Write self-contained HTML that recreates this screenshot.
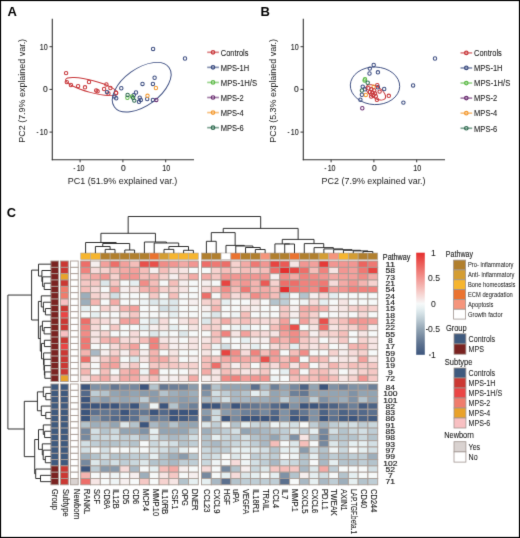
<!DOCTYPE html><html><head><meta charset="utf-8"><style>html,body{margin:0;padding:0;background:#fff;width:520px;height:538px;overflow:hidden}svg text{font-family:"Liberation Sans",sans-serif} svg{will-change:transform}</style></head><body>
<svg width="520" height="538" viewBox="0 0 520 538" style="position:absolute;left:0;top:0">
<defs><filter id="soft" x="0" y="0" width="520" height="538" filterUnits="userSpaceOnUse" color-interpolation-filters="sRGB"><feConvolveMatrix order="3" kernelMatrix="0.0100 0.0800 0.0100 0.0800 0.6400 0.0800 0.0100 0.0800 0.0100" edgeMode="duplicate"/></filter></defs>
<g filter="url(#soft)">
<rect x="0" y="0" width="520" height="538" fill="#fff"/>
<text x="7.50" y="15.65" font-size="13" text-anchor="start" fill="#000" font-weight="bold" >A</text>
<text x="260.60" y="15.65" font-size="13" text-anchor="start" fill="#000" font-weight="bold" >B</text>
<text x="6.70" y="216.80" font-size="12.8" text-anchor="start" fill="#000" font-weight="bold" >C</text>
<line x1="52.30" y1="18.8" x2="52.30" y2="160.2" stroke="#333333" stroke-width="1.1"/>
<line x1="51.80" y1="159.7" x2="194.00" y2="159.7" stroke="#333333" stroke-width="1.1"/>
<line x1="49.50" y1="46.7" x2="52.30" y2="46.7" stroke="#333333" stroke-width="1.0"/>
<text x="47.70" y="49.75" font-size="8.5" text-anchor="end" fill="#222" stroke="#222" stroke-width="0.12" textLength="7.9" lengthAdjust="spacingAndGlyphs" >10</text>
<line x1="49.50" y1="89.4" x2="52.30" y2="89.4" stroke="#333333" stroke-width="1.0"/>
<text x="47.70" y="92.45" font-size="8.5" text-anchor="end" fill="#222" stroke="#222" stroke-width="0.12" >0</text>
<line x1="49.50" y1="132.1" x2="52.30" y2="132.1" stroke="#333333" stroke-width="1.0"/>
<text x="47.70" y="135.15" font-size="8.5" text-anchor="end" fill="#222" stroke="#222" stroke-width="0.12" textLength="7.9" lengthAdjust="spacingAndGlyphs" >10</text>
<rect x="36.70" y="132.00" width="1.6" height="0.9" fill="#333"/>
<line x1="80.10" y1="159.7" x2="80.10" y2="162.29999999999998" stroke="#333333" stroke-width="1.0"/>
<text x="80.60" y="171.40" font-size="8.5" text-anchor="middle" fill="#222" stroke="#222" stroke-width="0.12" textLength="7.9" lengthAdjust="spacingAndGlyphs" >10</text>
<rect x="73.60" y="168.20" width="1.6" height="0.9" fill="#333"/>
<line x1="122.90" y1="159.7" x2="122.90" y2="162.29999999999998" stroke="#333333" stroke-width="1.0"/>
<text x="123.40" y="171.40" font-size="8.5" text-anchor="middle" fill="#222" stroke="#222" stroke-width="0.12" >0</text>
<line x1="165.70" y1="159.7" x2="165.70" y2="162.29999999999998" stroke="#333333" stroke-width="1.0"/>
<text x="166.20" y="171.40" font-size="8.5" text-anchor="middle" fill="#222" stroke="#222" stroke-width="0.12" textLength="7.9" lengthAdjust="spacingAndGlyphs" >10</text>
<text x="122.60" y="183.70" font-size="9.5" text-anchor="middle" fill="#1a1a1a" textLength="109.5" lengthAdjust="spacingAndGlyphs" >PC1 (51.9% explained var.)</text>
<text x="24.60" y="90.80" font-size="9.5" text-anchor="middle" fill="#1a1a1a" textLength="103.8" lengthAdjust="spacingAndGlyphs" transform="rotate(-90 24.60 90.80)" >PC2 (7.9% explained var.)</text>
<ellipse cx="91.7" cy="86.6" rx="27.0" ry="6.0" transform="rotate(14.9 91.7 86.6)" fill="none" stroke="#c8373a" stroke-width="0.95"/>
<ellipse cx="141.7" cy="87.2" rx="33.7" ry="18.5" transform="rotate(-35.9 141.7 87.2)" fill="none" stroke="#3b4c80" stroke-width="0.95"/>
<circle cx="66.1" cy="73.1" r="1.7" fill="none" stroke="#c8373a" stroke-width="1.05"/>
<circle cx="66.8" cy="82.1" r="1.7" fill="none" stroke="#c8373a" stroke-width="1.05"/>
<circle cx="70.9" cy="85.0" r="1.7" fill="none" stroke="#c8373a" stroke-width="1.05"/>
<circle cx="78.1" cy="86.1" r="1.7" fill="none" stroke="#c8373a" stroke-width="1.05"/>
<circle cx="85.0" cy="87.3" r="1.7" fill="none" stroke="#c8373a" stroke-width="1.05"/>
<circle cx="89.0" cy="82.0" r="1.7" fill="none" stroke="#c8373a" stroke-width="1.05"/>
<circle cx="96.2" cy="90.4" r="1.7" fill="none" stroke="#c8373a" stroke-width="1.05"/>
<circle cx="97.6" cy="91.3" r="1.7" fill="none" stroke="#c8373a" stroke-width="1.05"/>
<circle cx="104.1" cy="89.0" r="1.7" fill="none" stroke="#c8373a" stroke-width="1.05"/>
<circle cx="106.4" cy="84.5" r="1.7" fill="none" stroke="#c8373a" stroke-width="1.05"/>
<circle cx="110.4" cy="88.0" r="1.7" fill="none" stroke="#c8373a" stroke-width="1.05"/>
<circle cx="108.4" cy="93.5" r="1.7" fill="none" stroke="#c8373a" stroke-width="1.05"/>
<circle cx="116.1" cy="92.8" r="1.7" fill="none" stroke="#c8373a" stroke-width="1.05"/>
<circle cx="107.0" cy="92.1" r="1.7" fill="none" stroke="#3b4c80" stroke-width="1.05"/>
<circle cx="114.5" cy="96.5" r="1.7" fill="none" stroke="#3b4c80" stroke-width="1.05"/>
<circle cx="116.2" cy="98.2" r="1.7" fill="none" stroke="#3b4c80" stroke-width="1.05"/>
<circle cx="121.3" cy="88.2" r="1.7" fill="none" stroke="#3b4c80" stroke-width="1.05"/>
<circle cx="136.0" cy="92.5" r="1.7" fill="none" stroke="#3b4c80" stroke-width="1.05"/>
<circle cx="133.8" cy="95.1" r="1.7" fill="none" stroke="#3b4c80" stroke-width="1.05"/>
<circle cx="139.7" cy="97.7" r="1.7" fill="none" stroke="#3b4c80" stroke-width="1.05"/>
<circle cx="140.8" cy="99.9" r="1.7" fill="none" stroke="#3b4c80" stroke-width="1.05"/>
<circle cx="139.0" cy="101.8" r="1.7" fill="none" stroke="#3b4c80" stroke-width="1.05"/>
<circle cx="142.5" cy="83.9" r="1.7" fill="none" stroke="#3b4c80" stroke-width="1.05"/>
<circle cx="147.2" cy="99.0" r="1.7" fill="none" stroke="#3b4c80" stroke-width="1.05"/>
<circle cx="152.9" cy="83.9" r="1.7" fill="none" stroke="#3b4c80" stroke-width="1.05"/>
<circle cx="154.6" cy="77.7" r="1.7" fill="none" stroke="#3b4c80" stroke-width="1.05"/>
<circle cx="152.9" cy="99.9" r="1.7" fill="none" stroke="#3b4c80" stroke-width="1.05"/>
<circle cx="153.1" cy="48.9" r="1.7" fill="none" stroke="#3b4c80" stroke-width="1.05"/>
<circle cx="185.0" cy="58.5" r="1.7" fill="none" stroke="#3b4c80" stroke-width="1.05"/>
<circle cx="155.9" cy="88.0" r="1.7" fill="none" stroke="#f39a31" stroke-width="1.05"/>
<circle cx="147.5" cy="95.8" r="1.7" fill="none" stroke="#f39a31" stroke-width="1.05"/>
<circle cx="156.3" cy="99.9" r="1.7" fill="none" stroke="#6b2f72" stroke-width="1.05"/>
<circle cx="127.4" cy="97.7" r="1.7" fill="none" stroke="#5dba48" stroke-width="1.05"/>
<circle cx="132.1" cy="96.4" r="1.7" fill="none" stroke="#5dba48" stroke-width="1.05"/>
<circle cx="127.6" cy="94.9" r="1.7" fill="none" stroke="#2f6b50" stroke-width="1.05"/>
<circle cx="133.1" cy="97.7" r="1.7" fill="none" stroke="#2f6b50" stroke-width="1.05"/>
<circle cx="134.3" cy="100.6" r="1.7" fill="none" stroke="#2f6b50" stroke-width="1.05"/>
<line x1="207.20" y1="52.30" x2="218.90" y2="52.30" stroke="#c8373a" stroke-width="1.7" stroke-opacity="0.6"/>
<circle cx="213.00" cy="52.30" r="1.75" fill="none" stroke="#c8373a" stroke-width="1.2"/>
<text x="220.80" y="55.60" font-size="8.4" text-anchor="start" fill="#1a1a1a" stroke="#1a1a1a" stroke-width="0.08" textLength="27.7" lengthAdjust="spacingAndGlyphs" >Controls</text>
<line x1="207.20" y1="67.37" x2="218.90" y2="67.37" stroke="#3b4c80" stroke-width="1.7" stroke-opacity="0.6"/>
<circle cx="213.00" cy="67.37" r="1.75" fill="none" stroke="#3b4c80" stroke-width="1.2"/>
<text x="220.80" y="70.67" font-size="8.4" text-anchor="start" fill="#1a1a1a" stroke="#1a1a1a" stroke-width="0.08" textLength="28.4" lengthAdjust="spacingAndGlyphs" >MPS-1H</text>
<line x1="207.20" y1="82.44" x2="218.90" y2="82.44" stroke="#5dba48" stroke-width="1.7" stroke-opacity="0.6"/>
<circle cx="213.00" cy="82.44" r="1.75" fill="none" stroke="#5dba48" stroke-width="1.2"/>
<text x="220.80" y="85.74" font-size="8.4" text-anchor="start" fill="#1a1a1a" stroke="#1a1a1a" stroke-width="0.08" textLength="36.2" lengthAdjust="spacingAndGlyphs" >MPS-1H/S</text>
<line x1="207.20" y1="97.51" x2="218.90" y2="97.51" stroke="#6b2f72" stroke-width="1.7" stroke-opacity="0.6"/>
<circle cx="213.00" cy="97.51" r="1.75" fill="none" stroke="#6b2f72" stroke-width="1.2"/>
<text x="220.80" y="100.81" font-size="8.4" text-anchor="start" fill="#1a1a1a" stroke="#1a1a1a" stroke-width="0.08" textLength="23.0" lengthAdjust="spacingAndGlyphs" >MPS-2</text>
<line x1="207.20" y1="112.58" x2="218.90" y2="112.58" stroke="#f39a31" stroke-width="1.7" stroke-opacity="0.6"/>
<circle cx="213.00" cy="112.58" r="1.75" fill="none" stroke="#f39a31" stroke-width="1.2"/>
<text x="220.80" y="115.88" font-size="8.4" text-anchor="start" fill="#1a1a1a" stroke="#1a1a1a" stroke-width="0.08" textLength="23.0" lengthAdjust="spacingAndGlyphs" >MPS-4</text>
<line x1="207.20" y1="127.65" x2="218.90" y2="127.65" stroke="#2f6b50" stroke-width="1.7" stroke-opacity="0.6"/>
<circle cx="213.00" cy="127.65" r="1.75" fill="none" stroke="#2f6b50" stroke-width="1.2"/>
<text x="220.80" y="130.95" font-size="8.4" text-anchor="start" fill="#1a1a1a" stroke="#1a1a1a" stroke-width="0.08" textLength="23.0" lengthAdjust="spacingAndGlyphs" >MPS-6</text>
<line x1="303.30" y1="18.8" x2="303.30" y2="160.2" stroke="#333333" stroke-width="1.1"/>
<line x1="302.80" y1="159.7" x2="445.00" y2="159.7" stroke="#333333" stroke-width="1.1"/>
<line x1="300.50" y1="46.7" x2="303.30" y2="46.7" stroke="#333333" stroke-width="1.0"/>
<text x="298.70" y="49.75" font-size="8.5" text-anchor="end" fill="#222" stroke="#222" stroke-width="0.12" textLength="7.9" lengthAdjust="spacingAndGlyphs" >10</text>
<line x1="300.50" y1="89.4" x2="303.30" y2="89.4" stroke="#333333" stroke-width="1.0"/>
<text x="298.70" y="92.45" font-size="8.5" text-anchor="end" fill="#222" stroke="#222" stroke-width="0.12" >0</text>
<line x1="300.50" y1="132.1" x2="303.30" y2="132.1" stroke="#333333" stroke-width="1.0"/>
<text x="298.70" y="135.15" font-size="8.5" text-anchor="end" fill="#222" stroke="#222" stroke-width="0.12" textLength="7.9" lengthAdjust="spacingAndGlyphs" >10</text>
<rect x="287.70" y="132.00" width="1.6" height="0.9" fill="#333"/>
<line x1="331.10" y1="159.7" x2="331.10" y2="162.29999999999998" stroke="#333333" stroke-width="1.0"/>
<text x="331.60" y="171.40" font-size="8.5" text-anchor="middle" fill="#222" stroke="#222" stroke-width="0.12" textLength="7.9" lengthAdjust="spacingAndGlyphs" >10</text>
<rect x="324.60" y="168.20" width="1.6" height="0.9" fill="#333"/>
<line x1="373.90" y1="159.7" x2="373.90" y2="162.29999999999998" stroke="#333333" stroke-width="1.0"/>
<text x="374.40" y="171.40" font-size="8.5" text-anchor="middle" fill="#222" stroke="#222" stroke-width="0.12" >0</text>
<line x1="416.70" y1="159.7" x2="416.70" y2="162.29999999999998" stroke="#333333" stroke-width="1.0"/>
<text x="417.20" y="171.40" font-size="8.5" text-anchor="middle" fill="#222" stroke="#222" stroke-width="0.12" textLength="7.9" lengthAdjust="spacingAndGlyphs" >10</text>
<text x="373.60" y="183.70" font-size="9.5" text-anchor="middle" fill="#1a1a1a" textLength="104.0" lengthAdjust="spacingAndGlyphs" >PC2 (7.9% explained var.)</text>
<text x="275.60" y="90.80" font-size="9.5" text-anchor="middle" fill="#1a1a1a" textLength="103.8" lengthAdjust="spacingAndGlyphs" transform="rotate(-90 275.60 90.80)" >PC3 (5.3% explained var.)</text>
<ellipse cx="375.0" cy="85.8" rx="24.7" ry="18.8" transform="rotate(2 375.0 85.8)" fill="none" stroke="#3b4c80" stroke-width="0.95"/>
<ellipse cx="375.8" cy="92.4" rx="11.2" ry="5.6" transform="rotate(33 375.8 92.4)" fill="none" stroke="#c8373a" stroke-width="0.95"/>
<circle cx="373.7" cy="65.0" r="1.7" fill="none" stroke="#3b4c80" stroke-width="1.05"/>
<circle cx="369.8" cy="68.6" r="1.7" fill="none" stroke="#3b4c80" stroke-width="1.05"/>
<circle cx="369.5" cy="73.5" r="1.7" fill="none" stroke="#3b4c80" stroke-width="1.05"/>
<circle cx="377.9" cy="72.3" r="1.7" fill="none" stroke="#3b4c80" stroke-width="1.05"/>
<circle cx="362.7" cy="86.6" r="1.7" fill="none" stroke="#3b4c80" stroke-width="1.05"/>
<circle cx="365.0" cy="89.3" r="1.7" fill="none" stroke="#3b4c80" stroke-width="1.05"/>
<circle cx="361.9" cy="94.7" r="1.7" fill="none" stroke="#3b4c80" stroke-width="1.05"/>
<circle cx="360.4" cy="99.7" r="1.7" fill="none" stroke="#3b4c80" stroke-width="1.05"/>
<circle cx="377.9" cy="87.3" r="1.7" fill="none" stroke="#3b4c80" stroke-width="1.05"/>
<circle cx="384.2" cy="89.0" r="1.7" fill="none" stroke="#3b4c80" stroke-width="1.05"/>
<circle cx="413.1" cy="85.4" r="1.7" fill="none" stroke="#3b4c80" stroke-width="1.05"/>
<circle cx="403.4" cy="102.6" r="1.7" fill="none" stroke="#3b4c80" stroke-width="1.05"/>
<circle cx="435.0" cy="58.5" r="1.7" fill="none" stroke="#3b4c80" stroke-width="1.05"/>
<circle cx="362.3" cy="108.2" r="1.7" fill="none" stroke="#6b2f72" stroke-width="1.05"/>
<circle cx="365.0" cy="79.2" r="1.7" fill="none" stroke="#5dba48" stroke-width="1.05"/>
<circle cx="364.6" cy="80.4" r="1.7" fill="none" stroke="#5dba48" stroke-width="1.05"/>
<circle cx="367.7" cy="82.7" r="1.7" fill="none" stroke="#2f6b50" stroke-width="1.05"/>
<circle cx="361.9" cy="90.5" r="1.7" fill="none" stroke="#2f6b50" stroke-width="1.05"/>
<circle cx="373.7" cy="86.7" r="1.7" fill="none" stroke="#f39a31" stroke-width="1.05"/>
<circle cx="365.8" cy="94.9" r="1.7" fill="none" stroke="#f39a31" stroke-width="1.05"/>
<circle cx="368.5" cy="88.2" r="1.7" fill="none" stroke="#c8373a" stroke-width="1.05"/>
<circle cx="371.2" cy="89.3" r="1.7" fill="none" stroke="#c8373a" stroke-width="1.05"/>
<circle cx="374.2" cy="90.5" r="1.7" fill="none" stroke="#c8373a" stroke-width="1.05"/>
<circle cx="372.3" cy="92.4" r="1.7" fill="none" stroke="#c8373a" stroke-width="1.05"/>
<circle cx="375.0" cy="93.5" r="1.7" fill="none" stroke="#c8373a" stroke-width="1.05"/>
<circle cx="371.2" cy="96.6" r="1.7" fill="none" stroke="#c8373a" stroke-width="1.05"/>
<circle cx="375.8" cy="96.2" r="1.7" fill="none" stroke="#c8373a" stroke-width="1.05"/>
<circle cx="379.6" cy="91.6" r="1.7" fill="none" stroke="#c8373a" stroke-width="1.05"/>
<circle cx="377.3" cy="85.1" r="1.7" fill="none" stroke="#c8373a" stroke-width="1.05"/>
<circle cx="376.9" cy="99.7" r="1.7" fill="none" stroke="#c8373a" stroke-width="1.05"/>
<circle cx="388.8" cy="95.8" r="1.7" fill="none" stroke="#c8373a" stroke-width="1.05"/>
<circle cx="373.5" cy="95.0" r="1.7" fill="none" stroke="#c8373a" stroke-width="1.05"/>
<circle cx="370.0" cy="92.0" r="1.7" fill="none" stroke="#c8373a" stroke-width="1.05"/>
<line x1="460.50" y1="52.90" x2="472.20" y2="52.90" stroke="#c8373a" stroke-width="1.7" stroke-opacity="0.6"/>
<circle cx="466.30" cy="52.90" r="1.75" fill="none" stroke="#c8373a" stroke-width="1.2"/>
<text x="474.10" y="56.20" font-size="8.4" text-anchor="start" fill="#1a1a1a" stroke="#1a1a1a" stroke-width="0.08" textLength="27.7" lengthAdjust="spacingAndGlyphs" >Controls</text>
<line x1="460.50" y1="67.97" x2="472.20" y2="67.97" stroke="#3b4c80" stroke-width="1.7" stroke-opacity="0.6"/>
<circle cx="466.30" cy="67.97" r="1.75" fill="none" stroke="#3b4c80" stroke-width="1.2"/>
<text x="474.10" y="71.27" font-size="8.4" text-anchor="start" fill="#1a1a1a" stroke="#1a1a1a" stroke-width="0.08" textLength="28.4" lengthAdjust="spacingAndGlyphs" >MPS-1H</text>
<line x1="460.50" y1="83.04" x2="472.20" y2="83.04" stroke="#5dba48" stroke-width="1.7" stroke-opacity="0.6"/>
<circle cx="466.30" cy="83.04" r="1.75" fill="none" stroke="#5dba48" stroke-width="1.2"/>
<text x="474.10" y="86.34" font-size="8.4" text-anchor="start" fill="#1a1a1a" stroke="#1a1a1a" stroke-width="0.08" textLength="36.2" lengthAdjust="spacingAndGlyphs" >MPS-1H/S</text>
<line x1="460.50" y1="98.11" x2="472.20" y2="98.11" stroke="#6b2f72" stroke-width="1.7" stroke-opacity="0.6"/>
<circle cx="466.30" cy="98.11" r="1.75" fill="none" stroke="#6b2f72" stroke-width="1.2"/>
<text x="474.10" y="101.41" font-size="8.4" text-anchor="start" fill="#1a1a1a" stroke="#1a1a1a" stroke-width="0.08" textLength="23.0" lengthAdjust="spacingAndGlyphs" >MPS-2</text>
<line x1="460.50" y1="113.18" x2="472.20" y2="113.18" stroke="#f39a31" stroke-width="1.7" stroke-opacity="0.6"/>
<circle cx="466.30" cy="113.18" r="1.75" fill="none" stroke="#f39a31" stroke-width="1.2"/>
<text x="474.10" y="116.48" font-size="8.4" text-anchor="start" fill="#1a1a1a" stroke="#1a1a1a" stroke-width="0.08" textLength="23.0" lengthAdjust="spacingAndGlyphs" >MPS-4</text>
<line x1="460.50" y1="128.25" x2="472.20" y2="128.25" stroke="#2f6b50" stroke-width="1.7" stroke-opacity="0.6"/>
<circle cx="466.30" cy="128.25" r="1.75" fill="none" stroke="#2f6b50" stroke-width="1.2"/>
<text x="474.10" y="131.55" font-size="8.4" text-anchor="start" fill="#1a1a1a" stroke="#1a1a1a" stroke-width="0.08" textLength="23.0" lengthAdjust="spacingAndGlyphs" >MPS-6</text>
<rect x="80.70" y="253.0" width="9.80" height="6.6" fill="#f6b52f" stroke="#b3aaa4" stroke-width="0.6"/>
<rect x="90.50" y="253.0" width="9.80" height="6.6" fill="#f6b52f" stroke="#b3aaa4" stroke-width="0.6"/>
<rect x="100.30" y="253.0" width="9.80" height="6.6" fill="#b17f2e" stroke="#b3aaa4" stroke-width="0.6"/>
<rect x="110.10" y="253.0" width="9.80" height="6.6" fill="#b17f2e" stroke="#b3aaa4" stroke-width="0.6"/>
<rect x="119.90" y="253.0" width="9.80" height="6.6" fill="#b17f2e" stroke="#b3aaa4" stroke-width="0.6"/>
<rect x="129.70" y="253.0" width="9.80" height="6.6" fill="#b17f2e" stroke="#b3aaa4" stroke-width="0.6"/>
<rect x="139.50" y="253.0" width="9.80" height="6.6" fill="#b17f2e" stroke="#b3aaa4" stroke-width="0.6"/>
<rect x="149.30" y="253.0" width="9.80" height="6.6" fill="#ea7330" stroke="#b3aaa4" stroke-width="0.6"/>
<rect x="159.10" y="253.0" width="9.80" height="6.6" fill="#d49d33" stroke="#b3aaa4" stroke-width="0.6"/>
<rect x="168.90" y="253.0" width="9.80" height="6.6" fill="#f6b52f" stroke="#b3aaa4" stroke-width="0.6"/>
<rect x="178.70" y="253.0" width="9.80" height="6.6" fill="#f6b52f" stroke="#b3aaa4" stroke-width="0.6"/>
<rect x="188.50" y="253.0" width="9.80" height="6.6" fill="#f6b52f" stroke="#b3aaa4" stroke-width="0.6"/>
<rect x="201.50" y="253.0" width="9.79" height="6.6" fill="#b17f2e" stroke="#b3aaa4" stroke-width="0.6"/>
<rect x="211.29" y="253.0" width="9.79" height="6.6" fill="#b17f2e" stroke="#b3aaa4" stroke-width="0.6"/>
<rect x="221.08" y="253.0" width="9.79" height="6.6" fill="#ffffff" stroke="#b3aaa4" stroke-width="0.6"/>
<rect x="230.87" y="253.0" width="9.79" height="6.6" fill="#ea7330" stroke="#b3aaa4" stroke-width="0.6"/>
<rect x="240.66" y="253.0" width="9.79" height="6.6" fill="#b17f2e" stroke="#b3aaa4" stroke-width="0.6"/>
<rect x="250.45" y="253.0" width="9.79" height="6.6" fill="#b17f2e" stroke="#b3aaa4" stroke-width="0.6"/>
<rect x="260.24" y="253.0" width="9.79" height="6.6" fill="#f5957c" stroke="#b3aaa4" stroke-width="0.6"/>
<rect x="270.03" y="253.0" width="9.79" height="6.6" fill="#b17f2e" stroke="#b3aaa4" stroke-width="0.6"/>
<rect x="279.82" y="253.0" width="9.79" height="6.6" fill="#b17f2e" stroke="#b3aaa4" stroke-width="0.6"/>
<rect x="289.61" y="253.0" width="9.79" height="6.6" fill="#ea7330" stroke="#b3aaa4" stroke-width="0.6"/>
<rect x="299.40" y="253.0" width="9.79" height="6.6" fill="#b17f2e" stroke="#b3aaa4" stroke-width="0.6"/>
<rect x="309.19" y="253.0" width="9.79" height="6.6" fill="#b17f2e" stroke="#b3aaa4" stroke-width="0.6"/>
<rect x="318.98" y="253.0" width="9.79" height="6.6" fill="#d49d33" stroke="#b3aaa4" stroke-width="0.6"/>
<rect x="328.77" y="253.0" width="9.79" height="6.6" fill="#f5957c" stroke="#b3aaa4" stroke-width="0.6"/>
<rect x="338.56" y="253.0" width="9.79" height="6.6" fill="#f6b52f" stroke="#b3aaa4" stroke-width="0.6"/>
<rect x="348.35" y="253.0" width="9.79" height="6.6" fill="#d49d33" stroke="#b3aaa4" stroke-width="0.6"/>
<rect x="358.14" y="253.0" width="9.79" height="6.6" fill="#b17f2e" stroke="#b3aaa4" stroke-width="0.6"/>
<rect x="367.93" y="253.0" width="9.79" height="6.6" fill="#b17f2e" stroke="#b3aaa4" stroke-width="0.6"/>
<rect x="80.70" y="261.00" width="9.80" height="6.34" fill="#ed6e69" stroke="#a99d96" stroke-width="0.9"/>
<rect x="90.50" y="261.00" width="9.80" height="6.34" fill="#f6efef" stroke="#a99d96" stroke-width="0.9"/>
<rect x="100.30" y="261.00" width="9.80" height="6.34" fill="#f3a09c" stroke="#a99d96" stroke-width="0.9"/>
<rect x="110.10" y="261.00" width="9.80" height="6.34" fill="#ed6e69" stroke="#a99d96" stroke-width="0.9"/>
<rect x="119.90" y="261.00" width="9.80" height="6.34" fill="#f3a09c" stroke="#a99d96" stroke-width="0.9"/>
<rect x="129.70" y="261.00" width="9.80" height="6.34" fill="#f5beba" stroke="#a99d96" stroke-width="0.9"/>
<rect x="139.50" y="261.00" width="9.80" height="6.34" fill="#e94f4b" stroke="#a99d96" stroke-width="0.9"/>
<rect x="149.30" y="261.00" width="9.80" height="6.34" fill="#e94f4b" stroke="#a99d96" stroke-width="0.9"/>
<rect x="159.10" y="261.00" width="9.80" height="6.34" fill="#f18c87" stroke="#a99d96" stroke-width="0.9"/>
<rect x="168.90" y="261.00" width="9.80" height="6.34" fill="#f29692" stroke="#a99d96" stroke-width="0.9"/>
<rect x="178.70" y="261.00" width="9.80" height="6.34" fill="#f3aaa6" stroke="#a99d96" stroke-width="0.9"/>
<rect x="188.50" y="261.00" width="9.80" height="6.34" fill="#f29692" stroke="#a99d96" stroke-width="0.9"/>
<rect x="201.50" y="261.00" width="9.79" height="6.34" fill="#ed6e69" stroke="#a99d96" stroke-width="0.9"/>
<rect x="211.29" y="261.00" width="9.79" height="6.34" fill="#ef7873" stroke="#a99d96" stroke-width="0.9"/>
<rect x="221.08" y="261.00" width="9.79" height="6.34" fill="#ed6e69" stroke="#a99d96" stroke-width="0.9"/>
<rect x="230.87" y="261.00" width="9.79" height="6.34" fill="#f6d2cf" stroke="#a99d96" stroke-width="0.9"/>
<rect x="240.66" y="261.00" width="9.79" height="6.34" fill="#f3aaa6" stroke="#a99d96" stroke-width="0.9"/>
<rect x="250.45" y="261.00" width="9.79" height="6.34" fill="#ef7873" stroke="#a99d96" stroke-width="0.9"/>
<rect x="260.24" y="261.00" width="9.79" height="6.34" fill="#f29692" stroke="#a99d96" stroke-width="0.9"/>
<rect x="270.03" y="261.00" width="9.79" height="6.34" fill="#e84441" stroke="#a99d96" stroke-width="0.9"/>
<rect x="279.82" y="261.00" width="9.79" height="6.34" fill="#eb5955" stroke="#a99d96" stroke-width="0.9"/>
<rect x="289.61" y="261.00" width="9.79" height="6.34" fill="#f6e5e4" stroke="#a99d96" stroke-width="0.9"/>
<rect x="299.40" y="261.00" width="9.79" height="6.34" fill="#f29692" stroke="#a99d96" stroke-width="0.9"/>
<rect x="309.19" y="261.00" width="9.79" height="6.34" fill="#f3a09c" stroke="#a99d96" stroke-width="0.9"/>
<rect x="318.98" y="261.00" width="9.79" height="6.34" fill="#e63937" stroke="#a99d96" stroke-width="0.9"/>
<rect x="328.77" y="261.00" width="9.79" height="6.34" fill="#f29692" stroke="#a99d96" stroke-width="0.9"/>
<rect x="338.56" y="261.00" width="9.79" height="6.34" fill="#f29692" stroke="#a99d96" stroke-width="0.9"/>
<rect x="348.35" y="261.00" width="9.79" height="6.34" fill="#f29692" stroke="#a99d96" stroke-width="0.9"/>
<rect x="358.14" y="261.00" width="9.79" height="6.34" fill="#ec645f" stroke="#a99d96" stroke-width="0.9"/>
<rect x="367.93" y="261.00" width="9.79" height="6.34" fill="#ef7873" stroke="#a99d96" stroke-width="0.9"/>
<rect x="50.90" y="261.00" width="7.70" height="6.34" fill="#7a2321" stroke="#a99d96" stroke-width="0.9"/>
<rect x="60.50" y="261.00" width="7.80" height="6.34" fill="#cb3833" stroke="#a99d96" stroke-width="0.9"/>
<rect x="70.40" y="261.00" width="7.80" height="6.34" fill="#ffffff" stroke="#a99d96" stroke-width="0.9"/>
<rect x="80.70" y="267.34" width="9.80" height="6.34" fill="#f0827d" stroke="#a99d96" stroke-width="0.9"/>
<rect x="90.50" y="267.34" width="9.80" height="6.34" fill="#f6dbda" stroke="#a99d96" stroke-width="0.9"/>
<rect x="100.30" y="267.34" width="9.80" height="6.34" fill="#f6d2cf" stroke="#a99d96" stroke-width="0.9"/>
<rect x="110.10" y="267.34" width="9.80" height="6.34" fill="#f5beba" stroke="#a99d96" stroke-width="0.9"/>
<rect x="119.90" y="267.34" width="9.80" height="6.34" fill="#f3aaa6" stroke="#a99d96" stroke-width="0.9"/>
<rect x="129.70" y="267.34" width="9.80" height="6.34" fill="#f3a09c" stroke="#a99d96" stroke-width="0.9"/>
<rect x="139.50" y="267.34" width="9.80" height="6.34" fill="#f5beba" stroke="#a99d96" stroke-width="0.9"/>
<rect x="149.30" y="267.34" width="9.80" height="6.34" fill="#f6efef" stroke="#a99d96" stroke-width="0.9"/>
<rect x="159.10" y="267.34" width="9.80" height="6.34" fill="#f5beba" stroke="#a99d96" stroke-width="0.9"/>
<rect x="168.90" y="267.34" width="9.80" height="6.34" fill="#f6dbda" stroke="#a99d96" stroke-width="0.9"/>
<rect x="178.70" y="267.34" width="9.80" height="6.34" fill="#f6e5e4" stroke="#a99d96" stroke-width="0.9"/>
<rect x="188.50" y="267.34" width="9.80" height="6.34" fill="#f6f9f9" stroke="#a99d96" stroke-width="0.9"/>
<rect x="201.50" y="267.34" width="9.79" height="6.34" fill="#f6f9f9" stroke="#a99d96" stroke-width="0.9"/>
<rect x="211.29" y="267.34" width="9.79" height="6.34" fill="#f6d2cf" stroke="#a99d96" stroke-width="0.9"/>
<rect x="221.08" y="267.34" width="9.79" height="6.34" fill="#f5beba" stroke="#a99d96" stroke-width="0.9"/>
<rect x="230.87" y="267.34" width="9.79" height="6.34" fill="#f6d2cf" stroke="#a99d96" stroke-width="0.9"/>
<rect x="240.66" y="267.34" width="9.79" height="6.34" fill="#f5beba" stroke="#a99d96" stroke-width="0.9"/>
<rect x="250.45" y="267.34" width="9.79" height="6.34" fill="#f5c8c5" stroke="#a99d96" stroke-width="0.9"/>
<rect x="260.24" y="267.34" width="9.79" height="6.34" fill="#f5beba" stroke="#a99d96" stroke-width="0.9"/>
<rect x="270.03" y="267.34" width="9.79" height="6.34" fill="#ed6e69" stroke="#a99d96" stroke-width="0.9"/>
<rect x="279.82" y="267.34" width="9.79" height="6.34" fill="#e52d2d" stroke="#a99d96" stroke-width="0.9"/>
<rect x="289.61" y="267.34" width="9.79" height="6.34" fill="#e84441" stroke="#a99d96" stroke-width="0.9"/>
<rect x="299.40" y="267.34" width="9.79" height="6.34" fill="#ed6e69" stroke="#a99d96" stroke-width="0.9"/>
<rect x="309.19" y="267.34" width="9.79" height="6.34" fill="#f5beba" stroke="#a99d96" stroke-width="0.9"/>
<rect x="318.98" y="267.34" width="9.79" height="6.34" fill="#f0827d" stroke="#a99d96" stroke-width="0.9"/>
<rect x="328.77" y="267.34" width="9.79" height="6.34" fill="#f6e5e4" stroke="#a99d96" stroke-width="0.9"/>
<rect x="338.56" y="267.34" width="9.79" height="6.34" fill="#f29692" stroke="#a99d96" stroke-width="0.9"/>
<rect x="348.35" y="267.34" width="9.79" height="6.34" fill="#f3a09c" stroke="#a99d96" stroke-width="0.9"/>
<rect x="358.14" y="267.34" width="9.79" height="6.34" fill="#ef7873" stroke="#a99d96" stroke-width="0.9"/>
<rect x="367.93" y="267.34" width="9.79" height="6.34" fill="#e84441" stroke="#a99d96" stroke-width="0.9"/>
<rect x="50.90" y="267.34" width="7.70" height="6.34" fill="#7a2321" stroke="#a99d96" stroke-width="0.9"/>
<rect x="60.50" y="267.34" width="7.80" height="6.34" fill="#cb3833" stroke="#a99d96" stroke-width="0.9"/>
<rect x="70.40" y="267.34" width="7.80" height="6.34" fill="#ffffff" stroke="#a99d96" stroke-width="0.9"/>
<rect x="80.70" y="273.68" width="9.80" height="6.34" fill="#f4b4b0" stroke="#a99d96" stroke-width="0.9"/>
<rect x="90.50" y="273.68" width="9.80" height="6.34" fill="#f3aaa6" stroke="#a99d96" stroke-width="0.9"/>
<rect x="100.30" y="273.68" width="9.80" height="6.34" fill="#f29692" stroke="#a99d96" stroke-width="0.9"/>
<rect x="110.10" y="273.68" width="9.80" height="6.34" fill="#f6d2cf" stroke="#a99d96" stroke-width="0.9"/>
<rect x="119.90" y="273.68" width="9.80" height="6.34" fill="#f29692" stroke="#a99d96" stroke-width="0.9"/>
<rect x="129.70" y="273.68" width="9.80" height="6.34" fill="#f29692" stroke="#a99d96" stroke-width="0.9"/>
<rect x="139.50" y="273.68" width="9.80" height="6.34" fill="#f5beba" stroke="#a99d96" stroke-width="0.9"/>
<rect x="149.30" y="273.68" width="9.80" height="6.34" fill="#f4b4b0" stroke="#a99d96" stroke-width="0.9"/>
<rect x="159.10" y="273.68" width="9.80" height="6.34" fill="#f6d2cf" stroke="#a99d96" stroke-width="0.9"/>
<rect x="168.90" y="273.68" width="9.80" height="6.34" fill="#f6efef" stroke="#a99d96" stroke-width="0.9"/>
<rect x="178.70" y="273.68" width="9.80" height="6.34" fill="#f6d2cf" stroke="#a99d96" stroke-width="0.9"/>
<rect x="188.50" y="273.68" width="9.80" height="6.34" fill="#f3aaa6" stroke="#a99d96" stroke-width="0.9"/>
<rect x="201.50" y="273.68" width="9.79" height="6.34" fill="#f3aaa6" stroke="#a99d96" stroke-width="0.9"/>
<rect x="211.29" y="273.68" width="9.79" height="6.34" fill="#f5c8c5" stroke="#a99d96" stroke-width="0.9"/>
<rect x="221.08" y="273.68" width="9.79" height="6.34" fill="#f29692" stroke="#a99d96" stroke-width="0.9"/>
<rect x="230.87" y="273.68" width="9.79" height="6.34" fill="#f29692" stroke="#a99d96" stroke-width="0.9"/>
<rect x="240.66" y="273.68" width="9.79" height="6.34" fill="#f29692" stroke="#a99d96" stroke-width="0.9"/>
<rect x="250.45" y="273.68" width="9.79" height="6.34" fill="#f29692" stroke="#a99d96" stroke-width="0.9"/>
<rect x="260.24" y="273.68" width="9.79" height="6.34" fill="#f29692" stroke="#a99d96" stroke-width="0.9"/>
<rect x="270.03" y="273.68" width="9.79" height="6.34" fill="#f6efef" stroke="#a99d96" stroke-width="0.9"/>
<rect x="279.82" y="273.68" width="9.79" height="6.34" fill="#f18c87" stroke="#a99d96" stroke-width="0.9"/>
<rect x="289.61" y="273.68" width="9.79" height="6.34" fill="#f3aaa6" stroke="#a99d96" stroke-width="0.9"/>
<rect x="299.40" y="273.68" width="9.79" height="6.34" fill="#f0827d" stroke="#a99d96" stroke-width="0.9"/>
<rect x="309.19" y="273.68" width="9.79" height="6.34" fill="#f18c87" stroke="#a99d96" stroke-width="0.9"/>
<rect x="318.98" y="273.68" width="9.79" height="6.34" fill="#f29692" stroke="#a99d96" stroke-width="0.9"/>
<rect x="328.77" y="273.68" width="9.79" height="6.34" fill="#f3aaa6" stroke="#a99d96" stroke-width="0.9"/>
<rect x="338.56" y="273.68" width="9.79" height="6.34" fill="#f3a09c" stroke="#a99d96" stroke-width="0.9"/>
<rect x="348.35" y="273.68" width="9.79" height="6.34" fill="#f3a09c" stroke="#a99d96" stroke-width="0.9"/>
<rect x="358.14" y="273.68" width="9.79" height="6.34" fill="#f18c87" stroke="#a99d96" stroke-width="0.9"/>
<rect x="367.93" y="273.68" width="9.79" height="6.34" fill="#f3aaa6" stroke="#a99d96" stroke-width="0.9"/>
<rect x="50.90" y="273.68" width="7.70" height="6.34" fill="#7a2321" stroke="#a99d96" stroke-width="0.9"/>
<rect x="60.50" y="273.68" width="7.80" height="6.34" fill="#e9a22a" stroke="#a99d96" stroke-width="0.9"/>
<rect x="70.40" y="273.68" width="7.80" height="6.34" fill="#ffffff" stroke="#a99d96" stroke-width="0.9"/>
<rect x="80.70" y="280.02" width="9.80" height="6.34" fill="#f5c8c5" stroke="#a99d96" stroke-width="0.9"/>
<rect x="90.50" y="280.02" width="9.80" height="6.34" fill="#f5c8c5" stroke="#a99d96" stroke-width="0.9"/>
<rect x="100.30" y="280.02" width="9.80" height="6.34" fill="#dce7ea" stroke="#a99d96" stroke-width="0.9"/>
<rect x="110.10" y="280.02" width="9.80" height="6.34" fill="#f5c8c5" stroke="#a99d96" stroke-width="0.9"/>
<rect x="119.90" y="280.02" width="9.80" height="6.34" fill="#f6f9f9" stroke="#a99d96" stroke-width="0.9"/>
<rect x="129.70" y="280.02" width="9.80" height="6.34" fill="#e5eff1" stroke="#a99d96" stroke-width="0.9"/>
<rect x="139.50" y="280.02" width="9.80" height="6.34" fill="#f18c87" stroke="#a99d96" stroke-width="0.9"/>
<rect x="149.30" y="280.02" width="9.80" height="6.34" fill="#f5beba" stroke="#a99d96" stroke-width="0.9"/>
<rect x="159.10" y="280.02" width="9.80" height="6.34" fill="#f6f9f9" stroke="#a99d96" stroke-width="0.9"/>
<rect x="168.90" y="280.02" width="9.80" height="6.34" fill="#f5beba" stroke="#a99d96" stroke-width="0.9"/>
<rect x="178.70" y="280.02" width="9.80" height="6.34" fill="#f6efef" stroke="#a99d96" stroke-width="0.9"/>
<rect x="188.50" y="280.02" width="9.80" height="6.34" fill="#f6f9f9" stroke="#a99d96" stroke-width="0.9"/>
<rect x="201.50" y="280.02" width="9.79" height="6.34" fill="#f6efef" stroke="#a99d96" stroke-width="0.9"/>
<rect x="211.29" y="280.02" width="9.79" height="6.34" fill="#f6f9f9" stroke="#a99d96" stroke-width="0.9"/>
<rect x="221.08" y="280.02" width="9.79" height="6.34" fill="#e84441" stroke="#a99d96" stroke-width="0.9"/>
<rect x="230.87" y="280.02" width="9.79" height="6.34" fill="#f3aaa6" stroke="#a99d96" stroke-width="0.9"/>
<rect x="240.66" y="280.02" width="9.79" height="6.34" fill="#f29692" stroke="#a99d96" stroke-width="0.9"/>
<rect x="250.45" y="280.02" width="9.79" height="6.34" fill="#f4b4b0" stroke="#a99d96" stroke-width="0.9"/>
<rect x="260.24" y="280.02" width="9.79" height="6.34" fill="#eb5955" stroke="#a99d96" stroke-width="0.9"/>
<rect x="270.03" y="280.02" width="9.79" height="6.34" fill="#f6d2cf" stroke="#a99d96" stroke-width="0.9"/>
<rect x="279.82" y="280.02" width="9.79" height="6.34" fill="#ed6e69" stroke="#a99d96" stroke-width="0.9"/>
<rect x="289.61" y="280.02" width="9.79" height="6.34" fill="#ed6e69" stroke="#a99d96" stroke-width="0.9"/>
<rect x="299.40" y="280.02" width="9.79" height="6.34" fill="#f0827d" stroke="#a99d96" stroke-width="0.9"/>
<rect x="309.19" y="280.02" width="9.79" height="6.34" fill="#f0827d" stroke="#a99d96" stroke-width="0.9"/>
<rect x="318.98" y="280.02" width="9.79" height="6.34" fill="#ef7873" stroke="#a99d96" stroke-width="0.9"/>
<rect x="328.77" y="280.02" width="9.79" height="6.34" fill="#f6dbda" stroke="#a99d96" stroke-width="0.9"/>
<rect x="338.56" y="280.02" width="9.79" height="6.34" fill="#f3aaa6" stroke="#a99d96" stroke-width="0.9"/>
<rect x="348.35" y="280.02" width="9.79" height="6.34" fill="#f29692" stroke="#a99d96" stroke-width="0.9"/>
<rect x="358.14" y="280.02" width="9.79" height="6.34" fill="#f4b4b0" stroke="#a99d96" stroke-width="0.9"/>
<rect x="367.93" y="280.02" width="9.79" height="6.34" fill="#f6d2cf" stroke="#a99d96" stroke-width="0.9"/>
<rect x="50.90" y="280.02" width="7.70" height="6.34" fill="#7a2321" stroke="#a99d96" stroke-width="0.9"/>
<rect x="60.50" y="280.02" width="7.80" height="6.34" fill="#cb3833" stroke="#a99d96" stroke-width="0.9"/>
<rect x="70.40" y="280.02" width="7.80" height="6.34" fill="#ffffff" stroke="#a99d96" stroke-width="0.9"/>
<rect x="80.70" y="286.36" width="9.80" height="6.34" fill="#f5beba" stroke="#a99d96" stroke-width="0.9"/>
<rect x="90.50" y="286.36" width="9.80" height="6.34" fill="#f6dbda" stroke="#a99d96" stroke-width="0.9"/>
<rect x="100.30" y="286.36" width="9.80" height="6.34" fill="#f6f9f9" stroke="#a99d96" stroke-width="0.9"/>
<rect x="110.10" y="286.36" width="9.80" height="6.34" fill="#f3a09c" stroke="#a99d96" stroke-width="0.9"/>
<rect x="119.90" y="286.36" width="9.80" height="6.34" fill="#f6efef" stroke="#a99d96" stroke-width="0.9"/>
<rect x="129.70" y="286.36" width="9.80" height="6.34" fill="#f6e5e4" stroke="#a99d96" stroke-width="0.9"/>
<rect x="139.50" y="286.36" width="9.80" height="6.34" fill="#f4b4b0" stroke="#a99d96" stroke-width="0.9"/>
<rect x="149.30" y="286.36" width="9.80" height="6.34" fill="#f3aaa6" stroke="#a99d96" stroke-width="0.9"/>
<rect x="159.10" y="286.36" width="9.80" height="6.34" fill="#f6d2cf" stroke="#a99d96" stroke-width="0.9"/>
<rect x="168.90" y="286.36" width="9.80" height="6.34" fill="#f6d2cf" stroke="#a99d96" stroke-width="0.9"/>
<rect x="178.70" y="286.36" width="9.80" height="6.34" fill="#f6e5e4" stroke="#a99d96" stroke-width="0.9"/>
<rect x="188.50" y="286.36" width="9.80" height="6.34" fill="#f6f9f9" stroke="#a99d96" stroke-width="0.9"/>
<rect x="201.50" y="286.36" width="9.79" height="6.34" fill="#f6dbda" stroke="#a99d96" stroke-width="0.9"/>
<rect x="211.29" y="286.36" width="9.79" height="6.34" fill="#f5beba" stroke="#a99d96" stroke-width="0.9"/>
<rect x="221.08" y="286.36" width="9.79" height="6.34" fill="#f18c87" stroke="#a99d96" stroke-width="0.9"/>
<rect x="230.87" y="286.36" width="9.79" height="6.34" fill="#f5beba" stroke="#a99d96" stroke-width="0.9"/>
<rect x="240.66" y="286.36" width="9.79" height="6.34" fill="#ef7873" stroke="#a99d96" stroke-width="0.9"/>
<rect x="250.45" y="286.36" width="9.79" height="6.34" fill="#f4b4b0" stroke="#a99d96" stroke-width="0.9"/>
<rect x="260.24" y="286.36" width="9.79" height="6.34" fill="#f3aaa6" stroke="#a99d96" stroke-width="0.9"/>
<rect x="270.03" y="286.36" width="9.79" height="6.34" fill="#f5beba" stroke="#a99d96" stroke-width="0.9"/>
<rect x="279.82" y="286.36" width="9.79" height="6.34" fill="#e52d2d" stroke="#a99d96" stroke-width="0.9"/>
<rect x="289.61" y="286.36" width="9.79" height="6.34" fill="#ef7873" stroke="#a99d96" stroke-width="0.9"/>
<rect x="299.40" y="286.36" width="9.79" height="6.34" fill="#f0827d" stroke="#a99d96" stroke-width="0.9"/>
<rect x="309.19" y="286.36" width="9.79" height="6.34" fill="#f18c87" stroke="#a99d96" stroke-width="0.9"/>
<rect x="318.98" y="286.36" width="9.79" height="6.34" fill="#eb5955" stroke="#a99d96" stroke-width="0.9"/>
<rect x="328.77" y="286.36" width="9.79" height="6.34" fill="#f3a09c" stroke="#a99d96" stroke-width="0.9"/>
<rect x="338.56" y="286.36" width="9.79" height="6.34" fill="#f29692" stroke="#a99d96" stroke-width="0.9"/>
<rect x="348.35" y="286.36" width="9.79" height="6.34" fill="#f0827d" stroke="#a99d96" stroke-width="0.9"/>
<rect x="358.14" y="286.36" width="9.79" height="6.34" fill="#f0827d" stroke="#a99d96" stroke-width="0.9"/>
<rect x="367.93" y="286.36" width="9.79" height="6.34" fill="#f0827d" stroke="#a99d96" stroke-width="0.9"/>
<rect x="50.90" y="286.36" width="7.70" height="6.34" fill="#7a2321" stroke="#a99d96" stroke-width="0.9"/>
<rect x="60.50" y="286.36" width="7.80" height="6.34" fill="#f07c6c" stroke="#a99d96" stroke-width="0.9"/>
<rect x="70.40" y="286.36" width="7.80" height="6.34" fill="#ffffff" stroke="#a99d96" stroke-width="0.9"/>
<rect x="80.70" y="292.70" width="9.80" height="6.34" fill="#9daebb" stroke="#a99d96" stroke-width="0.9"/>
<rect x="90.50" y="292.70" width="9.80" height="6.34" fill="#f6d2cf" stroke="#a99d96" stroke-width="0.9"/>
<rect x="100.30" y="292.70" width="9.80" height="6.34" fill="#f6e5e4" stroke="#a99d96" stroke-width="0.9"/>
<rect x="110.10" y="292.70" width="9.80" height="6.34" fill="#d2dfe4" stroke="#a99d96" stroke-width="0.9"/>
<rect x="119.90" y="292.70" width="9.80" height="6.34" fill="#f6f9f9" stroke="#a99d96" stroke-width="0.9"/>
<rect x="129.70" y="292.70" width="9.80" height="6.34" fill="#f6f9f9" stroke="#a99d96" stroke-width="0.9"/>
<rect x="139.50" y="292.70" width="9.80" height="6.34" fill="#f6f9f9" stroke="#a99d96" stroke-width="0.9"/>
<rect x="149.30" y="292.70" width="9.80" height="6.34" fill="#f5c8c5" stroke="#a99d96" stroke-width="0.9"/>
<rect x="159.10" y="292.70" width="9.80" height="6.34" fill="#f6f9f9" stroke="#a99d96" stroke-width="0.9"/>
<rect x="168.90" y="292.70" width="9.80" height="6.34" fill="#f5beba" stroke="#a99d96" stroke-width="0.9"/>
<rect x="178.70" y="292.70" width="9.80" height="6.34" fill="#f6f9f9" stroke="#a99d96" stroke-width="0.9"/>
<rect x="188.50" y="292.70" width="9.80" height="6.34" fill="#f6f9f9" stroke="#a99d96" stroke-width="0.9"/>
<rect x="201.50" y="292.70" width="9.79" height="6.34" fill="#ed6e69" stroke="#a99d96" stroke-width="0.9"/>
<rect x="211.29" y="292.70" width="9.79" height="6.34" fill="#f6f9f9" stroke="#a99d96" stroke-width="0.9"/>
<rect x="221.08" y="292.70" width="9.79" height="6.34" fill="#f3aaa6" stroke="#a99d96" stroke-width="0.9"/>
<rect x="230.87" y="292.70" width="9.79" height="6.34" fill="#f6dbda" stroke="#a99d96" stroke-width="0.9"/>
<rect x="240.66" y="292.70" width="9.79" height="6.34" fill="#f5c8c5" stroke="#a99d96" stroke-width="0.9"/>
<rect x="250.45" y="292.70" width="9.79" height="6.34" fill="#f18c87" stroke="#a99d96" stroke-width="0.9"/>
<rect x="260.24" y="292.70" width="9.79" height="6.34" fill="#f3a09c" stroke="#a99d96" stroke-width="0.9"/>
<rect x="270.03" y="292.70" width="9.79" height="6.34" fill="#f5beba" stroke="#a99d96" stroke-width="0.9"/>
<rect x="279.82" y="292.70" width="9.79" height="6.34" fill="#becdd5" stroke="#a99d96" stroke-width="0.9"/>
<rect x="289.61" y="292.70" width="9.79" height="6.34" fill="#f6f9f9" stroke="#a99d96" stroke-width="0.9"/>
<rect x="299.40" y="292.70" width="9.79" height="6.34" fill="#b3c3cc" stroke="#a99d96" stroke-width="0.9"/>
<rect x="309.19" y="292.70" width="9.79" height="6.34" fill="#f6efef" stroke="#a99d96" stroke-width="0.9"/>
<rect x="318.98" y="292.70" width="9.79" height="6.34" fill="#f6dbda" stroke="#a99d96" stroke-width="0.9"/>
<rect x="328.77" y="292.70" width="9.79" height="6.34" fill="#e5eff1" stroke="#a99d96" stroke-width="0.9"/>
<rect x="338.56" y="292.70" width="9.79" height="6.34" fill="#f6f9f9" stroke="#a99d96" stroke-width="0.9"/>
<rect x="348.35" y="292.70" width="9.79" height="6.34" fill="#f6f9f9" stroke="#a99d96" stroke-width="0.9"/>
<rect x="358.14" y="292.70" width="9.79" height="6.34" fill="#f6f9f9" stroke="#a99d96" stroke-width="0.9"/>
<rect x="367.93" y="292.70" width="9.79" height="6.34" fill="#f6f9f9" stroke="#a99d96" stroke-width="0.9"/>
<rect x="50.90" y="292.70" width="7.70" height="6.34" fill="#7a2321" stroke="#a99d96" stroke-width="0.9"/>
<rect x="60.50" y="292.70" width="7.80" height="6.34" fill="#f07c6c" stroke="#a99d96" stroke-width="0.9"/>
<rect x="70.40" y="292.70" width="7.80" height="6.34" fill="#ffffff" stroke="#a99d96" stroke-width="0.9"/>
<rect x="80.70" y="299.04" width="9.80" height="6.34" fill="#9daebb" stroke="#a99d96" stroke-width="0.9"/>
<rect x="90.50" y="299.04" width="9.80" height="6.34" fill="#f4b4b0" stroke="#a99d96" stroke-width="0.9"/>
<rect x="100.30" y="299.04" width="9.80" height="6.34" fill="#f6f9f9" stroke="#a99d96" stroke-width="0.9"/>
<rect x="110.10" y="299.04" width="9.80" height="6.34" fill="#f3aaa6" stroke="#a99d96" stroke-width="0.9"/>
<rect x="119.90" y="299.04" width="9.80" height="6.34" fill="#f6f9f9" stroke="#a99d96" stroke-width="0.9"/>
<rect x="129.70" y="299.04" width="9.80" height="6.34" fill="#f6f9f9" stroke="#a99d96" stroke-width="0.9"/>
<rect x="139.50" y="299.04" width="9.80" height="6.34" fill="#eef4f5" stroke="#a99d96" stroke-width="0.9"/>
<rect x="149.30" y="299.04" width="9.80" height="6.34" fill="#dce7ea" stroke="#a99d96" stroke-width="0.9"/>
<rect x="159.10" y="299.04" width="9.80" height="6.34" fill="#e5eff1" stroke="#a99d96" stroke-width="0.9"/>
<rect x="168.90" y="299.04" width="9.80" height="6.34" fill="#dce7ea" stroke="#a99d96" stroke-width="0.9"/>
<rect x="178.70" y="299.04" width="9.80" height="6.34" fill="#f6f9f9" stroke="#a99d96" stroke-width="0.9"/>
<rect x="188.50" y="299.04" width="9.80" height="6.34" fill="#f6efef" stroke="#a99d96" stroke-width="0.9"/>
<rect x="201.50" y="299.04" width="9.79" height="6.34" fill="#f6d2cf" stroke="#a99d96" stroke-width="0.9"/>
<rect x="211.29" y="299.04" width="9.79" height="6.34" fill="#f5c8c5" stroke="#a99d96" stroke-width="0.9"/>
<rect x="221.08" y="299.04" width="9.79" height="6.34" fill="#e5eff1" stroke="#a99d96" stroke-width="0.9"/>
<rect x="230.87" y="299.04" width="9.79" height="6.34" fill="#f6f9f9" stroke="#a99d96" stroke-width="0.9"/>
<rect x="240.66" y="299.04" width="9.79" height="6.34" fill="#f6f9f9" stroke="#a99d96" stroke-width="0.9"/>
<rect x="250.45" y="299.04" width="9.79" height="6.34" fill="#f6e5e4" stroke="#a99d96" stroke-width="0.9"/>
<rect x="260.24" y="299.04" width="9.79" height="6.34" fill="#f6f9f9" stroke="#a99d96" stroke-width="0.9"/>
<rect x="270.03" y="299.04" width="9.79" height="6.34" fill="#b3c3cc" stroke="#a99d96" stroke-width="0.9"/>
<rect x="279.82" y="299.04" width="9.79" height="6.34" fill="#becdd5" stroke="#a99d96" stroke-width="0.9"/>
<rect x="289.61" y="299.04" width="9.79" height="6.34" fill="#f6f9f9" stroke="#a99d96" stroke-width="0.9"/>
<rect x="299.40" y="299.04" width="9.79" height="6.34" fill="#eef4f5" stroke="#a99d96" stroke-width="0.9"/>
<rect x="309.19" y="299.04" width="9.79" height="6.34" fill="#f6dbda" stroke="#a99d96" stroke-width="0.9"/>
<rect x="318.98" y="299.04" width="9.79" height="6.34" fill="#e5eff1" stroke="#a99d96" stroke-width="0.9"/>
<rect x="328.77" y="299.04" width="9.79" height="6.34" fill="#f6f9f9" stroke="#a99d96" stroke-width="0.9"/>
<rect x="338.56" y="299.04" width="9.79" height="6.34" fill="#f6e5e4" stroke="#a99d96" stroke-width="0.9"/>
<rect x="348.35" y="299.04" width="9.79" height="6.34" fill="#f6f9f9" stroke="#a99d96" stroke-width="0.9"/>
<rect x="358.14" y="299.04" width="9.79" height="6.34" fill="#f6f9f9" stroke="#a99d96" stroke-width="0.9"/>
<rect x="367.93" y="299.04" width="9.79" height="6.34" fill="#f6f9f9" stroke="#a99d96" stroke-width="0.9"/>
<rect x="50.90" y="299.04" width="7.70" height="6.34" fill="#7a2321" stroke="#a99d96" stroke-width="0.9"/>
<rect x="60.50" y="299.04" width="7.80" height="6.34" fill="#f8c0c2" stroke="#a99d96" stroke-width="0.9"/>
<rect x="70.40" y="299.04" width="7.80" height="6.34" fill="#ffffff" stroke="#a99d96" stroke-width="0.9"/>
<rect x="80.70" y="305.38" width="9.80" height="6.34" fill="#e5eff1" stroke="#a99d96" stroke-width="0.9"/>
<rect x="90.50" y="305.38" width="9.80" height="6.34" fill="#f6f9f9" stroke="#a99d96" stroke-width="0.9"/>
<rect x="100.30" y="305.38" width="9.80" height="6.34" fill="#f6d2cf" stroke="#a99d96" stroke-width="0.9"/>
<rect x="110.10" y="305.38" width="9.80" height="6.34" fill="#f6e5e4" stroke="#a99d96" stroke-width="0.9"/>
<rect x="119.90" y="305.38" width="9.80" height="6.34" fill="#f4b4b0" stroke="#a99d96" stroke-width="0.9"/>
<rect x="129.70" y="305.38" width="9.80" height="6.34" fill="#f3a09c" stroke="#a99d96" stroke-width="0.9"/>
<rect x="139.50" y="305.38" width="9.80" height="6.34" fill="#f6f9f9" stroke="#a99d96" stroke-width="0.9"/>
<rect x="149.30" y="305.38" width="9.80" height="6.34" fill="#f6f9f9" stroke="#a99d96" stroke-width="0.9"/>
<rect x="159.10" y="305.38" width="9.80" height="6.34" fill="#d2dfe4" stroke="#a99d96" stroke-width="0.9"/>
<rect x="168.90" y="305.38" width="9.80" height="6.34" fill="#dce7ea" stroke="#a99d96" stroke-width="0.9"/>
<rect x="178.70" y="305.38" width="9.80" height="6.34" fill="#f6f9f9" stroke="#a99d96" stroke-width="0.9"/>
<rect x="188.50" y="305.38" width="9.80" height="6.34" fill="#f6f9f9" stroke="#a99d96" stroke-width="0.9"/>
<rect x="201.50" y="305.38" width="9.79" height="6.34" fill="#f6efef" stroke="#a99d96" stroke-width="0.9"/>
<rect x="211.29" y="305.38" width="9.79" height="6.34" fill="#f4b4b0" stroke="#a99d96" stroke-width="0.9"/>
<rect x="221.08" y="305.38" width="9.79" height="6.34" fill="#f6f9f9" stroke="#a99d96" stroke-width="0.9"/>
<rect x="230.87" y="305.38" width="9.79" height="6.34" fill="#f6f9f9" stroke="#a99d96" stroke-width="0.9"/>
<rect x="240.66" y="305.38" width="9.79" height="6.34" fill="#f6e5e4" stroke="#a99d96" stroke-width="0.9"/>
<rect x="250.45" y="305.38" width="9.79" height="6.34" fill="#f6efef" stroke="#a99d96" stroke-width="0.9"/>
<rect x="260.24" y="305.38" width="9.79" height="6.34" fill="#f6f9f9" stroke="#a99d96" stroke-width="0.9"/>
<rect x="270.03" y="305.38" width="9.79" height="6.34" fill="#f6f9f9" stroke="#a99d96" stroke-width="0.9"/>
<rect x="279.82" y="305.38" width="9.79" height="6.34" fill="#f5c8c5" stroke="#a99d96" stroke-width="0.9"/>
<rect x="289.61" y="305.38" width="9.79" height="6.34" fill="#f6efef" stroke="#a99d96" stroke-width="0.9"/>
<rect x="299.40" y="305.38" width="9.79" height="6.34" fill="#f3aaa6" stroke="#a99d96" stroke-width="0.9"/>
<rect x="309.19" y="305.38" width="9.79" height="6.34" fill="#f3aaa6" stroke="#a99d96" stroke-width="0.9"/>
<rect x="318.98" y="305.38" width="9.79" height="6.34" fill="#f4b4b0" stroke="#a99d96" stroke-width="0.9"/>
<rect x="328.77" y="305.38" width="9.79" height="6.34" fill="#f6efef" stroke="#a99d96" stroke-width="0.9"/>
<rect x="338.56" y="305.38" width="9.79" height="6.34" fill="#f6e5e4" stroke="#a99d96" stroke-width="0.9"/>
<rect x="348.35" y="305.38" width="9.79" height="6.34" fill="#f6d2cf" stroke="#a99d96" stroke-width="0.9"/>
<rect x="358.14" y="305.38" width="9.79" height="6.34" fill="#f5c8c5" stroke="#a99d96" stroke-width="0.9"/>
<rect x="367.93" y="305.38" width="9.79" height="6.34" fill="#f6d2cf" stroke="#a99d96" stroke-width="0.9"/>
<rect x="50.90" y="305.38" width="7.70" height="6.34" fill="#7a2321" stroke="#a99d96" stroke-width="0.9"/>
<rect x="60.50" y="305.38" width="7.80" height="6.34" fill="#cb3833" stroke="#a99d96" stroke-width="0.9"/>
<rect x="70.40" y="305.38" width="7.80" height="6.34" fill="#ffffff" stroke="#a99d96" stroke-width="0.9"/>
<rect x="80.70" y="311.72" width="9.80" height="6.34" fill="#f6f9f9" stroke="#a99d96" stroke-width="0.9"/>
<rect x="90.50" y="311.72" width="9.80" height="6.34" fill="#e5eff1" stroke="#a99d96" stroke-width="0.9"/>
<rect x="100.30" y="311.72" width="9.80" height="6.34" fill="#f6f9f9" stroke="#a99d96" stroke-width="0.9"/>
<rect x="110.10" y="311.72" width="9.80" height="6.34" fill="#f6f9f9" stroke="#a99d96" stroke-width="0.9"/>
<rect x="119.90" y="311.72" width="9.80" height="6.34" fill="#f6e5e4" stroke="#a99d96" stroke-width="0.9"/>
<rect x="129.70" y="311.72" width="9.80" height="6.34" fill="#f5c8c5" stroke="#a99d96" stroke-width="0.9"/>
<rect x="139.50" y="311.72" width="9.80" height="6.34" fill="#f6f9f9" stroke="#a99d96" stroke-width="0.9"/>
<rect x="149.30" y="311.72" width="9.80" height="6.34" fill="#f6f9f9" stroke="#a99d96" stroke-width="0.9"/>
<rect x="159.10" y="311.72" width="9.80" height="6.34" fill="#f6f9f9" stroke="#a99d96" stroke-width="0.9"/>
<rect x="168.90" y="311.72" width="9.80" height="6.34" fill="#e5eff1" stroke="#a99d96" stroke-width="0.9"/>
<rect x="178.70" y="311.72" width="9.80" height="6.34" fill="#f6f9f9" stroke="#a99d96" stroke-width="0.9"/>
<rect x="188.50" y="311.72" width="9.80" height="6.34" fill="#f6f9f9" stroke="#a99d96" stroke-width="0.9"/>
<rect x="201.50" y="311.72" width="9.79" height="6.34" fill="#eef4f5" stroke="#a99d96" stroke-width="0.9"/>
<rect x="211.29" y="311.72" width="9.79" height="6.34" fill="#dce7ea" stroke="#a99d96" stroke-width="0.9"/>
<rect x="221.08" y="311.72" width="9.79" height="6.34" fill="#f6f9f9" stroke="#a99d96" stroke-width="0.9"/>
<rect x="230.87" y="311.72" width="9.79" height="6.34" fill="#eef4f5" stroke="#a99d96" stroke-width="0.9"/>
<rect x="240.66" y="311.72" width="9.79" height="6.34" fill="#f5beba" stroke="#a99d96" stroke-width="0.9"/>
<rect x="250.45" y="311.72" width="9.79" height="6.34" fill="#f6f9f9" stroke="#a99d96" stroke-width="0.9"/>
<rect x="260.24" y="311.72" width="9.79" height="6.34" fill="#f3f7f7" stroke="#a99d96" stroke-width="0.9"/>
<rect x="270.03" y="311.72" width="9.79" height="6.34" fill="#f6f9f9" stroke="#a99d96" stroke-width="0.9"/>
<rect x="279.82" y="311.72" width="9.79" height="6.34" fill="#f5c8c5" stroke="#a99d96" stroke-width="0.9"/>
<rect x="289.61" y="311.72" width="9.79" height="6.34" fill="#f6efef" stroke="#a99d96" stroke-width="0.9"/>
<rect x="299.40" y="311.72" width="9.79" height="6.34" fill="#f4b4b0" stroke="#a99d96" stroke-width="0.9"/>
<rect x="309.19" y="311.72" width="9.79" height="6.34" fill="#f6d2cf" stroke="#a99d96" stroke-width="0.9"/>
<rect x="318.98" y="311.72" width="9.79" height="6.34" fill="#f6f9f9" stroke="#a99d96" stroke-width="0.9"/>
<rect x="328.77" y="311.72" width="9.79" height="6.34" fill="#f6f9f9" stroke="#a99d96" stroke-width="0.9"/>
<rect x="338.56" y="311.72" width="9.79" height="6.34" fill="#f6efef" stroke="#a99d96" stroke-width="0.9"/>
<rect x="348.35" y="311.72" width="9.79" height="6.34" fill="#f6f9f9" stroke="#a99d96" stroke-width="0.9"/>
<rect x="358.14" y="311.72" width="9.79" height="6.34" fill="#f6dbda" stroke="#a99d96" stroke-width="0.9"/>
<rect x="367.93" y="311.72" width="9.79" height="6.34" fill="#f6f9f9" stroke="#a99d96" stroke-width="0.9"/>
<rect x="50.90" y="311.72" width="7.70" height="6.34" fill="#7a2321" stroke="#a99d96" stroke-width="0.9"/>
<rect x="60.50" y="311.72" width="7.80" height="6.34" fill="#ea4545" stroke="#a99d96" stroke-width="0.9"/>
<rect x="70.40" y="311.72" width="7.80" height="6.34" fill="#ffffff" stroke="#a99d96" stroke-width="0.9"/>
<rect x="80.70" y="318.06" width="9.80" height="6.34" fill="#ed6e69" stroke="#a99d96" stroke-width="0.9"/>
<rect x="90.50" y="318.06" width="9.80" height="6.34" fill="#f6d2cf" stroke="#a99d96" stroke-width="0.9"/>
<rect x="100.30" y="318.06" width="9.80" height="6.34" fill="#f6dbda" stroke="#a99d96" stroke-width="0.9"/>
<rect x="110.10" y="318.06" width="9.80" height="6.34" fill="#f6efef" stroke="#a99d96" stroke-width="0.9"/>
<rect x="119.90" y="318.06" width="9.80" height="6.34" fill="#f3a09c" stroke="#a99d96" stroke-width="0.9"/>
<rect x="129.70" y="318.06" width="9.80" height="6.34" fill="#f3a09c" stroke="#a99d96" stroke-width="0.9"/>
<rect x="139.50" y="318.06" width="9.80" height="6.34" fill="#eef4f5" stroke="#a99d96" stroke-width="0.9"/>
<rect x="149.30" y="318.06" width="9.80" height="6.34" fill="#dce7ea" stroke="#a99d96" stroke-width="0.9"/>
<rect x="159.10" y="318.06" width="9.80" height="6.34" fill="#f6dbda" stroke="#a99d96" stroke-width="0.9"/>
<rect x="168.90" y="318.06" width="9.80" height="6.34" fill="#f6f9f9" stroke="#a99d96" stroke-width="0.9"/>
<rect x="178.70" y="318.06" width="9.80" height="6.34" fill="#f6e5e4" stroke="#a99d96" stroke-width="0.9"/>
<rect x="188.50" y="318.06" width="9.80" height="6.34" fill="#f6d2cf" stroke="#a99d96" stroke-width="0.9"/>
<rect x="201.50" y="318.06" width="9.79" height="6.34" fill="#dce7ea" stroke="#a99d96" stroke-width="0.9"/>
<rect x="211.29" y="318.06" width="9.79" height="6.34" fill="#f6d2cf" stroke="#a99d96" stroke-width="0.9"/>
<rect x="221.08" y="318.06" width="9.79" height="6.34" fill="#f3aaa6" stroke="#a99d96" stroke-width="0.9"/>
<rect x="230.87" y="318.06" width="9.79" height="6.34" fill="#f6d2cf" stroke="#a99d96" stroke-width="0.9"/>
<rect x="240.66" y="318.06" width="9.79" height="6.34" fill="#f5beba" stroke="#a99d96" stroke-width="0.9"/>
<rect x="250.45" y="318.06" width="9.79" height="6.34" fill="#f6d2cf" stroke="#a99d96" stroke-width="0.9"/>
<rect x="260.24" y="318.06" width="9.79" height="6.34" fill="#f6dbda" stroke="#a99d96" stroke-width="0.9"/>
<rect x="270.03" y="318.06" width="9.79" height="6.34" fill="#f6d2cf" stroke="#a99d96" stroke-width="0.9"/>
<rect x="279.82" y="318.06" width="9.79" height="6.34" fill="#f3a09c" stroke="#a99d96" stroke-width="0.9"/>
<rect x="289.61" y="318.06" width="9.79" height="6.34" fill="#eef4f5" stroke="#a99d96" stroke-width="0.9"/>
<rect x="299.40" y="318.06" width="9.79" height="6.34" fill="#f3a09c" stroke="#a99d96" stroke-width="0.9"/>
<rect x="309.19" y="318.06" width="9.79" height="6.34" fill="#f6d2cf" stroke="#a99d96" stroke-width="0.9"/>
<rect x="318.98" y="318.06" width="9.79" height="6.34" fill="#e94f4b" stroke="#a99d96" stroke-width="0.9"/>
<rect x="328.77" y="318.06" width="9.79" height="6.34" fill="#f6d2cf" stroke="#a99d96" stroke-width="0.9"/>
<rect x="338.56" y="318.06" width="9.79" height="6.34" fill="#f5beba" stroke="#a99d96" stroke-width="0.9"/>
<rect x="348.35" y="318.06" width="9.79" height="6.34" fill="#f29692" stroke="#a99d96" stroke-width="0.9"/>
<rect x="358.14" y="318.06" width="9.79" height="6.34" fill="#f29692" stroke="#a99d96" stroke-width="0.9"/>
<rect x="367.93" y="318.06" width="9.79" height="6.34" fill="#f3a09c" stroke="#a99d96" stroke-width="0.9"/>
<rect x="50.90" y="318.06" width="7.70" height="6.34" fill="#7a2321" stroke="#a99d96" stroke-width="0.9"/>
<rect x="60.50" y="318.06" width="7.80" height="6.34" fill="#cb3833" stroke="#a99d96" stroke-width="0.9"/>
<rect x="70.40" y="318.06" width="7.80" height="6.34" fill="#ffffff" stroke="#a99d96" stroke-width="0.9"/>
<rect x="80.70" y="324.40" width="9.80" height="6.34" fill="#f0827d" stroke="#a99d96" stroke-width="0.9"/>
<rect x="90.50" y="324.40" width="9.80" height="6.34" fill="#f6dbda" stroke="#a99d96" stroke-width="0.9"/>
<rect x="100.30" y="324.40" width="9.80" height="6.34" fill="#f6f9f9" stroke="#a99d96" stroke-width="0.9"/>
<rect x="110.10" y="324.40" width="9.80" height="6.34" fill="#f5c8c5" stroke="#a99d96" stroke-width="0.9"/>
<rect x="119.90" y="324.40" width="9.80" height="6.34" fill="#f6f9f9" stroke="#a99d96" stroke-width="0.9"/>
<rect x="129.70" y="324.40" width="9.80" height="6.34" fill="#f6f9f9" stroke="#a99d96" stroke-width="0.9"/>
<rect x="139.50" y="324.40" width="9.80" height="6.34" fill="#e5eff1" stroke="#a99d96" stroke-width="0.9"/>
<rect x="149.30" y="324.40" width="9.80" height="6.34" fill="#f6efef" stroke="#a99d96" stroke-width="0.9"/>
<rect x="159.10" y="324.40" width="9.80" height="6.34" fill="#f6e5e4" stroke="#a99d96" stroke-width="0.9"/>
<rect x="168.90" y="324.40" width="9.80" height="6.34" fill="#e5eff1" stroke="#a99d96" stroke-width="0.9"/>
<rect x="178.70" y="324.40" width="9.80" height="6.34" fill="#f6f9f9" stroke="#a99d96" stroke-width="0.9"/>
<rect x="188.50" y="324.40" width="9.80" height="6.34" fill="#f6e5e4" stroke="#a99d96" stroke-width="0.9"/>
<rect x="201.50" y="324.40" width="9.79" height="6.34" fill="#f6d2cf" stroke="#a99d96" stroke-width="0.9"/>
<rect x="211.29" y="324.40" width="9.79" height="6.34" fill="#f6d2cf" stroke="#a99d96" stroke-width="0.9"/>
<rect x="221.08" y="324.40" width="9.79" height="6.34" fill="#f6f9f9" stroke="#a99d96" stroke-width="0.9"/>
<rect x="230.87" y="324.40" width="9.79" height="6.34" fill="#eef4f5" stroke="#a99d96" stroke-width="0.9"/>
<rect x="240.66" y="324.40" width="9.79" height="6.34" fill="#e5eff1" stroke="#a99d96" stroke-width="0.9"/>
<rect x="250.45" y="324.40" width="9.79" height="6.34" fill="#f6f9f9" stroke="#a99d96" stroke-width="0.9"/>
<rect x="260.24" y="324.40" width="9.79" height="6.34" fill="#f6f9f9" stroke="#a99d96" stroke-width="0.9"/>
<rect x="270.03" y="324.40" width="9.79" height="6.34" fill="#f5beba" stroke="#a99d96" stroke-width="0.9"/>
<rect x="279.82" y="324.40" width="9.79" height="6.34" fill="#f18c87" stroke="#a99d96" stroke-width="0.9"/>
<rect x="289.61" y="324.40" width="9.79" height="6.34" fill="#e94f4b" stroke="#a99d96" stroke-width="0.9"/>
<rect x="299.40" y="324.40" width="9.79" height="6.34" fill="#f6f9f9" stroke="#a99d96" stroke-width="0.9"/>
<rect x="309.19" y="324.40" width="9.79" height="6.34" fill="#f6e5e4" stroke="#a99d96" stroke-width="0.9"/>
<rect x="318.98" y="324.40" width="9.79" height="6.34" fill="#ed6e69" stroke="#a99d96" stroke-width="0.9"/>
<rect x="328.77" y="324.40" width="9.79" height="6.34" fill="#f6e5e4" stroke="#a99d96" stroke-width="0.9"/>
<rect x="338.56" y="324.40" width="9.79" height="6.34" fill="#f6d2cf" stroke="#a99d96" stroke-width="0.9"/>
<rect x="348.35" y="324.40" width="9.79" height="6.34" fill="#f6d2cf" stroke="#a99d96" stroke-width="0.9"/>
<rect x="358.14" y="324.40" width="9.79" height="6.34" fill="#f3aaa6" stroke="#a99d96" stroke-width="0.9"/>
<rect x="367.93" y="324.40" width="9.79" height="6.34" fill="#f6efef" stroke="#a99d96" stroke-width="0.9"/>
<rect x="50.90" y="324.40" width="7.70" height="6.34" fill="#7a2321" stroke="#a99d96" stroke-width="0.9"/>
<rect x="60.50" y="324.40" width="7.80" height="6.34" fill="#cb3833" stroke="#a99d96" stroke-width="0.9"/>
<rect x="70.40" y="324.40" width="7.80" height="6.34" fill="#ffffff" stroke="#a99d96" stroke-width="0.9"/>
<rect x="80.70" y="330.74" width="9.80" height="6.34" fill="#f18c87" stroke="#a99d96" stroke-width="0.9"/>
<rect x="90.50" y="330.74" width="9.80" height="6.34" fill="#f6e5e4" stroke="#a99d96" stroke-width="0.9"/>
<rect x="100.30" y="330.74" width="9.80" height="6.34" fill="#f6d2cf" stroke="#a99d96" stroke-width="0.9"/>
<rect x="110.10" y="330.74" width="9.80" height="6.34" fill="#f6f9f9" stroke="#a99d96" stroke-width="0.9"/>
<rect x="119.90" y="330.74" width="9.80" height="6.34" fill="#f6f9f9" stroke="#a99d96" stroke-width="0.9"/>
<rect x="129.70" y="330.74" width="9.80" height="6.34" fill="#f6dbda" stroke="#a99d96" stroke-width="0.9"/>
<rect x="139.50" y="330.74" width="9.80" height="6.34" fill="#f6f9f9" stroke="#a99d96" stroke-width="0.9"/>
<rect x="149.30" y="330.74" width="9.80" height="6.34" fill="#dce7ea" stroke="#a99d96" stroke-width="0.9"/>
<rect x="159.10" y="330.74" width="9.80" height="6.34" fill="#eef4f5" stroke="#a99d96" stroke-width="0.9"/>
<rect x="168.90" y="330.74" width="9.80" height="6.34" fill="#f6f9f9" stroke="#a99d96" stroke-width="0.9"/>
<rect x="178.70" y="330.74" width="9.80" height="6.34" fill="#dce7ea" stroke="#a99d96" stroke-width="0.9"/>
<rect x="188.50" y="330.74" width="9.80" height="6.34" fill="#f6f9f9" stroke="#a99d96" stroke-width="0.9"/>
<rect x="201.50" y="330.74" width="9.79" height="6.34" fill="#f6f9f9" stroke="#a99d96" stroke-width="0.9"/>
<rect x="211.29" y="330.74" width="9.79" height="6.34" fill="#f5beba" stroke="#a99d96" stroke-width="0.9"/>
<rect x="221.08" y="330.74" width="9.79" height="6.34" fill="#f0827d" stroke="#a99d96" stroke-width="0.9"/>
<rect x="230.87" y="330.74" width="9.79" height="6.34" fill="#f6e5e4" stroke="#a99d96" stroke-width="0.9"/>
<rect x="240.66" y="330.74" width="9.79" height="6.34" fill="#f3a09c" stroke="#a99d96" stroke-width="0.9"/>
<rect x="250.45" y="330.74" width="9.79" height="6.34" fill="#f6d2cf" stroke="#a99d96" stroke-width="0.9"/>
<rect x="260.24" y="330.74" width="9.79" height="6.34" fill="#f6dbda" stroke="#a99d96" stroke-width="0.9"/>
<rect x="270.03" y="330.74" width="9.79" height="6.34" fill="#f6e5e4" stroke="#a99d96" stroke-width="0.9"/>
<rect x="279.82" y="330.74" width="9.79" height="6.34" fill="#f3a09c" stroke="#a99d96" stroke-width="0.9"/>
<rect x="289.61" y="330.74" width="9.79" height="6.34" fill="#f18c87" stroke="#a99d96" stroke-width="0.9"/>
<rect x="299.40" y="330.74" width="9.79" height="6.34" fill="#f4b4b0" stroke="#a99d96" stroke-width="0.9"/>
<rect x="309.19" y="330.74" width="9.79" height="6.34" fill="#f6efef" stroke="#a99d96" stroke-width="0.9"/>
<rect x="318.98" y="330.74" width="9.79" height="6.34" fill="#f6d2cf" stroke="#a99d96" stroke-width="0.9"/>
<rect x="328.77" y="330.74" width="9.79" height="6.34" fill="#f6d2cf" stroke="#a99d96" stroke-width="0.9"/>
<rect x="338.56" y="330.74" width="9.79" height="6.34" fill="#f5beba" stroke="#a99d96" stroke-width="0.9"/>
<rect x="348.35" y="330.74" width="9.79" height="6.34" fill="#f6f9f9" stroke="#a99d96" stroke-width="0.9"/>
<rect x="358.14" y="330.74" width="9.79" height="6.34" fill="#f6e5e4" stroke="#a99d96" stroke-width="0.9"/>
<rect x="367.93" y="330.74" width="9.79" height="6.34" fill="#f6f9f9" stroke="#a99d96" stroke-width="0.9"/>
<rect x="50.90" y="330.74" width="7.70" height="6.34" fill="#7a2321" stroke="#a99d96" stroke-width="0.9"/>
<rect x="60.50" y="330.74" width="7.80" height="6.34" fill="#f8c0c2" stroke="#a99d96" stroke-width="0.9"/>
<rect x="70.40" y="330.74" width="7.80" height="6.34" fill="#ffffff" stroke="#a99d96" stroke-width="0.9"/>
<rect x="80.70" y="337.08" width="9.80" height="6.34" fill="#ef7873" stroke="#a99d96" stroke-width="0.9"/>
<rect x="90.50" y="337.08" width="9.80" height="6.34" fill="#f6e5e4" stroke="#a99d96" stroke-width="0.9"/>
<rect x="100.30" y="337.08" width="9.80" height="6.34" fill="#f4b4b0" stroke="#a99d96" stroke-width="0.9"/>
<rect x="110.10" y="337.08" width="9.80" height="6.34" fill="#f3aaa6" stroke="#a99d96" stroke-width="0.9"/>
<rect x="119.90" y="337.08" width="9.80" height="6.34" fill="#f6dbda" stroke="#a99d96" stroke-width="0.9"/>
<rect x="129.70" y="337.08" width="9.80" height="6.34" fill="#f6dbda" stroke="#a99d96" stroke-width="0.9"/>
<rect x="139.50" y="337.08" width="9.80" height="6.34" fill="#f5beba" stroke="#a99d96" stroke-width="0.9"/>
<rect x="149.30" y="337.08" width="9.80" height="6.34" fill="#f0827d" stroke="#a99d96" stroke-width="0.9"/>
<rect x="159.10" y="337.08" width="9.80" height="6.34" fill="#f6e5e4" stroke="#a99d96" stroke-width="0.9"/>
<rect x="168.90" y="337.08" width="9.80" height="6.34" fill="#f6efef" stroke="#a99d96" stroke-width="0.9"/>
<rect x="178.70" y="337.08" width="9.80" height="6.34" fill="#f6f9f9" stroke="#a99d96" stroke-width="0.9"/>
<rect x="188.50" y="337.08" width="9.80" height="6.34" fill="#f6e5e4" stroke="#a99d96" stroke-width="0.9"/>
<rect x="201.50" y="337.08" width="9.79" height="6.34" fill="#f6e5e4" stroke="#a99d96" stroke-width="0.9"/>
<rect x="211.29" y="337.08" width="9.79" height="6.34" fill="#f5c8c5" stroke="#a99d96" stroke-width="0.9"/>
<rect x="221.08" y="337.08" width="9.79" height="6.34" fill="#f6f9f9" stroke="#a99d96" stroke-width="0.9"/>
<rect x="230.87" y="337.08" width="9.79" height="6.34" fill="#f6f9f9" stroke="#a99d96" stroke-width="0.9"/>
<rect x="240.66" y="337.08" width="9.79" height="6.34" fill="#e5eff1" stroke="#a99d96" stroke-width="0.9"/>
<rect x="250.45" y="337.08" width="9.79" height="6.34" fill="#f6efef" stroke="#a99d96" stroke-width="0.9"/>
<rect x="260.24" y="337.08" width="9.79" height="6.34" fill="#f6efef" stroke="#a99d96" stroke-width="0.9"/>
<rect x="270.03" y="337.08" width="9.79" height="6.34" fill="#f3a09c" stroke="#a99d96" stroke-width="0.9"/>
<rect x="279.82" y="337.08" width="9.79" height="6.34" fill="#f4b4b0" stroke="#a99d96" stroke-width="0.9"/>
<rect x="289.61" y="337.08" width="9.79" height="6.34" fill="#f18c87" stroke="#a99d96" stroke-width="0.9"/>
<rect x="299.40" y="337.08" width="9.79" height="6.34" fill="#f5c8c5" stroke="#a99d96" stroke-width="0.9"/>
<rect x="309.19" y="337.08" width="9.79" height="6.34" fill="#f6dbda" stroke="#a99d96" stroke-width="0.9"/>
<rect x="318.98" y="337.08" width="9.79" height="6.34" fill="#f6f9f9" stroke="#a99d96" stroke-width="0.9"/>
<rect x="328.77" y="337.08" width="9.79" height="6.34" fill="#f6e5e4" stroke="#a99d96" stroke-width="0.9"/>
<rect x="338.56" y="337.08" width="9.79" height="6.34" fill="#f5c8c5" stroke="#a99d96" stroke-width="0.9"/>
<rect x="348.35" y="337.08" width="9.79" height="6.34" fill="#f6f9f9" stroke="#a99d96" stroke-width="0.9"/>
<rect x="358.14" y="337.08" width="9.79" height="6.34" fill="#f6d2cf" stroke="#a99d96" stroke-width="0.9"/>
<rect x="367.93" y="337.08" width="9.79" height="6.34" fill="#f6e5e4" stroke="#a99d96" stroke-width="0.9"/>
<rect x="50.90" y="337.08" width="7.70" height="6.34" fill="#7a2321" stroke="#a99d96" stroke-width="0.9"/>
<rect x="60.50" y="337.08" width="7.80" height="6.34" fill="#cb3833" stroke="#a99d96" stroke-width="0.9"/>
<rect x="70.40" y="337.08" width="7.80" height="6.34" fill="#ffffff" stroke="#a99d96" stroke-width="0.9"/>
<rect x="80.70" y="343.42" width="9.80" height="6.34" fill="#ef7873" stroke="#a99d96" stroke-width="0.9"/>
<rect x="90.50" y="343.42" width="9.80" height="6.34" fill="#f6f9f9" stroke="#a99d96" stroke-width="0.9"/>
<rect x="100.30" y="343.42" width="9.80" height="6.34" fill="#f6f9f9" stroke="#a99d96" stroke-width="0.9"/>
<rect x="110.10" y="343.42" width="9.80" height="6.34" fill="#f6dbda" stroke="#a99d96" stroke-width="0.9"/>
<rect x="119.90" y="343.42" width="9.80" height="6.34" fill="#f5beba" stroke="#a99d96" stroke-width="0.9"/>
<rect x="129.70" y="343.42" width="9.80" height="6.34" fill="#f3a09c" stroke="#a99d96" stroke-width="0.9"/>
<rect x="139.50" y="343.42" width="9.80" height="6.34" fill="#f6f9f9" stroke="#a99d96" stroke-width="0.9"/>
<rect x="149.30" y="343.42" width="9.80" height="6.34" fill="#f0827d" stroke="#a99d96" stroke-width="0.9"/>
<rect x="159.10" y="343.42" width="9.80" height="6.34" fill="#f5c8c5" stroke="#a99d96" stroke-width="0.9"/>
<rect x="168.90" y="343.42" width="9.80" height="6.34" fill="#f6efef" stroke="#a99d96" stroke-width="0.9"/>
<rect x="178.70" y="343.42" width="9.80" height="6.34" fill="#f6efef" stroke="#a99d96" stroke-width="0.9"/>
<rect x="188.50" y="343.42" width="9.80" height="6.34" fill="#f6e5e4" stroke="#a99d96" stroke-width="0.9"/>
<rect x="201.50" y="343.42" width="9.79" height="6.34" fill="#f6d2cf" stroke="#a99d96" stroke-width="0.9"/>
<rect x="211.29" y="343.42" width="9.79" height="6.34" fill="#eef4f5" stroke="#a99d96" stroke-width="0.9"/>
<rect x="221.08" y="343.42" width="9.79" height="6.34" fill="#d2dfe4" stroke="#a99d96" stroke-width="0.9"/>
<rect x="230.87" y="343.42" width="9.79" height="6.34" fill="#f6f9f9" stroke="#a99d96" stroke-width="0.9"/>
<rect x="240.66" y="343.42" width="9.79" height="6.34" fill="#f6efef" stroke="#a99d96" stroke-width="0.9"/>
<rect x="250.45" y="343.42" width="9.79" height="6.34" fill="#e5eff1" stroke="#a99d96" stroke-width="0.9"/>
<rect x="260.24" y="343.42" width="9.79" height="6.34" fill="#f6f9f9" stroke="#a99d96" stroke-width="0.9"/>
<rect x="270.03" y="343.42" width="9.79" height="6.34" fill="#f6dbda" stroke="#a99d96" stroke-width="0.9"/>
<rect x="279.82" y="343.42" width="9.79" height="6.34" fill="#f5c8c5" stroke="#a99d96" stroke-width="0.9"/>
<rect x="289.61" y="343.42" width="9.79" height="6.34" fill="#e5eff1" stroke="#a99d96" stroke-width="0.9"/>
<rect x="299.40" y="343.42" width="9.79" height="6.34" fill="#f6d2cf" stroke="#a99d96" stroke-width="0.9"/>
<rect x="309.19" y="343.42" width="9.79" height="6.34" fill="#f6e5e4" stroke="#a99d96" stroke-width="0.9"/>
<rect x="318.98" y="343.42" width="9.79" height="6.34" fill="#f6d2cf" stroke="#a99d96" stroke-width="0.9"/>
<rect x="328.77" y="343.42" width="9.79" height="6.34" fill="#f6f9f9" stroke="#a99d96" stroke-width="0.9"/>
<rect x="338.56" y="343.42" width="9.79" height="6.34" fill="#f6efef" stroke="#a99d96" stroke-width="0.9"/>
<rect x="348.35" y="343.42" width="9.79" height="6.34" fill="#f4b4b0" stroke="#a99d96" stroke-width="0.9"/>
<rect x="358.14" y="343.42" width="9.79" height="6.34" fill="#f4b4b0" stroke="#a99d96" stroke-width="0.9"/>
<rect x="367.93" y="343.42" width="9.79" height="6.34" fill="#f6e5e4" stroke="#a99d96" stroke-width="0.9"/>
<rect x="50.90" y="343.42" width="7.70" height="6.34" fill="#7a2321" stroke="#a99d96" stroke-width="0.9"/>
<rect x="60.50" y="343.42" width="7.80" height="6.34" fill="#ea4545" stroke="#a99d96" stroke-width="0.9"/>
<rect x="70.40" y="343.42" width="7.80" height="6.34" fill="#ffffff" stroke="#a99d96" stroke-width="0.9"/>
<rect x="80.70" y="349.76" width="9.80" height="6.34" fill="#f4b4b0" stroke="#a99d96" stroke-width="0.9"/>
<rect x="90.50" y="349.76" width="9.80" height="6.34" fill="#a8b8c4" stroke="#a99d96" stroke-width="0.9"/>
<rect x="100.30" y="349.76" width="9.80" height="6.34" fill="#f6efef" stroke="#a99d96" stroke-width="0.9"/>
<rect x="110.10" y="349.76" width="9.80" height="6.34" fill="#f6d2cf" stroke="#a99d96" stroke-width="0.9"/>
<rect x="119.90" y="349.76" width="9.80" height="6.34" fill="#f6efef" stroke="#a99d96" stroke-width="0.9"/>
<rect x="129.70" y="349.76" width="9.80" height="6.34" fill="#f5beba" stroke="#a99d96" stroke-width="0.9"/>
<rect x="139.50" y="349.76" width="9.80" height="6.34" fill="#f6efef" stroke="#a99d96" stroke-width="0.9"/>
<rect x="149.30" y="349.76" width="9.80" height="6.34" fill="#f4b4b0" stroke="#a99d96" stroke-width="0.9"/>
<rect x="159.10" y="349.76" width="9.80" height="6.34" fill="#f6f9f9" stroke="#a99d96" stroke-width="0.9"/>
<rect x="168.90" y="349.76" width="9.80" height="6.34" fill="#f6e5e4" stroke="#a99d96" stroke-width="0.9"/>
<rect x="178.70" y="349.76" width="9.80" height="6.34" fill="#f6f9f9" stroke="#a99d96" stroke-width="0.9"/>
<rect x="188.50" y="349.76" width="9.80" height="6.34" fill="#f6f9f9" stroke="#a99d96" stroke-width="0.9"/>
<rect x="201.50" y="349.76" width="9.79" height="6.34" fill="#f6e5e4" stroke="#a99d96" stroke-width="0.9"/>
<rect x="211.29" y="349.76" width="9.79" height="6.34" fill="#f6f9f9" stroke="#a99d96" stroke-width="0.9"/>
<rect x="221.08" y="349.76" width="9.79" height="6.34" fill="#e84441" stroke="#a99d96" stroke-width="0.9"/>
<rect x="230.87" y="349.76" width="9.79" height="6.34" fill="#f18c87" stroke="#a99d96" stroke-width="0.9"/>
<rect x="240.66" y="349.76" width="9.79" height="6.34" fill="#f6dbda" stroke="#a99d96" stroke-width="0.9"/>
<rect x="250.45" y="349.76" width="9.79" height="6.34" fill="#f0827d" stroke="#a99d96" stroke-width="0.9"/>
<rect x="260.24" y="349.76" width="9.79" height="6.34" fill="#f5beba" stroke="#a99d96" stroke-width="0.9"/>
<rect x="270.03" y="349.76" width="9.79" height="6.34" fill="#f29692" stroke="#a99d96" stroke-width="0.9"/>
<rect x="279.82" y="349.76" width="9.79" height="6.34" fill="#f6f9f9" stroke="#a99d96" stroke-width="0.9"/>
<rect x="289.61" y="349.76" width="9.79" height="6.34" fill="#f5beba" stroke="#a99d96" stroke-width="0.9"/>
<rect x="299.40" y="349.76" width="9.79" height="6.34" fill="#f18c87" stroke="#a99d96" stroke-width="0.9"/>
<rect x="309.19" y="349.76" width="9.79" height="6.34" fill="#f6f9f9" stroke="#a99d96" stroke-width="0.9"/>
<rect x="318.98" y="349.76" width="9.79" height="6.34" fill="#f6f9f9" stroke="#a99d96" stroke-width="0.9"/>
<rect x="328.77" y="349.76" width="9.79" height="6.34" fill="#f6d2cf" stroke="#a99d96" stroke-width="0.9"/>
<rect x="338.56" y="349.76" width="9.79" height="6.34" fill="#f6efef" stroke="#a99d96" stroke-width="0.9"/>
<rect x="348.35" y="349.76" width="9.79" height="6.34" fill="#f6dbda" stroke="#a99d96" stroke-width="0.9"/>
<rect x="358.14" y="349.76" width="9.79" height="6.34" fill="#f6d2cf" stroke="#a99d96" stroke-width="0.9"/>
<rect x="367.93" y="349.76" width="9.79" height="6.34" fill="#f6f9f9" stroke="#a99d96" stroke-width="0.9"/>
<rect x="50.90" y="349.76" width="7.70" height="6.34" fill="#7a2321" stroke="#a99d96" stroke-width="0.9"/>
<rect x="60.50" y="349.76" width="7.80" height="6.34" fill="#cb3833" stroke="#a99d96" stroke-width="0.9"/>
<rect x="70.40" y="349.76" width="7.80" height="6.34" fill="#ffffff" stroke="#a99d96" stroke-width="0.9"/>
<rect x="80.70" y="356.10" width="9.80" height="6.34" fill="#ed6e69" stroke="#a99d96" stroke-width="0.9"/>
<rect x="90.50" y="356.10" width="9.80" height="6.34" fill="#f6efef" stroke="#a99d96" stroke-width="0.9"/>
<rect x="100.30" y="356.10" width="9.80" height="6.34" fill="#f5c8c5" stroke="#a99d96" stroke-width="0.9"/>
<rect x="110.10" y="356.10" width="9.80" height="6.34" fill="#f3aaa6" stroke="#a99d96" stroke-width="0.9"/>
<rect x="119.90" y="356.10" width="9.80" height="6.34" fill="#f6f9f9" stroke="#a99d96" stroke-width="0.9"/>
<rect x="129.70" y="356.10" width="9.80" height="6.34" fill="#dce7ea" stroke="#a99d96" stroke-width="0.9"/>
<rect x="139.50" y="356.10" width="9.80" height="6.34" fill="#f6e5e4" stroke="#a99d96" stroke-width="0.9"/>
<rect x="149.30" y="356.10" width="9.80" height="6.34" fill="#f3aaa6" stroke="#a99d96" stroke-width="0.9"/>
<rect x="159.10" y="356.10" width="9.80" height="6.34" fill="#f3aaa6" stroke="#a99d96" stroke-width="0.9"/>
<rect x="168.90" y="356.10" width="9.80" height="6.34" fill="#f6d2cf" stroke="#a99d96" stroke-width="0.9"/>
<rect x="178.70" y="356.10" width="9.80" height="6.34" fill="#f6f9f9" stroke="#a99d96" stroke-width="0.9"/>
<rect x="188.50" y="356.10" width="9.80" height="6.34" fill="#f6efef" stroke="#a99d96" stroke-width="0.9"/>
<rect x="201.50" y="356.10" width="9.79" height="6.34" fill="#f5beba" stroke="#a99d96" stroke-width="0.9"/>
<rect x="211.29" y="356.10" width="9.79" height="6.34" fill="#f5c8c5" stroke="#a99d96" stroke-width="0.9"/>
<rect x="221.08" y="356.10" width="9.79" height="6.34" fill="#f3aaa6" stroke="#a99d96" stroke-width="0.9"/>
<rect x="230.87" y="356.10" width="9.79" height="6.34" fill="#f3a09c" stroke="#a99d96" stroke-width="0.9"/>
<rect x="240.66" y="356.10" width="9.79" height="6.34" fill="#f3aaa6" stroke="#a99d96" stroke-width="0.9"/>
<rect x="250.45" y="356.10" width="9.79" height="6.34" fill="#f3aaa6" stroke="#a99d96" stroke-width="0.9"/>
<rect x="260.24" y="356.10" width="9.79" height="6.34" fill="#e94f4b" stroke="#a99d96" stroke-width="0.9"/>
<rect x="270.03" y="356.10" width="9.79" height="6.34" fill="#f3a09c" stroke="#a99d96" stroke-width="0.9"/>
<rect x="279.82" y="356.10" width="9.79" height="6.34" fill="#f5beba" stroke="#a99d96" stroke-width="0.9"/>
<rect x="289.61" y="356.10" width="9.79" height="6.34" fill="#f18c87" stroke="#a99d96" stroke-width="0.9"/>
<rect x="299.40" y="356.10" width="9.79" height="6.34" fill="#f6f9f9" stroke="#a99d96" stroke-width="0.9"/>
<rect x="309.19" y="356.10" width="9.79" height="6.34" fill="#f4b4b0" stroke="#a99d96" stroke-width="0.9"/>
<rect x="318.98" y="356.10" width="9.79" height="6.34" fill="#f5beba" stroke="#a99d96" stroke-width="0.9"/>
<rect x="328.77" y="356.10" width="9.79" height="6.34" fill="#f6efef" stroke="#a99d96" stroke-width="0.9"/>
<rect x="338.56" y="356.10" width="9.79" height="6.34" fill="#f6e5e4" stroke="#a99d96" stroke-width="0.9"/>
<rect x="348.35" y="356.10" width="9.79" height="6.34" fill="#f6e5e4" stroke="#a99d96" stroke-width="0.9"/>
<rect x="358.14" y="356.10" width="9.79" height="6.34" fill="#f3a09c" stroke="#a99d96" stroke-width="0.9"/>
<rect x="367.93" y="356.10" width="9.79" height="6.34" fill="#f6e5e4" stroke="#a99d96" stroke-width="0.9"/>
<rect x="50.90" y="356.10" width="7.70" height="6.34" fill="#7a2321" stroke="#a99d96" stroke-width="0.9"/>
<rect x="60.50" y="356.10" width="7.80" height="6.34" fill="#cb3833" stroke="#a99d96" stroke-width="0.9"/>
<rect x="70.40" y="356.10" width="7.80" height="6.34" fill="#ffffff" stroke="#a99d96" stroke-width="0.9"/>
<rect x="80.70" y="362.44" width="9.80" height="6.34" fill="#f6d2cf" stroke="#a99d96" stroke-width="0.9"/>
<rect x="90.50" y="362.44" width="9.80" height="6.34" fill="#f6f9f9" stroke="#a99d96" stroke-width="0.9"/>
<rect x="100.30" y="362.44" width="9.80" height="6.34" fill="#f3aaa6" stroke="#a99d96" stroke-width="0.9"/>
<rect x="110.10" y="362.44" width="9.80" height="6.34" fill="#f3a09c" stroke="#a99d96" stroke-width="0.9"/>
<rect x="119.90" y="362.44" width="9.80" height="6.34" fill="#f6e5e4" stroke="#a99d96" stroke-width="0.9"/>
<rect x="129.70" y="362.44" width="9.80" height="6.34" fill="#f5c8c5" stroke="#a99d96" stroke-width="0.9"/>
<rect x="139.50" y="362.44" width="9.80" height="6.34" fill="#f6f9f9" stroke="#a99d96" stroke-width="0.9"/>
<rect x="149.30" y="362.44" width="9.80" height="6.34" fill="#f5c8c5" stroke="#a99d96" stroke-width="0.9"/>
<rect x="159.10" y="362.44" width="9.80" height="6.34" fill="#f5c8c5" stroke="#a99d96" stroke-width="0.9"/>
<rect x="168.90" y="362.44" width="9.80" height="6.34" fill="#f5c8c5" stroke="#a99d96" stroke-width="0.9"/>
<rect x="178.70" y="362.44" width="9.80" height="6.34" fill="#f6d2cf" stroke="#a99d96" stroke-width="0.9"/>
<rect x="188.50" y="362.44" width="9.80" height="6.34" fill="#f6d2cf" stroke="#a99d96" stroke-width="0.9"/>
<rect x="201.50" y="362.44" width="9.79" height="6.34" fill="#f5beba" stroke="#a99d96" stroke-width="0.9"/>
<rect x="211.29" y="362.44" width="9.79" height="6.34" fill="#ed6e69" stroke="#a99d96" stroke-width="0.9"/>
<rect x="221.08" y="362.44" width="9.79" height="6.34" fill="#f5c8c5" stroke="#a99d96" stroke-width="0.9"/>
<rect x="230.87" y="362.44" width="9.79" height="6.34" fill="#f6efef" stroke="#a99d96" stroke-width="0.9"/>
<rect x="240.66" y="362.44" width="9.79" height="6.34" fill="#f5c8c5" stroke="#a99d96" stroke-width="0.9"/>
<rect x="250.45" y="362.44" width="9.79" height="6.34" fill="#f6f9f9" stroke="#a99d96" stroke-width="0.9"/>
<rect x="260.24" y="362.44" width="9.79" height="6.34" fill="#f5c8c5" stroke="#a99d96" stroke-width="0.9"/>
<rect x="270.03" y="362.44" width="9.79" height="6.34" fill="#f6dbda" stroke="#a99d96" stroke-width="0.9"/>
<rect x="279.82" y="362.44" width="9.79" height="6.34" fill="#f3aaa6" stroke="#a99d96" stroke-width="0.9"/>
<rect x="289.61" y="362.44" width="9.79" height="6.34" fill="#f6e5e4" stroke="#a99d96" stroke-width="0.9"/>
<rect x="299.40" y="362.44" width="9.79" height="6.34" fill="#f3aaa6" stroke="#a99d96" stroke-width="0.9"/>
<rect x="309.19" y="362.44" width="9.79" height="6.34" fill="#f6f9f9" stroke="#a99d96" stroke-width="0.9"/>
<rect x="318.98" y="362.44" width="9.79" height="6.34" fill="#f6dbda" stroke="#a99d96" stroke-width="0.9"/>
<rect x="328.77" y="362.44" width="9.79" height="6.34" fill="#f4b4b0" stroke="#a99d96" stroke-width="0.9"/>
<rect x="338.56" y="362.44" width="9.79" height="6.34" fill="#f6d2cf" stroke="#a99d96" stroke-width="0.9"/>
<rect x="348.35" y="362.44" width="9.79" height="6.34" fill="#f5beba" stroke="#a99d96" stroke-width="0.9"/>
<rect x="358.14" y="362.44" width="9.79" height="6.34" fill="#f5c8c5" stroke="#a99d96" stroke-width="0.9"/>
<rect x="367.93" y="362.44" width="9.79" height="6.34" fill="#f5c8c5" stroke="#a99d96" stroke-width="0.9"/>
<rect x="50.90" y="362.44" width="7.70" height="6.34" fill="#7a2321" stroke="#a99d96" stroke-width="0.9"/>
<rect x="60.50" y="362.44" width="7.80" height="6.34" fill="#cb3833" stroke="#a99d96" stroke-width="0.9"/>
<rect x="70.40" y="362.44" width="7.80" height="6.34" fill="#ffffff" stroke="#a99d96" stroke-width="0.9"/>
<rect x="80.70" y="368.78" width="9.80" height="6.34" fill="#f4b4b0" stroke="#a99d96" stroke-width="0.9"/>
<rect x="90.50" y="368.78" width="9.80" height="6.34" fill="#f6f9f9" stroke="#a99d96" stroke-width="0.9"/>
<rect x="100.30" y="368.78" width="9.80" height="6.34" fill="#f5beba" stroke="#a99d96" stroke-width="0.9"/>
<rect x="110.10" y="368.78" width="9.80" height="6.34" fill="#f6f9f9" stroke="#a99d96" stroke-width="0.9"/>
<rect x="119.90" y="368.78" width="9.80" height="6.34" fill="#f4b4b0" stroke="#a99d96" stroke-width="0.9"/>
<rect x="129.70" y="368.78" width="9.80" height="6.34" fill="#f3a09c" stroke="#a99d96" stroke-width="0.9"/>
<rect x="139.50" y="368.78" width="9.80" height="6.34" fill="#eef4f5" stroke="#a99d96" stroke-width="0.9"/>
<rect x="149.30" y="368.78" width="9.80" height="6.34" fill="#f18c87" stroke="#a99d96" stroke-width="0.9"/>
<rect x="159.10" y="368.78" width="9.80" height="6.34" fill="#f6f9f9" stroke="#a99d96" stroke-width="0.9"/>
<rect x="168.90" y="368.78" width="9.80" height="6.34" fill="#f6f9f9" stroke="#a99d96" stroke-width="0.9"/>
<rect x="178.70" y="368.78" width="9.80" height="6.34" fill="#f6f9f9" stroke="#a99d96" stroke-width="0.9"/>
<rect x="188.50" y="368.78" width="9.80" height="6.34" fill="#f6e5e4" stroke="#a99d96" stroke-width="0.9"/>
<rect x="201.50" y="368.78" width="9.79" height="6.34" fill="#f3aaa6" stroke="#a99d96" stroke-width="0.9"/>
<rect x="211.29" y="368.78" width="9.79" height="6.34" fill="#f6e5e4" stroke="#a99d96" stroke-width="0.9"/>
<rect x="221.08" y="368.78" width="9.79" height="6.34" fill="#f5beba" stroke="#a99d96" stroke-width="0.9"/>
<rect x="230.87" y="368.78" width="9.79" height="6.34" fill="#f6d2cf" stroke="#a99d96" stroke-width="0.9"/>
<rect x="240.66" y="368.78" width="9.79" height="6.34" fill="#f6e5e4" stroke="#a99d96" stroke-width="0.9"/>
<rect x="250.45" y="368.78" width="9.79" height="6.34" fill="#f6dbda" stroke="#a99d96" stroke-width="0.9"/>
<rect x="260.24" y="368.78" width="9.79" height="6.34" fill="#f5c8c5" stroke="#a99d96" stroke-width="0.9"/>
<rect x="270.03" y="368.78" width="9.79" height="6.34" fill="#f6f9f9" stroke="#a99d96" stroke-width="0.9"/>
<rect x="279.82" y="368.78" width="9.79" height="6.34" fill="#e5eff1" stroke="#a99d96" stroke-width="0.9"/>
<rect x="289.61" y="368.78" width="9.79" height="6.34" fill="#f3aaa6" stroke="#a99d96" stroke-width="0.9"/>
<rect x="299.40" y="368.78" width="9.79" height="6.34" fill="#f6f9f9" stroke="#a99d96" stroke-width="0.9"/>
<rect x="309.19" y="368.78" width="9.79" height="6.34" fill="#f5beba" stroke="#a99d96" stroke-width="0.9"/>
<rect x="318.98" y="368.78" width="9.79" height="6.34" fill="#f5beba" stroke="#a99d96" stroke-width="0.9"/>
<rect x="328.77" y="368.78" width="9.79" height="6.34" fill="#f6dbda" stroke="#a99d96" stroke-width="0.9"/>
<rect x="338.56" y="368.78" width="9.79" height="6.34" fill="#f6f9f9" stroke="#a99d96" stroke-width="0.9"/>
<rect x="348.35" y="368.78" width="9.79" height="6.34" fill="#f6e5e4" stroke="#a99d96" stroke-width="0.9"/>
<rect x="358.14" y="368.78" width="9.79" height="6.34" fill="#f6d2cf" stroke="#a99d96" stroke-width="0.9"/>
<rect x="367.93" y="368.78" width="9.79" height="6.34" fill="#f5c8c5" stroke="#a99d96" stroke-width="0.9"/>
<rect x="50.90" y="368.78" width="7.70" height="6.34" fill="#7a2321" stroke="#a99d96" stroke-width="0.9"/>
<rect x="60.50" y="368.78" width="7.80" height="6.34" fill="#cb3833" stroke="#a99d96" stroke-width="0.9"/>
<rect x="70.40" y="368.78" width="7.80" height="6.34" fill="#ffffff" stroke="#a99d96" stroke-width="0.9"/>
<rect x="80.70" y="375.12" width="9.80" height="6.34" fill="#f6dbda" stroke="#a99d96" stroke-width="0.9"/>
<rect x="90.50" y="375.12" width="9.80" height="6.34" fill="#f5beba" stroke="#a99d96" stroke-width="0.9"/>
<rect x="100.30" y="375.12" width="9.80" height="6.34" fill="#f3aaa6" stroke="#a99d96" stroke-width="0.9"/>
<rect x="110.10" y="375.12" width="9.80" height="6.34" fill="#f6dbda" stroke="#a99d96" stroke-width="0.9"/>
<rect x="119.90" y="375.12" width="9.80" height="6.34" fill="#f3aaa6" stroke="#a99d96" stroke-width="0.9"/>
<rect x="129.70" y="375.12" width="9.80" height="6.34" fill="#f3aaa6" stroke="#a99d96" stroke-width="0.9"/>
<rect x="139.50" y="375.12" width="9.80" height="6.34" fill="#f6dbda" stroke="#a99d96" stroke-width="0.9"/>
<rect x="149.30" y="375.12" width="9.80" height="6.34" fill="#f5beba" stroke="#a99d96" stroke-width="0.9"/>
<rect x="159.10" y="375.12" width="9.80" height="6.34" fill="#f6efef" stroke="#a99d96" stroke-width="0.9"/>
<rect x="168.90" y="375.12" width="9.80" height="6.34" fill="#f6efef" stroke="#a99d96" stroke-width="0.9"/>
<rect x="178.70" y="375.12" width="9.80" height="6.34" fill="#f6e5e4" stroke="#a99d96" stroke-width="0.9"/>
<rect x="188.50" y="375.12" width="9.80" height="6.34" fill="#f3aaa6" stroke="#a99d96" stroke-width="0.9"/>
<rect x="201.50" y="375.12" width="9.79" height="6.34" fill="#f6efef" stroke="#a99d96" stroke-width="0.9"/>
<rect x="211.29" y="375.12" width="9.79" height="6.34" fill="#f6e5e4" stroke="#a99d96" stroke-width="0.9"/>
<rect x="221.08" y="375.12" width="9.79" height="6.34" fill="#f18c87" stroke="#a99d96" stroke-width="0.9"/>
<rect x="230.87" y="375.12" width="9.79" height="6.34" fill="#f0827d" stroke="#a99d96" stroke-width="0.9"/>
<rect x="240.66" y="375.12" width="9.79" height="6.34" fill="#f3a09c" stroke="#a99d96" stroke-width="0.9"/>
<rect x="250.45" y="375.12" width="9.79" height="6.34" fill="#f29692" stroke="#a99d96" stroke-width="0.9"/>
<rect x="260.24" y="375.12" width="9.79" height="6.34" fill="#f29692" stroke="#a99d96" stroke-width="0.9"/>
<rect x="270.03" y="375.12" width="9.79" height="6.34" fill="#eef4f5" stroke="#a99d96" stroke-width="0.9"/>
<rect x="279.82" y="375.12" width="9.79" height="6.34" fill="#f6f9f9" stroke="#a99d96" stroke-width="0.9"/>
<rect x="289.61" y="375.12" width="9.79" height="6.34" fill="#f5beba" stroke="#a99d96" stroke-width="0.9"/>
<rect x="299.40" y="375.12" width="9.79" height="6.34" fill="#f5beba" stroke="#a99d96" stroke-width="0.9"/>
<rect x="309.19" y="375.12" width="9.79" height="6.34" fill="#f5beba" stroke="#a99d96" stroke-width="0.9"/>
<rect x="318.98" y="375.12" width="9.79" height="6.34" fill="#f3aaa6" stroke="#a99d96" stroke-width="0.9"/>
<rect x="328.77" y="375.12" width="9.79" height="6.34" fill="#f5beba" stroke="#a99d96" stroke-width="0.9"/>
<rect x="338.56" y="375.12" width="9.79" height="6.34" fill="#f6e5e4" stroke="#a99d96" stroke-width="0.9"/>
<rect x="348.35" y="375.12" width="9.79" height="6.34" fill="#f6d2cf" stroke="#a99d96" stroke-width="0.9"/>
<rect x="358.14" y="375.12" width="9.79" height="6.34" fill="#f29692" stroke="#a99d96" stroke-width="0.9"/>
<rect x="367.93" y="375.12" width="9.79" height="6.34" fill="#f5c8c5" stroke="#a99d96" stroke-width="0.9"/>
<rect x="50.90" y="375.12" width="7.70" height="6.34" fill="#7a2321" stroke="#a99d96" stroke-width="0.9"/>
<rect x="60.50" y="375.12" width="7.80" height="6.34" fill="#e9a22a" stroke="#a99d96" stroke-width="0.9"/>
<rect x="70.40" y="375.12" width="7.80" height="6.34" fill="#ffffff" stroke="#a99d96" stroke-width="0.9"/>
<rect x="80.70" y="384.00" width="9.80" height="6.30" fill="#3c557d" stroke="#a99d96" stroke-width="0.9"/>
<rect x="90.50" y="384.00" width="9.80" height="6.30" fill="#7f92a6" stroke="#a99d96" stroke-width="0.9"/>
<rect x="100.30" y="384.00" width="9.80" height="6.30" fill="#7f92a6" stroke="#a99d96" stroke-width="0.9"/>
<rect x="110.10" y="384.00" width="9.80" height="6.30" fill="#637792" stroke="#a99d96" stroke-width="0.9"/>
<rect x="119.90" y="384.00" width="9.80" height="6.30" fill="#76899f" stroke="#a99d96" stroke-width="0.9"/>
<rect x="129.70" y="384.00" width="9.80" height="6.30" fill="#76899f" stroke="#a99d96" stroke-width="0.9"/>
<rect x="139.50" y="384.00" width="9.80" height="6.30" fill="#3c557d" stroke="#a99d96" stroke-width="0.9"/>
<rect x="149.30" y="384.00" width="9.80" height="6.30" fill="#b3c3cc" stroke="#a99d96" stroke-width="0.9"/>
<rect x="159.10" y="384.00" width="9.80" height="6.30" fill="#637792" stroke="#a99d96" stroke-width="0.9"/>
<rect x="168.90" y="384.00" width="9.80" height="6.30" fill="#6c8099" stroke="#a99d96" stroke-width="0.9"/>
<rect x="178.70" y="384.00" width="9.80" height="6.30" fill="#6c8099" stroke="#a99d96" stroke-width="0.9"/>
<rect x="188.50" y="384.00" width="9.80" height="6.30" fill="#899bac" stroke="#a99d96" stroke-width="0.9"/>
<rect x="201.50" y="384.00" width="9.79" height="6.30" fill="#6c8099" stroke="#a99d96" stroke-width="0.9"/>
<rect x="211.29" y="384.00" width="9.79" height="6.30" fill="#b3c3cc" stroke="#a99d96" stroke-width="0.9"/>
<rect x="221.08" y="384.00" width="9.79" height="6.30" fill="#92a4b3" stroke="#a99d96" stroke-width="0.9"/>
<rect x="230.87" y="384.00" width="9.79" height="6.30" fill="#92a4b3" stroke="#a99d96" stroke-width="0.9"/>
<rect x="240.66" y="384.00" width="9.79" height="6.30" fill="#92a4b3" stroke="#a99d96" stroke-width="0.9"/>
<rect x="250.45" y="384.00" width="9.79" height="6.30" fill="#5b708e" stroke="#a99d96" stroke-width="0.9"/>
<rect x="260.24" y="384.00" width="9.79" height="6.30" fill="#a8b8c4" stroke="#a99d96" stroke-width="0.9"/>
<rect x="270.03" y="384.00" width="9.79" height="6.30" fill="#6c8099" stroke="#a99d96" stroke-width="0.9"/>
<rect x="279.82" y="384.00" width="9.79" height="6.30" fill="#92a4b3" stroke="#a99d96" stroke-width="0.9"/>
<rect x="289.61" y="384.00" width="9.79" height="6.30" fill="#76899f" stroke="#a99d96" stroke-width="0.9"/>
<rect x="299.40" y="384.00" width="9.79" height="6.30" fill="#4c6385" stroke="#a99d96" stroke-width="0.9"/>
<rect x="309.19" y="384.00" width="9.79" height="6.30" fill="#92a4b3" stroke="#a99d96" stroke-width="0.9"/>
<rect x="318.98" y="384.00" width="9.79" height="6.30" fill="#3c557d" stroke="#a99d96" stroke-width="0.9"/>
<rect x="328.77" y="384.00" width="9.79" height="6.30" fill="#7f92a6" stroke="#a99d96" stroke-width="0.9"/>
<rect x="338.56" y="384.00" width="9.79" height="6.30" fill="#6c8099" stroke="#a99d96" stroke-width="0.9"/>
<rect x="348.35" y="384.00" width="9.79" height="6.30" fill="#7f92a6" stroke="#a99d96" stroke-width="0.9"/>
<rect x="358.14" y="384.00" width="9.79" height="6.30" fill="#7f92a6" stroke="#a99d96" stroke-width="0.9"/>
<rect x="367.93" y="384.00" width="9.79" height="6.30" fill="#6c8099" stroke="#a99d96" stroke-width="0.9"/>
<rect x="50.90" y="384.00" width="7.70" height="6.30" fill="#3f5a7e" stroke="#a99d96" stroke-width="0.9"/>
<rect x="60.50" y="384.00" width="7.80" height="6.30" fill="#3f5a7e" stroke="#a99d96" stroke-width="0.9"/>
<rect x="70.40" y="384.00" width="7.80" height="6.30" fill="#ffffff" stroke="#a99d96" stroke-width="0.9"/>
<rect x="80.70" y="390.30" width="9.80" height="6.30" fill="#53698a" stroke="#a99d96" stroke-width="0.9"/>
<rect x="90.50" y="390.30" width="9.80" height="6.30" fill="#becdd5" stroke="#a99d96" stroke-width="0.9"/>
<rect x="100.30" y="390.30" width="9.80" height="6.30" fill="#b3c3cc" stroke="#a99d96" stroke-width="0.9"/>
<rect x="110.10" y="390.30" width="9.80" height="6.30" fill="#92a4b3" stroke="#a99d96" stroke-width="0.9"/>
<rect x="119.90" y="390.30" width="9.80" height="6.30" fill="#899bac" stroke="#a99d96" stroke-width="0.9"/>
<rect x="129.70" y="390.30" width="9.80" height="6.30" fill="#92a4b3" stroke="#a99d96" stroke-width="0.9"/>
<rect x="139.50" y="390.30" width="9.80" height="6.30" fill="#899bac" stroke="#a99d96" stroke-width="0.9"/>
<rect x="149.30" y="390.30" width="9.80" height="6.30" fill="#899bac" stroke="#a99d96" stroke-width="0.9"/>
<rect x="159.10" y="390.30" width="9.80" height="6.30" fill="#b3c3cc" stroke="#a99d96" stroke-width="0.9"/>
<rect x="168.90" y="390.30" width="9.80" height="6.30" fill="#9daebb" stroke="#a99d96" stroke-width="0.9"/>
<rect x="178.70" y="390.30" width="9.80" height="6.30" fill="#92a4b3" stroke="#a99d96" stroke-width="0.9"/>
<rect x="188.50" y="390.30" width="9.80" height="6.30" fill="#9daebb" stroke="#a99d96" stroke-width="0.9"/>
<rect x="201.50" y="390.30" width="9.79" height="6.30" fill="#7f92a6" stroke="#a99d96" stroke-width="0.9"/>
<rect x="211.29" y="390.30" width="9.79" height="6.30" fill="#d2dfe4" stroke="#a99d96" stroke-width="0.9"/>
<rect x="221.08" y="390.30" width="9.79" height="6.30" fill="#becdd5" stroke="#a99d96" stroke-width="0.9"/>
<rect x="230.87" y="390.30" width="9.79" height="6.30" fill="#a8b8c4" stroke="#a99d96" stroke-width="0.9"/>
<rect x="240.66" y="390.30" width="9.79" height="6.30" fill="#b3c3cc" stroke="#a99d96" stroke-width="0.9"/>
<rect x="250.45" y="390.30" width="9.79" height="6.30" fill="#e5eff1" stroke="#a99d96" stroke-width="0.9"/>
<rect x="260.24" y="390.30" width="9.79" height="6.30" fill="#c9d7dd" stroke="#a99d96" stroke-width="0.9"/>
<rect x="270.03" y="390.30" width="9.79" height="6.30" fill="#92a4b3" stroke="#a99d96" stroke-width="0.9"/>
<rect x="279.82" y="390.30" width="9.79" height="6.30" fill="#9daebb" stroke="#a99d96" stroke-width="0.9"/>
<rect x="289.61" y="390.30" width="9.79" height="6.30" fill="#6c8099" stroke="#a99d96" stroke-width="0.9"/>
<rect x="299.40" y="390.30" width="9.79" height="6.30" fill="#637792" stroke="#a99d96" stroke-width="0.9"/>
<rect x="309.19" y="390.30" width="9.79" height="6.30" fill="#92a4b3" stroke="#a99d96" stroke-width="0.9"/>
<rect x="318.98" y="390.30" width="9.79" height="6.30" fill="#92a4b3" stroke="#a99d96" stroke-width="0.9"/>
<rect x="328.77" y="390.30" width="9.79" height="6.30" fill="#92a4b3" stroke="#a99d96" stroke-width="0.9"/>
<rect x="338.56" y="390.30" width="9.79" height="6.30" fill="#92a4b3" stroke="#a99d96" stroke-width="0.9"/>
<rect x="348.35" y="390.30" width="9.79" height="6.30" fill="#7f92a6" stroke="#a99d96" stroke-width="0.9"/>
<rect x="358.14" y="390.30" width="9.79" height="6.30" fill="#92a4b3" stroke="#a99d96" stroke-width="0.9"/>
<rect x="367.93" y="390.30" width="9.79" height="6.30" fill="#92a4b3" stroke="#a99d96" stroke-width="0.9"/>
<rect x="50.90" y="390.30" width="7.70" height="6.30" fill="#3f5a7e" stroke="#a99d96" stroke-width="0.9"/>
<rect x="60.50" y="390.30" width="7.80" height="6.30" fill="#3f5a7e" stroke="#a99d96" stroke-width="0.9"/>
<rect x="70.40" y="390.30" width="7.80" height="6.30" fill="#ffffff" stroke="#a99d96" stroke-width="0.9"/>
<rect x="80.70" y="396.60" width="9.80" height="6.30" fill="#3c557d" stroke="#a99d96" stroke-width="0.9"/>
<rect x="90.50" y="396.60" width="9.80" height="6.30" fill="#9daebb" stroke="#a99d96" stroke-width="0.9"/>
<rect x="100.30" y="396.60" width="9.80" height="6.30" fill="#899bac" stroke="#a99d96" stroke-width="0.9"/>
<rect x="110.10" y="396.60" width="9.80" height="6.30" fill="#9daebb" stroke="#a99d96" stroke-width="0.9"/>
<rect x="119.90" y="396.60" width="9.80" height="6.30" fill="#92a4b3" stroke="#a99d96" stroke-width="0.9"/>
<rect x="129.70" y="396.60" width="9.80" height="6.30" fill="#9daebb" stroke="#a99d96" stroke-width="0.9"/>
<rect x="139.50" y="396.60" width="9.80" height="6.30" fill="#becdd5" stroke="#a99d96" stroke-width="0.9"/>
<rect x="149.30" y="396.60" width="9.80" height="6.30" fill="#899bac" stroke="#a99d96" stroke-width="0.9"/>
<rect x="159.10" y="396.60" width="9.80" height="6.30" fill="#92a4b3" stroke="#a99d96" stroke-width="0.9"/>
<rect x="168.90" y="396.60" width="9.80" height="6.30" fill="#92a4b3" stroke="#a99d96" stroke-width="0.9"/>
<rect x="178.70" y="396.60" width="9.80" height="6.30" fill="#899bac" stroke="#a99d96" stroke-width="0.9"/>
<rect x="188.50" y="396.60" width="9.80" height="6.30" fill="#92a4b3" stroke="#a99d96" stroke-width="0.9"/>
<rect x="201.50" y="396.60" width="9.79" height="6.30" fill="#a8b8c4" stroke="#a99d96" stroke-width="0.9"/>
<rect x="211.29" y="396.60" width="9.79" height="6.30" fill="#becdd5" stroke="#a99d96" stroke-width="0.9"/>
<rect x="221.08" y="396.60" width="9.79" height="6.30" fill="#d2dfe4" stroke="#a99d96" stroke-width="0.9"/>
<rect x="230.87" y="396.60" width="9.79" height="6.30" fill="#a8b8c4" stroke="#a99d96" stroke-width="0.9"/>
<rect x="240.66" y="396.60" width="9.79" height="6.30" fill="#a8b8c4" stroke="#a99d96" stroke-width="0.9"/>
<rect x="250.45" y="396.60" width="9.79" height="6.30" fill="#9daebb" stroke="#a99d96" stroke-width="0.9"/>
<rect x="260.24" y="396.60" width="9.79" height="6.30" fill="#9daebb" stroke="#a99d96" stroke-width="0.9"/>
<rect x="270.03" y="396.60" width="9.79" height="6.30" fill="#92a4b3" stroke="#a99d96" stroke-width="0.9"/>
<rect x="279.82" y="396.60" width="9.79" height="6.30" fill="#becdd5" stroke="#a99d96" stroke-width="0.9"/>
<rect x="289.61" y="396.60" width="9.79" height="6.30" fill="#92a4b3" stroke="#a99d96" stroke-width="0.9"/>
<rect x="299.40" y="396.60" width="9.79" height="6.30" fill="#899bac" stroke="#a99d96" stroke-width="0.9"/>
<rect x="309.19" y="396.60" width="9.79" height="6.30" fill="#becdd5" stroke="#a99d96" stroke-width="0.9"/>
<rect x="318.98" y="396.60" width="9.79" height="6.30" fill="#7f92a6" stroke="#a99d96" stroke-width="0.9"/>
<rect x="328.77" y="396.60" width="9.79" height="6.30" fill="#92a4b3" stroke="#a99d96" stroke-width="0.9"/>
<rect x="338.56" y="396.60" width="9.79" height="6.30" fill="#9daebb" stroke="#a99d96" stroke-width="0.9"/>
<rect x="348.35" y="396.60" width="9.79" height="6.30" fill="#7f92a6" stroke="#a99d96" stroke-width="0.9"/>
<rect x="358.14" y="396.60" width="9.79" height="6.30" fill="#b3c3cc" stroke="#a99d96" stroke-width="0.9"/>
<rect x="367.93" y="396.60" width="9.79" height="6.30" fill="#92a4b3" stroke="#a99d96" stroke-width="0.9"/>
<rect x="50.90" y="396.60" width="7.70" height="6.30" fill="#3f5a7e" stroke="#a99d96" stroke-width="0.9"/>
<rect x="60.50" y="396.60" width="7.80" height="6.30" fill="#3f5a7e" stroke="#a99d96" stroke-width="0.9"/>
<rect x="70.40" y="396.60" width="7.80" height="6.30" fill="#ffffff" stroke="#a99d96" stroke-width="0.9"/>
<rect x="80.70" y="402.90" width="9.80" height="6.30" fill="#3c557d" stroke="#a99d96" stroke-width="0.9"/>
<rect x="90.50" y="402.90" width="9.80" height="6.30" fill="#3c557d" stroke="#a99d96" stroke-width="0.9"/>
<rect x="100.30" y="402.90" width="9.80" height="6.30" fill="#3c557d" stroke="#a99d96" stroke-width="0.9"/>
<rect x="110.10" y="402.90" width="9.80" height="6.30" fill="#3c557d" stroke="#a99d96" stroke-width="0.9"/>
<rect x="119.90" y="402.90" width="9.80" height="6.30" fill="#5b708e" stroke="#a99d96" stroke-width="0.9"/>
<rect x="129.70" y="402.90" width="9.80" height="6.30" fill="#3c557d" stroke="#a99d96" stroke-width="0.9"/>
<rect x="139.50" y="402.90" width="9.80" height="6.30" fill="#899bac" stroke="#a99d96" stroke-width="0.9"/>
<rect x="149.30" y="402.90" width="9.80" height="6.30" fill="#eef4f5" stroke="#a99d96" stroke-width="0.9"/>
<rect x="159.10" y="402.90" width="9.80" height="6.30" fill="#3c557d" stroke="#a99d96" stroke-width="0.9"/>
<rect x="168.90" y="402.90" width="9.80" height="6.30" fill="#b3c3cc" stroke="#a99d96" stroke-width="0.9"/>
<rect x="178.70" y="402.90" width="9.80" height="6.30" fill="#7f92a6" stroke="#a99d96" stroke-width="0.9"/>
<rect x="188.50" y="402.90" width="9.80" height="6.30" fill="#6c8099" stroke="#a99d96" stroke-width="0.9"/>
<rect x="201.50" y="402.90" width="9.79" height="6.30" fill="#3c557d" stroke="#a99d96" stroke-width="0.9"/>
<rect x="211.29" y="402.90" width="9.79" height="6.30" fill="#3c557d" stroke="#a99d96" stroke-width="0.9"/>
<rect x="221.08" y="402.90" width="9.79" height="6.30" fill="#76899f" stroke="#a99d96" stroke-width="0.9"/>
<rect x="230.87" y="402.90" width="9.79" height="6.30" fill="#3c557d" stroke="#a99d96" stroke-width="0.9"/>
<rect x="240.66" y="402.90" width="9.79" height="6.30" fill="#5b708e" stroke="#a99d96" stroke-width="0.9"/>
<rect x="250.45" y="402.90" width="9.79" height="6.30" fill="#637792" stroke="#a99d96" stroke-width="0.9"/>
<rect x="260.24" y="402.90" width="9.79" height="6.30" fill="#6c8099" stroke="#a99d96" stroke-width="0.9"/>
<rect x="270.03" y="402.90" width="9.79" height="6.30" fill="#53698a" stroke="#a99d96" stroke-width="0.9"/>
<rect x="279.82" y="402.90" width="9.79" height="6.30" fill="#445c81" stroke="#a99d96" stroke-width="0.9"/>
<rect x="289.61" y="402.90" width="9.79" height="6.30" fill="#7f92a6" stroke="#a99d96" stroke-width="0.9"/>
<rect x="299.40" y="402.90" width="9.79" height="6.30" fill="#3c557d" stroke="#a99d96" stroke-width="0.9"/>
<rect x="309.19" y="402.90" width="9.79" height="6.30" fill="#3c557d" stroke="#a99d96" stroke-width="0.9"/>
<rect x="318.98" y="402.90" width="9.79" height="6.30" fill="#445c81" stroke="#a99d96" stroke-width="0.9"/>
<rect x="328.77" y="402.90" width="9.79" height="6.30" fill="#4c6385" stroke="#a99d96" stroke-width="0.9"/>
<rect x="338.56" y="402.90" width="9.79" height="6.30" fill="#5b708e" stroke="#a99d96" stroke-width="0.9"/>
<rect x="348.35" y="402.90" width="9.79" height="6.30" fill="#6c8099" stroke="#a99d96" stroke-width="0.9"/>
<rect x="358.14" y="402.90" width="9.79" height="6.30" fill="#445c81" stroke="#a99d96" stroke-width="0.9"/>
<rect x="367.93" y="402.90" width="9.79" height="6.30" fill="#4c6385" stroke="#a99d96" stroke-width="0.9"/>
<rect x="50.90" y="402.90" width="7.70" height="6.30" fill="#3f5a7e" stroke="#a99d96" stroke-width="0.9"/>
<rect x="60.50" y="402.90" width="7.80" height="6.30" fill="#3f5a7e" stroke="#a99d96" stroke-width="0.9"/>
<rect x="70.40" y="402.90" width="7.80" height="6.30" fill="#ffffff" stroke="#a99d96" stroke-width="0.9"/>
<rect x="80.70" y="409.20" width="9.80" height="6.30" fill="#3c557d" stroke="#a99d96" stroke-width="0.9"/>
<rect x="90.50" y="409.20" width="9.80" height="6.30" fill="#5b708e" stroke="#a99d96" stroke-width="0.9"/>
<rect x="100.30" y="409.20" width="9.80" height="6.30" fill="#637792" stroke="#a99d96" stroke-width="0.9"/>
<rect x="110.10" y="409.20" width="9.80" height="6.30" fill="#5b708e" stroke="#a99d96" stroke-width="0.9"/>
<rect x="119.90" y="409.20" width="9.80" height="6.30" fill="#3c557d" stroke="#a99d96" stroke-width="0.9"/>
<rect x="129.70" y="409.20" width="9.80" height="6.30" fill="#5b708e" stroke="#a99d96" stroke-width="0.9"/>
<rect x="139.50" y="409.20" width="9.80" height="6.30" fill="#637792" stroke="#a99d96" stroke-width="0.9"/>
<rect x="149.30" y="409.20" width="9.80" height="6.30" fill="#3c557d" stroke="#a99d96" stroke-width="0.9"/>
<rect x="159.10" y="409.20" width="9.80" height="6.30" fill="#53698a" stroke="#a99d96" stroke-width="0.9"/>
<rect x="168.90" y="409.20" width="9.80" height="6.30" fill="#3c557d" stroke="#a99d96" stroke-width="0.9"/>
<rect x="178.70" y="409.20" width="9.80" height="6.30" fill="#3c557d" stroke="#a99d96" stroke-width="0.9"/>
<rect x="188.50" y="409.20" width="9.80" height="6.30" fill="#3c557d" stroke="#a99d96" stroke-width="0.9"/>
<rect x="201.50" y="409.20" width="9.79" height="6.30" fill="#899bac" stroke="#a99d96" stroke-width="0.9"/>
<rect x="211.29" y="409.20" width="9.79" height="6.30" fill="#c9d7dd" stroke="#a99d96" stroke-width="0.9"/>
<rect x="221.08" y="409.20" width="9.79" height="6.30" fill="#899bac" stroke="#a99d96" stroke-width="0.9"/>
<rect x="230.87" y="409.20" width="9.79" height="6.30" fill="#7f92a6" stroke="#a99d96" stroke-width="0.9"/>
<rect x="240.66" y="409.20" width="9.79" height="6.30" fill="#6c8099" stroke="#a99d96" stroke-width="0.9"/>
<rect x="250.45" y="409.20" width="9.79" height="6.30" fill="#637792" stroke="#a99d96" stroke-width="0.9"/>
<rect x="260.24" y="409.20" width="9.79" height="6.30" fill="#76899f" stroke="#a99d96" stroke-width="0.9"/>
<rect x="270.03" y="409.20" width="9.79" height="6.30" fill="#53698a" stroke="#a99d96" stroke-width="0.9"/>
<rect x="279.82" y="409.20" width="9.79" height="6.30" fill="#7f92a6" stroke="#a99d96" stroke-width="0.9"/>
<rect x="289.61" y="409.20" width="9.79" height="6.30" fill="#4c6385" stroke="#a99d96" stroke-width="0.9"/>
<rect x="299.40" y="409.20" width="9.79" height="6.30" fill="#637792" stroke="#a99d96" stroke-width="0.9"/>
<rect x="309.19" y="409.20" width="9.79" height="6.30" fill="#7f92a6" stroke="#a99d96" stroke-width="0.9"/>
<rect x="318.98" y="409.20" width="9.79" height="6.30" fill="#4c6385" stroke="#a99d96" stroke-width="0.9"/>
<rect x="328.77" y="409.20" width="9.79" height="6.30" fill="#637792" stroke="#a99d96" stroke-width="0.9"/>
<rect x="338.56" y="409.20" width="9.79" height="6.30" fill="#4c6385" stroke="#a99d96" stroke-width="0.9"/>
<rect x="348.35" y="409.20" width="9.79" height="6.30" fill="#53698a" stroke="#a99d96" stroke-width="0.9"/>
<rect x="358.14" y="409.20" width="9.79" height="6.30" fill="#53698a" stroke="#a99d96" stroke-width="0.9"/>
<rect x="367.93" y="409.20" width="9.79" height="6.30" fill="#5b708e" stroke="#a99d96" stroke-width="0.9"/>
<rect x="50.90" y="409.20" width="7.70" height="6.30" fill="#3f5a7e" stroke="#a99d96" stroke-width="0.9"/>
<rect x="60.50" y="409.20" width="7.80" height="6.30" fill="#3f5a7e" stroke="#a99d96" stroke-width="0.9"/>
<rect x="70.40" y="409.20" width="7.80" height="6.30" fill="#ffffff" stroke="#a99d96" stroke-width="0.9"/>
<rect x="80.70" y="415.50" width="9.80" height="6.30" fill="#3c557d" stroke="#a99d96" stroke-width="0.9"/>
<rect x="90.50" y="415.50" width="9.80" height="6.30" fill="#7f92a6" stroke="#a99d96" stroke-width="0.9"/>
<rect x="100.30" y="415.50" width="9.80" height="6.30" fill="#637792" stroke="#a99d96" stroke-width="0.9"/>
<rect x="110.10" y="415.50" width="9.80" height="6.30" fill="#53698a" stroke="#a99d96" stroke-width="0.9"/>
<rect x="119.90" y="415.50" width="9.80" height="6.30" fill="#4c6385" stroke="#a99d96" stroke-width="0.9"/>
<rect x="129.70" y="415.50" width="9.80" height="6.30" fill="#5b708e" stroke="#a99d96" stroke-width="0.9"/>
<rect x="139.50" y="415.50" width="9.80" height="6.30" fill="#92a4b3" stroke="#a99d96" stroke-width="0.9"/>
<rect x="149.30" y="415.50" width="9.80" height="6.30" fill="#637792" stroke="#a99d96" stroke-width="0.9"/>
<rect x="159.10" y="415.50" width="9.80" height="6.30" fill="#6c8099" stroke="#a99d96" stroke-width="0.9"/>
<rect x="168.90" y="415.50" width="9.80" height="6.30" fill="#3c557d" stroke="#a99d96" stroke-width="0.9"/>
<rect x="178.70" y="415.50" width="9.80" height="6.30" fill="#445c81" stroke="#a99d96" stroke-width="0.9"/>
<rect x="188.50" y="415.50" width="9.80" height="6.30" fill="#53698a" stroke="#a99d96" stroke-width="0.9"/>
<rect x="201.50" y="415.50" width="9.79" height="6.30" fill="#6c8099" stroke="#a99d96" stroke-width="0.9"/>
<rect x="211.29" y="415.50" width="9.79" height="6.30" fill="#d2dfe4" stroke="#a99d96" stroke-width="0.9"/>
<rect x="221.08" y="415.50" width="9.79" height="6.30" fill="#3c557d" stroke="#a99d96" stroke-width="0.9"/>
<rect x="230.87" y="415.50" width="9.79" height="6.30" fill="#76899f" stroke="#a99d96" stroke-width="0.9"/>
<rect x="240.66" y="415.50" width="9.79" height="6.30" fill="#3c557d" stroke="#a99d96" stroke-width="0.9"/>
<rect x="250.45" y="415.50" width="9.79" height="6.30" fill="#3c557d" stroke="#a99d96" stroke-width="0.9"/>
<rect x="260.24" y="415.50" width="9.79" height="6.30" fill="#3c557d" stroke="#a99d96" stroke-width="0.9"/>
<rect x="270.03" y="415.50" width="9.79" height="6.30" fill="#445c81" stroke="#a99d96" stroke-width="0.9"/>
<rect x="279.82" y="415.50" width="9.79" height="6.30" fill="#7f92a6" stroke="#a99d96" stroke-width="0.9"/>
<rect x="289.61" y="415.50" width="9.79" height="6.30" fill="#3c557d" stroke="#a99d96" stroke-width="0.9"/>
<rect x="299.40" y="415.50" width="9.79" height="6.30" fill="#445c81" stroke="#a99d96" stroke-width="0.9"/>
<rect x="309.19" y="415.50" width="9.79" height="6.30" fill="#7f92a6" stroke="#a99d96" stroke-width="0.9"/>
<rect x="318.98" y="415.50" width="9.79" height="6.30" fill="#3c557d" stroke="#a99d96" stroke-width="0.9"/>
<rect x="328.77" y="415.50" width="9.79" height="6.30" fill="#5b708e" stroke="#a99d96" stroke-width="0.9"/>
<rect x="338.56" y="415.50" width="9.79" height="6.30" fill="#445c81" stroke="#a99d96" stroke-width="0.9"/>
<rect x="348.35" y="415.50" width="9.79" height="6.30" fill="#3c557d" stroke="#a99d96" stroke-width="0.9"/>
<rect x="358.14" y="415.50" width="9.79" height="6.30" fill="#4c6385" stroke="#a99d96" stroke-width="0.9"/>
<rect x="367.93" y="415.50" width="9.79" height="6.30" fill="#445c81" stroke="#a99d96" stroke-width="0.9"/>
<rect x="50.90" y="415.50" width="7.70" height="6.30" fill="#3f5a7e" stroke="#a99d96" stroke-width="0.9"/>
<rect x="60.50" y="415.50" width="7.80" height="6.30" fill="#3f5a7e" stroke="#a99d96" stroke-width="0.9"/>
<rect x="70.40" y="415.50" width="7.80" height="6.30" fill="#ffffff" stroke="#a99d96" stroke-width="0.9"/>
<rect x="80.70" y="421.80" width="9.80" height="6.30" fill="#b3c3cc" stroke="#a99d96" stroke-width="0.9"/>
<rect x="90.50" y="421.80" width="9.80" height="6.30" fill="#9daebb" stroke="#a99d96" stroke-width="0.9"/>
<rect x="100.30" y="421.80" width="9.80" height="6.30" fill="#a8b8c4" stroke="#a99d96" stroke-width="0.9"/>
<rect x="110.10" y="421.80" width="9.80" height="6.30" fill="#92a4b3" stroke="#a99d96" stroke-width="0.9"/>
<rect x="119.90" y="421.80" width="9.80" height="6.30" fill="#dce7ea" stroke="#a99d96" stroke-width="0.9"/>
<rect x="129.70" y="421.80" width="9.80" height="6.30" fill="#b3c3cc" stroke="#a99d96" stroke-width="0.9"/>
<rect x="139.50" y="421.80" width="9.80" height="6.30" fill="#3c557d" stroke="#a99d96" stroke-width="0.9"/>
<rect x="149.30" y="421.80" width="9.80" height="6.30" fill="#a8b8c4" stroke="#a99d96" stroke-width="0.9"/>
<rect x="159.10" y="421.80" width="9.80" height="6.30" fill="#92a4b3" stroke="#a99d96" stroke-width="0.9"/>
<rect x="168.90" y="421.80" width="9.80" height="6.30" fill="#b3c3cc" stroke="#a99d96" stroke-width="0.9"/>
<rect x="178.70" y="421.80" width="9.80" height="6.30" fill="#92a4b3" stroke="#a99d96" stroke-width="0.9"/>
<rect x="188.50" y="421.80" width="9.80" height="6.30" fill="#92a4b3" stroke="#a99d96" stroke-width="0.9"/>
<rect x="201.50" y="421.80" width="9.79" height="6.30" fill="#dce7ea" stroke="#a99d96" stroke-width="0.9"/>
<rect x="211.29" y="421.80" width="9.79" height="6.30" fill="#becdd5" stroke="#a99d96" stroke-width="0.9"/>
<rect x="221.08" y="421.80" width="9.79" height="6.30" fill="#eef4f5" stroke="#a99d96" stroke-width="0.9"/>
<rect x="230.87" y="421.80" width="9.79" height="6.30" fill="#b3c3cc" stroke="#a99d96" stroke-width="0.9"/>
<rect x="240.66" y="421.80" width="9.79" height="6.30" fill="#e5eff1" stroke="#a99d96" stroke-width="0.9"/>
<rect x="250.45" y="421.80" width="9.79" height="6.30" fill="#c9d7dd" stroke="#a99d96" stroke-width="0.9"/>
<rect x="260.24" y="421.80" width="9.79" height="6.30" fill="#becdd5" stroke="#a99d96" stroke-width="0.9"/>
<rect x="270.03" y="421.80" width="9.79" height="6.30" fill="#eef4f5" stroke="#a99d96" stroke-width="0.9"/>
<rect x="279.82" y="421.80" width="9.79" height="6.30" fill="#dce7ea" stroke="#a99d96" stroke-width="0.9"/>
<rect x="289.61" y="421.80" width="9.79" height="6.30" fill="#d2dfe4" stroke="#a99d96" stroke-width="0.9"/>
<rect x="299.40" y="421.80" width="9.79" height="6.30" fill="#f6f9f9" stroke="#a99d96" stroke-width="0.9"/>
<rect x="309.19" y="421.80" width="9.79" height="6.30" fill="#becdd5" stroke="#a99d96" stroke-width="0.9"/>
<rect x="318.98" y="421.80" width="9.79" height="6.30" fill="#9daebb" stroke="#a99d96" stroke-width="0.9"/>
<rect x="328.77" y="421.80" width="9.79" height="6.30" fill="#becdd5" stroke="#a99d96" stroke-width="0.9"/>
<rect x="338.56" y="421.80" width="9.79" height="6.30" fill="#c9d7dd" stroke="#a99d96" stroke-width="0.9"/>
<rect x="348.35" y="421.80" width="9.79" height="6.30" fill="#d2dfe4" stroke="#a99d96" stroke-width="0.9"/>
<rect x="358.14" y="421.80" width="9.79" height="6.30" fill="#becdd5" stroke="#a99d96" stroke-width="0.9"/>
<rect x="367.93" y="421.80" width="9.79" height="6.30" fill="#c9d7dd" stroke="#a99d96" stroke-width="0.9"/>
<rect x="50.90" y="421.80" width="7.70" height="6.30" fill="#3f5a7e" stroke="#a99d96" stroke-width="0.9"/>
<rect x="60.50" y="421.80" width="7.80" height="6.30" fill="#3f5a7e" stroke="#a99d96" stroke-width="0.9"/>
<rect x="70.40" y="421.80" width="7.80" height="6.30" fill="#ffffff" stroke="#a99d96" stroke-width="0.9"/>
<rect x="80.70" y="428.10" width="9.80" height="6.30" fill="#76899f" stroke="#a99d96" stroke-width="0.9"/>
<rect x="90.50" y="428.10" width="9.80" height="6.30" fill="#d2dfe4" stroke="#a99d96" stroke-width="0.9"/>
<rect x="100.30" y="428.10" width="9.80" height="6.30" fill="#b3c3cc" stroke="#a99d96" stroke-width="0.9"/>
<rect x="110.10" y="428.10" width="9.80" height="6.30" fill="#c9d7dd" stroke="#a99d96" stroke-width="0.9"/>
<rect x="119.90" y="428.10" width="9.80" height="6.30" fill="#92a4b3" stroke="#a99d96" stroke-width="0.9"/>
<rect x="129.70" y="428.10" width="9.80" height="6.30" fill="#92a4b3" stroke="#a99d96" stroke-width="0.9"/>
<rect x="139.50" y="428.10" width="9.80" height="6.30" fill="#7f92a6" stroke="#a99d96" stroke-width="0.9"/>
<rect x="149.30" y="428.10" width="9.80" height="6.30" fill="#e5eff1" stroke="#a99d96" stroke-width="0.9"/>
<rect x="159.10" y="428.10" width="9.80" height="6.30" fill="#92a4b3" stroke="#a99d96" stroke-width="0.9"/>
<rect x="168.90" y="428.10" width="9.80" height="6.30" fill="#92a4b3" stroke="#a99d96" stroke-width="0.9"/>
<rect x="178.70" y="428.10" width="9.80" height="6.30" fill="#92a4b3" stroke="#a99d96" stroke-width="0.9"/>
<rect x="188.50" y="428.10" width="9.80" height="6.30" fill="#b3c3cc" stroke="#a99d96" stroke-width="0.9"/>
<rect x="201.50" y="428.10" width="9.79" height="6.30" fill="#9daebb" stroke="#a99d96" stroke-width="0.9"/>
<rect x="211.29" y="428.10" width="9.79" height="6.30" fill="#b3c3cc" stroke="#a99d96" stroke-width="0.9"/>
<rect x="221.08" y="428.10" width="9.79" height="6.30" fill="#becdd5" stroke="#a99d96" stroke-width="0.9"/>
<rect x="230.87" y="428.10" width="9.79" height="6.30" fill="#d2dfe4" stroke="#a99d96" stroke-width="0.9"/>
<rect x="240.66" y="428.10" width="9.79" height="6.30" fill="#92a4b3" stroke="#a99d96" stroke-width="0.9"/>
<rect x="250.45" y="428.10" width="9.79" height="6.30" fill="#9daebb" stroke="#a99d96" stroke-width="0.9"/>
<rect x="260.24" y="428.10" width="9.79" height="6.30" fill="#a8b8c4" stroke="#a99d96" stroke-width="0.9"/>
<rect x="270.03" y="428.10" width="9.79" height="6.30" fill="#b3c3cc" stroke="#a99d96" stroke-width="0.9"/>
<rect x="279.82" y="428.10" width="9.79" height="6.30" fill="#becdd5" stroke="#a99d96" stroke-width="0.9"/>
<rect x="289.61" y="428.10" width="9.79" height="6.30" fill="#dce7ea" stroke="#a99d96" stroke-width="0.9"/>
<rect x="299.40" y="428.10" width="9.79" height="6.30" fill="#becdd5" stroke="#a99d96" stroke-width="0.9"/>
<rect x="309.19" y="428.10" width="9.79" height="6.30" fill="#e5eff1" stroke="#a99d96" stroke-width="0.9"/>
<rect x="318.98" y="428.10" width="9.79" height="6.30" fill="#76899f" stroke="#a99d96" stroke-width="0.9"/>
<rect x="328.77" y="428.10" width="9.79" height="6.30" fill="#d2dfe4" stroke="#a99d96" stroke-width="0.9"/>
<rect x="338.56" y="428.10" width="9.79" height="6.30" fill="#b3c3cc" stroke="#a99d96" stroke-width="0.9"/>
<rect x="348.35" y="428.10" width="9.79" height="6.30" fill="#c9d7dd" stroke="#a99d96" stroke-width="0.9"/>
<rect x="358.14" y="428.10" width="9.79" height="6.30" fill="#d2dfe4" stroke="#a99d96" stroke-width="0.9"/>
<rect x="367.93" y="428.10" width="9.79" height="6.30" fill="#becdd5" stroke="#a99d96" stroke-width="0.9"/>
<rect x="50.90" y="428.10" width="7.70" height="6.30" fill="#3f5a7e" stroke="#a99d96" stroke-width="0.9"/>
<rect x="60.50" y="428.10" width="7.80" height="6.30" fill="#3f5a7e" stroke="#a99d96" stroke-width="0.9"/>
<rect x="70.40" y="428.10" width="7.80" height="6.30" fill="#ffffff" stroke="#a99d96" stroke-width="0.9"/>
<rect x="80.70" y="434.40" width="9.80" height="6.30" fill="#76899f" stroke="#a99d96" stroke-width="0.9"/>
<rect x="90.50" y="434.40" width="9.80" height="6.30" fill="#c9d7dd" stroke="#a99d96" stroke-width="0.9"/>
<rect x="100.30" y="434.40" width="9.80" height="6.30" fill="#c9d7dd" stroke="#a99d96" stroke-width="0.9"/>
<rect x="110.10" y="434.40" width="9.80" height="6.30" fill="#d2dfe4" stroke="#a99d96" stroke-width="0.9"/>
<rect x="119.90" y="434.40" width="9.80" height="6.30" fill="#becdd5" stroke="#a99d96" stroke-width="0.9"/>
<rect x="129.70" y="434.40" width="9.80" height="6.30" fill="#c9d7dd" stroke="#a99d96" stroke-width="0.9"/>
<rect x="139.50" y="434.40" width="9.80" height="6.30" fill="#a8b8c4" stroke="#a99d96" stroke-width="0.9"/>
<rect x="149.30" y="434.40" width="9.80" height="6.30" fill="#dce7ea" stroke="#a99d96" stroke-width="0.9"/>
<rect x="159.10" y="434.40" width="9.80" height="6.30" fill="#b3c3cc" stroke="#a99d96" stroke-width="0.9"/>
<rect x="168.90" y="434.40" width="9.80" height="6.30" fill="#a8b8c4" stroke="#a99d96" stroke-width="0.9"/>
<rect x="178.70" y="434.40" width="9.80" height="6.30" fill="#b3c3cc" stroke="#a99d96" stroke-width="0.9"/>
<rect x="188.50" y="434.40" width="9.80" height="6.30" fill="#d2dfe4" stroke="#a99d96" stroke-width="0.9"/>
<rect x="201.50" y="434.40" width="9.79" height="6.30" fill="#b3c3cc" stroke="#a99d96" stroke-width="0.9"/>
<rect x="211.29" y="434.40" width="9.79" height="6.30" fill="#e5eff1" stroke="#a99d96" stroke-width="0.9"/>
<rect x="221.08" y="434.40" width="9.79" height="6.30" fill="#c9d7dd" stroke="#a99d96" stroke-width="0.9"/>
<rect x="230.87" y="434.40" width="9.79" height="6.30" fill="#becdd5" stroke="#a99d96" stroke-width="0.9"/>
<rect x="240.66" y="434.40" width="9.79" height="6.30" fill="#d2dfe4" stroke="#a99d96" stroke-width="0.9"/>
<rect x="250.45" y="434.40" width="9.79" height="6.30" fill="#b3c3cc" stroke="#a99d96" stroke-width="0.9"/>
<rect x="260.24" y="434.40" width="9.79" height="6.30" fill="#a8b8c4" stroke="#a99d96" stroke-width="0.9"/>
<rect x="270.03" y="434.40" width="9.79" height="6.30" fill="#92a4b3" stroke="#a99d96" stroke-width="0.9"/>
<rect x="279.82" y="434.40" width="9.79" height="6.30" fill="#becdd5" stroke="#a99d96" stroke-width="0.9"/>
<rect x="289.61" y="434.40" width="9.79" height="6.30" fill="#7f92a6" stroke="#a99d96" stroke-width="0.9"/>
<rect x="299.40" y="434.40" width="9.79" height="6.30" fill="#f6e5e4" stroke="#a99d96" stroke-width="0.9"/>
<rect x="309.19" y="434.40" width="9.79" height="6.30" fill="#b3c3cc" stroke="#a99d96" stroke-width="0.9"/>
<rect x="318.98" y="434.40" width="9.79" height="6.30" fill="#6c8099" stroke="#a99d96" stroke-width="0.9"/>
<rect x="328.77" y="434.40" width="9.79" height="6.30" fill="#b3c3cc" stroke="#a99d96" stroke-width="0.9"/>
<rect x="338.56" y="434.40" width="9.79" height="6.30" fill="#b3c3cc" stroke="#a99d96" stroke-width="0.9"/>
<rect x="348.35" y="434.40" width="9.79" height="6.30" fill="#b3c3cc" stroke="#a99d96" stroke-width="0.9"/>
<rect x="358.14" y="434.40" width="9.79" height="6.30" fill="#c9d7dd" stroke="#a99d96" stroke-width="0.9"/>
<rect x="367.93" y="434.40" width="9.79" height="6.30" fill="#b3c3cc" stroke="#a99d96" stroke-width="0.9"/>
<rect x="50.90" y="434.40" width="7.70" height="6.30" fill="#3f5a7e" stroke="#a99d96" stroke-width="0.9"/>
<rect x="60.50" y="434.40" width="7.80" height="6.30" fill="#3f5a7e" stroke="#a99d96" stroke-width="0.9"/>
<rect x="70.40" y="434.40" width="7.80" height="6.30" fill="#ffffff" stroke="#a99d96" stroke-width="0.9"/>
<rect x="80.70" y="440.70" width="9.80" height="6.30" fill="#d2dfe4" stroke="#a99d96" stroke-width="0.9"/>
<rect x="90.50" y="440.70" width="9.80" height="6.30" fill="#becdd5" stroke="#a99d96" stroke-width="0.9"/>
<rect x="100.30" y="440.70" width="9.80" height="6.30" fill="#b3c3cc" stroke="#a99d96" stroke-width="0.9"/>
<rect x="110.10" y="440.70" width="9.80" height="6.30" fill="#b3c3cc" stroke="#a99d96" stroke-width="0.9"/>
<rect x="119.90" y="440.70" width="9.80" height="6.30" fill="#becdd5" stroke="#a99d96" stroke-width="0.9"/>
<rect x="129.70" y="440.70" width="9.80" height="6.30" fill="#b3c3cc" stroke="#a99d96" stroke-width="0.9"/>
<rect x="139.50" y="440.70" width="9.80" height="6.30" fill="#f6f9f9" stroke="#a99d96" stroke-width="0.9"/>
<rect x="149.30" y="440.70" width="9.80" height="6.30" fill="#c9d7dd" stroke="#a99d96" stroke-width="0.9"/>
<rect x="159.10" y="440.70" width="9.80" height="6.30" fill="#dce7ea" stroke="#a99d96" stroke-width="0.9"/>
<rect x="168.90" y="440.70" width="9.80" height="6.30" fill="#d2dfe4" stroke="#a99d96" stroke-width="0.9"/>
<rect x="178.70" y="440.70" width="9.80" height="6.30" fill="#b3c3cc" stroke="#a99d96" stroke-width="0.9"/>
<rect x="188.50" y="440.70" width="9.80" height="6.30" fill="#becdd5" stroke="#a99d96" stroke-width="0.9"/>
<rect x="201.50" y="440.70" width="9.79" height="6.30" fill="#b3c3cc" stroke="#a99d96" stroke-width="0.9"/>
<rect x="211.29" y="440.70" width="9.79" height="6.30" fill="#a8b8c4" stroke="#a99d96" stroke-width="0.9"/>
<rect x="221.08" y="440.70" width="9.79" height="6.30" fill="#becdd5" stroke="#a99d96" stroke-width="0.9"/>
<rect x="230.87" y="440.70" width="9.79" height="6.30" fill="#c9d7dd" stroke="#a99d96" stroke-width="0.9"/>
<rect x="240.66" y="440.70" width="9.79" height="6.30" fill="#d2dfe4" stroke="#a99d96" stroke-width="0.9"/>
<rect x="250.45" y="440.70" width="9.79" height="6.30" fill="#becdd5" stroke="#a99d96" stroke-width="0.9"/>
<rect x="260.24" y="440.70" width="9.79" height="6.30" fill="#a8b8c4" stroke="#a99d96" stroke-width="0.9"/>
<rect x="270.03" y="440.70" width="9.79" height="6.30" fill="#f5beba" stroke="#a99d96" stroke-width="0.9"/>
<rect x="279.82" y="440.70" width="9.79" height="6.30" fill="#f6f9f9" stroke="#a99d96" stroke-width="0.9"/>
<rect x="289.61" y="440.70" width="9.79" height="6.30" fill="#dce7ea" stroke="#a99d96" stroke-width="0.9"/>
<rect x="299.40" y="440.70" width="9.79" height="6.30" fill="#f5beba" stroke="#a99d96" stroke-width="0.9"/>
<rect x="309.19" y="440.70" width="9.79" height="6.30" fill="#f6f9f9" stroke="#a99d96" stroke-width="0.9"/>
<rect x="318.98" y="440.70" width="9.79" height="6.30" fill="#76899f" stroke="#a99d96" stroke-width="0.9"/>
<rect x="328.77" y="440.70" width="9.79" height="6.30" fill="#dce7ea" stroke="#a99d96" stroke-width="0.9"/>
<rect x="338.56" y="440.70" width="9.79" height="6.30" fill="#becdd5" stroke="#a99d96" stroke-width="0.9"/>
<rect x="348.35" y="440.70" width="9.79" height="6.30" fill="#e5eff1" stroke="#a99d96" stroke-width="0.9"/>
<rect x="358.14" y="440.70" width="9.79" height="6.30" fill="#e5eff1" stroke="#a99d96" stroke-width="0.9"/>
<rect x="367.93" y="440.70" width="9.79" height="6.30" fill="#d2dfe4" stroke="#a99d96" stroke-width="0.9"/>
<rect x="50.90" y="440.70" width="7.70" height="6.30" fill="#3f5a7e" stroke="#a99d96" stroke-width="0.9"/>
<rect x="60.50" y="440.70" width="7.80" height="6.30" fill="#3f5a7e" stroke="#a99d96" stroke-width="0.9"/>
<rect x="70.40" y="440.70" width="7.80" height="6.30" fill="#ffffff" stroke="#a99d96" stroke-width="0.9"/>
<rect x="80.70" y="447.00" width="9.80" height="6.30" fill="#d2dfe4" stroke="#a99d96" stroke-width="0.9"/>
<rect x="90.50" y="447.00" width="9.80" height="6.30" fill="#f6f9f9" stroke="#a99d96" stroke-width="0.9"/>
<rect x="100.30" y="447.00" width="9.80" height="6.30" fill="#d2dfe4" stroke="#a99d96" stroke-width="0.9"/>
<rect x="110.10" y="447.00" width="9.80" height="6.30" fill="#f6f9f9" stroke="#a99d96" stroke-width="0.9"/>
<rect x="119.90" y="447.00" width="9.80" height="6.30" fill="#f6f9f9" stroke="#a99d96" stroke-width="0.9"/>
<rect x="129.70" y="447.00" width="9.80" height="6.30" fill="#e5eff1" stroke="#a99d96" stroke-width="0.9"/>
<rect x="139.50" y="447.00" width="9.80" height="6.30" fill="#f6f9f9" stroke="#a99d96" stroke-width="0.9"/>
<rect x="149.30" y="447.00" width="9.80" height="6.30" fill="#dce7ea" stroke="#a99d96" stroke-width="0.9"/>
<rect x="159.10" y="447.00" width="9.80" height="6.30" fill="#d2dfe4" stroke="#a99d96" stroke-width="0.9"/>
<rect x="168.90" y="447.00" width="9.80" height="6.30" fill="#becdd5" stroke="#a99d96" stroke-width="0.9"/>
<rect x="178.70" y="447.00" width="9.80" height="6.30" fill="#e5eff1" stroke="#a99d96" stroke-width="0.9"/>
<rect x="188.50" y="447.00" width="9.80" height="6.30" fill="#f6f9f9" stroke="#a99d96" stroke-width="0.9"/>
<rect x="201.50" y="447.00" width="9.79" height="6.30" fill="#c9d7dd" stroke="#a99d96" stroke-width="0.9"/>
<rect x="211.29" y="447.00" width="9.79" height="6.30" fill="#becdd5" stroke="#a99d96" stroke-width="0.9"/>
<rect x="221.08" y="447.00" width="9.79" height="6.30" fill="#becdd5" stroke="#a99d96" stroke-width="0.9"/>
<rect x="230.87" y="447.00" width="9.79" height="6.30" fill="#e5eff1" stroke="#a99d96" stroke-width="0.9"/>
<rect x="240.66" y="447.00" width="9.79" height="6.30" fill="#e5eff1" stroke="#a99d96" stroke-width="0.9"/>
<rect x="250.45" y="447.00" width="9.79" height="6.30" fill="#dce7ea" stroke="#a99d96" stroke-width="0.9"/>
<rect x="260.24" y="447.00" width="9.79" height="6.30" fill="#d2dfe4" stroke="#a99d96" stroke-width="0.9"/>
<rect x="270.03" y="447.00" width="9.79" height="6.30" fill="#b3c3cc" stroke="#a99d96" stroke-width="0.9"/>
<rect x="279.82" y="447.00" width="9.79" height="6.30" fill="#e5eff1" stroke="#a99d96" stroke-width="0.9"/>
<rect x="289.61" y="447.00" width="9.79" height="6.30" fill="#e5eff1" stroke="#a99d96" stroke-width="0.9"/>
<rect x="299.40" y="447.00" width="9.79" height="6.30" fill="#899bac" stroke="#a99d96" stroke-width="0.9"/>
<rect x="309.19" y="447.00" width="9.79" height="6.30" fill="#d2dfe4" stroke="#a99d96" stroke-width="0.9"/>
<rect x="318.98" y="447.00" width="9.79" height="6.30" fill="#b3c3cc" stroke="#a99d96" stroke-width="0.9"/>
<rect x="328.77" y="447.00" width="9.79" height="6.30" fill="#eef4f5" stroke="#a99d96" stroke-width="0.9"/>
<rect x="338.56" y="447.00" width="9.79" height="6.30" fill="#c9d7dd" stroke="#a99d96" stroke-width="0.9"/>
<rect x="348.35" y="447.00" width="9.79" height="6.30" fill="#f6f9f9" stroke="#a99d96" stroke-width="0.9"/>
<rect x="358.14" y="447.00" width="9.79" height="6.30" fill="#e5eff1" stroke="#a99d96" stroke-width="0.9"/>
<rect x="367.93" y="447.00" width="9.79" height="6.30" fill="#d2dfe4" stroke="#a99d96" stroke-width="0.9"/>
<rect x="50.90" y="447.00" width="7.70" height="6.30" fill="#3f5a7e" stroke="#a99d96" stroke-width="0.9"/>
<rect x="60.50" y="447.00" width="7.80" height="6.30" fill="#3f5a7e" stroke="#a99d96" stroke-width="0.9"/>
<rect x="70.40" y="447.00" width="7.80" height="6.30" fill="#ffffff" stroke="#a99d96" stroke-width="0.9"/>
<rect x="80.70" y="453.30" width="9.80" height="6.30" fill="#9daebb" stroke="#a99d96" stroke-width="0.9"/>
<rect x="90.50" y="453.30" width="9.80" height="6.30" fill="#b3c3cc" stroke="#a99d96" stroke-width="0.9"/>
<rect x="100.30" y="453.30" width="9.80" height="6.30" fill="#d2dfe4" stroke="#a99d96" stroke-width="0.9"/>
<rect x="110.10" y="453.30" width="9.80" height="6.30" fill="#b3c3cc" stroke="#a99d96" stroke-width="0.9"/>
<rect x="119.90" y="453.30" width="9.80" height="6.30" fill="#b3c3cc" stroke="#a99d96" stroke-width="0.9"/>
<rect x="129.70" y="453.30" width="9.80" height="6.30" fill="#becdd5" stroke="#a99d96" stroke-width="0.9"/>
<rect x="139.50" y="453.30" width="9.80" height="6.30" fill="#becdd5" stroke="#a99d96" stroke-width="0.9"/>
<rect x="149.30" y="453.30" width="9.80" height="6.30" fill="#e5eff1" stroke="#a99d96" stroke-width="0.9"/>
<rect x="159.10" y="453.30" width="9.80" height="6.30" fill="#b3c3cc" stroke="#a99d96" stroke-width="0.9"/>
<rect x="168.90" y="453.30" width="9.80" height="6.30" fill="#9daebb" stroke="#a99d96" stroke-width="0.9"/>
<rect x="178.70" y="453.30" width="9.80" height="6.30" fill="#899bac" stroke="#a99d96" stroke-width="0.9"/>
<rect x="188.50" y="453.30" width="9.80" height="6.30" fill="#b3c3cc" stroke="#a99d96" stroke-width="0.9"/>
<rect x="201.50" y="453.30" width="9.79" height="6.30" fill="#c9d7dd" stroke="#a99d96" stroke-width="0.9"/>
<rect x="211.29" y="453.30" width="9.79" height="6.30" fill="#d2dfe4" stroke="#a99d96" stroke-width="0.9"/>
<rect x="221.08" y="453.30" width="9.79" height="6.30" fill="#f6f9f9" stroke="#a99d96" stroke-width="0.9"/>
<rect x="230.87" y="453.30" width="9.79" height="6.30" fill="#dce7ea" stroke="#a99d96" stroke-width="0.9"/>
<rect x="240.66" y="453.30" width="9.79" height="6.30" fill="#eef4f5" stroke="#a99d96" stroke-width="0.9"/>
<rect x="250.45" y="453.30" width="9.79" height="6.30" fill="#becdd5" stroke="#a99d96" stroke-width="0.9"/>
<rect x="260.24" y="453.30" width="9.79" height="6.30" fill="#c9d7dd" stroke="#a99d96" stroke-width="0.9"/>
<rect x="270.03" y="453.30" width="9.79" height="6.30" fill="#becdd5" stroke="#a99d96" stroke-width="0.9"/>
<rect x="279.82" y="453.30" width="9.79" height="6.30" fill="#f6f9f9" stroke="#a99d96" stroke-width="0.9"/>
<rect x="289.61" y="453.30" width="9.79" height="6.30" fill="#eef4f5" stroke="#a99d96" stroke-width="0.9"/>
<rect x="299.40" y="453.30" width="9.79" height="6.30" fill="#b3c3cc" stroke="#a99d96" stroke-width="0.9"/>
<rect x="309.19" y="453.30" width="9.79" height="6.30" fill="#e5eff1" stroke="#a99d96" stroke-width="0.9"/>
<rect x="318.98" y="453.30" width="9.79" height="6.30" fill="#a8b8c4" stroke="#a99d96" stroke-width="0.9"/>
<rect x="328.77" y="453.30" width="9.79" height="6.30" fill="#becdd5" stroke="#a99d96" stroke-width="0.9"/>
<rect x="338.56" y="453.30" width="9.79" height="6.30" fill="#b3c3cc" stroke="#a99d96" stroke-width="0.9"/>
<rect x="348.35" y="453.30" width="9.79" height="6.30" fill="#becdd5" stroke="#a99d96" stroke-width="0.9"/>
<rect x="358.14" y="453.30" width="9.79" height="6.30" fill="#becdd5" stroke="#a99d96" stroke-width="0.9"/>
<rect x="367.93" y="453.30" width="9.79" height="6.30" fill="#9daebb" stroke="#a99d96" stroke-width="0.9"/>
<rect x="50.90" y="453.30" width="7.70" height="6.30" fill="#3f5a7e" stroke="#a99d96" stroke-width="0.9"/>
<rect x="60.50" y="453.30" width="7.80" height="6.30" fill="#3f5a7e" stroke="#a99d96" stroke-width="0.9"/>
<rect x="70.40" y="453.30" width="7.80" height="6.30" fill="#ffffff" stroke="#a99d96" stroke-width="0.9"/>
<rect x="80.70" y="459.60" width="9.80" height="6.30" fill="#76899f" stroke="#a99d96" stroke-width="0.9"/>
<rect x="90.50" y="459.60" width="9.80" height="6.30" fill="#dce7ea" stroke="#a99d96" stroke-width="0.9"/>
<rect x="100.30" y="459.60" width="9.80" height="6.30" fill="#becdd5" stroke="#a99d96" stroke-width="0.9"/>
<rect x="110.10" y="459.60" width="9.80" height="6.30" fill="#d2dfe4" stroke="#a99d96" stroke-width="0.9"/>
<rect x="119.90" y="459.60" width="9.80" height="6.30" fill="#becdd5" stroke="#a99d96" stroke-width="0.9"/>
<rect x="129.70" y="459.60" width="9.80" height="6.30" fill="#c9d7dd" stroke="#a99d96" stroke-width="0.9"/>
<rect x="139.50" y="459.60" width="9.80" height="6.30" fill="#dce7ea" stroke="#a99d96" stroke-width="0.9"/>
<rect x="149.30" y="459.60" width="9.80" height="6.30" fill="#b3c3cc" stroke="#a99d96" stroke-width="0.9"/>
<rect x="159.10" y="459.60" width="9.80" height="6.30" fill="#b3c3cc" stroke="#a99d96" stroke-width="0.9"/>
<rect x="168.90" y="459.60" width="9.80" height="6.30" fill="#a8b8c4" stroke="#a99d96" stroke-width="0.9"/>
<rect x="178.70" y="459.60" width="9.80" height="6.30" fill="#becdd5" stroke="#a99d96" stroke-width="0.9"/>
<rect x="188.50" y="459.60" width="9.80" height="6.30" fill="#becdd5" stroke="#a99d96" stroke-width="0.9"/>
<rect x="201.50" y="459.60" width="9.79" height="6.30" fill="#c9d7dd" stroke="#a99d96" stroke-width="0.9"/>
<rect x="211.29" y="459.60" width="9.79" height="6.30" fill="#eef4f5" stroke="#a99d96" stroke-width="0.9"/>
<rect x="221.08" y="459.60" width="9.79" height="6.30" fill="#f6f9f9" stroke="#a99d96" stroke-width="0.9"/>
<rect x="230.87" y="459.60" width="9.79" height="6.30" fill="#f6dbda" stroke="#a99d96" stroke-width="0.9"/>
<rect x="240.66" y="459.60" width="9.79" height="6.30" fill="#eef4f5" stroke="#a99d96" stroke-width="0.9"/>
<rect x="250.45" y="459.60" width="9.79" height="6.30" fill="#d2dfe4" stroke="#a99d96" stroke-width="0.9"/>
<rect x="260.24" y="459.60" width="9.79" height="6.30" fill="#becdd5" stroke="#a99d96" stroke-width="0.9"/>
<rect x="270.03" y="459.60" width="9.79" height="6.30" fill="#a8b8c4" stroke="#a99d96" stroke-width="0.9"/>
<rect x="279.82" y="459.60" width="9.79" height="6.30" fill="#d2dfe4" stroke="#a99d96" stroke-width="0.9"/>
<rect x="289.61" y="459.60" width="9.79" height="6.30" fill="#c9d7dd" stroke="#a99d96" stroke-width="0.9"/>
<rect x="299.40" y="459.60" width="9.79" height="6.30" fill="#b3c3cc" stroke="#a99d96" stroke-width="0.9"/>
<rect x="309.19" y="459.60" width="9.79" height="6.30" fill="#f6f9f9" stroke="#a99d96" stroke-width="0.9"/>
<rect x="318.98" y="459.60" width="9.79" height="6.30" fill="#a8b8c4" stroke="#a99d96" stroke-width="0.9"/>
<rect x="328.77" y="459.60" width="9.79" height="6.30" fill="#e5eff1" stroke="#a99d96" stroke-width="0.9"/>
<rect x="338.56" y="459.60" width="9.79" height="6.30" fill="#b3c3cc" stroke="#a99d96" stroke-width="0.9"/>
<rect x="348.35" y="459.60" width="9.79" height="6.30" fill="#b3c3cc" stroke="#a99d96" stroke-width="0.9"/>
<rect x="358.14" y="459.60" width="9.79" height="6.30" fill="#becdd5" stroke="#a99d96" stroke-width="0.9"/>
<rect x="367.93" y="459.60" width="9.79" height="6.30" fill="#b3c3cc" stroke="#a99d96" stroke-width="0.9"/>
<rect x="50.90" y="459.60" width="7.70" height="6.30" fill="#3f5a7e" stroke="#a99d96" stroke-width="0.9"/>
<rect x="60.50" y="459.60" width="7.80" height="6.30" fill="#3f5a7e" stroke="#a99d96" stroke-width="0.9"/>
<rect x="70.40" y="459.60" width="7.80" height="6.30" fill="#ffffff" stroke="#a99d96" stroke-width="0.9"/>
<rect x="80.70" y="465.90" width="9.80" height="6.30" fill="#3c557d" stroke="#a99d96" stroke-width="0.9"/>
<rect x="90.50" y="465.90" width="9.80" height="6.30" fill="#becdd5" stroke="#a99d96" stroke-width="0.9"/>
<rect x="100.30" y="465.90" width="9.80" height="6.30" fill="#899bac" stroke="#a99d96" stroke-width="0.9"/>
<rect x="110.10" y="465.90" width="9.80" height="6.30" fill="#899bac" stroke="#a99d96" stroke-width="0.9"/>
<rect x="119.90" y="465.90" width="9.80" height="6.30" fill="#f6dbda" stroke="#a99d96" stroke-width="0.9"/>
<rect x="129.70" y="465.90" width="9.80" height="6.30" fill="#a8b8c4" stroke="#a99d96" stroke-width="0.9"/>
<rect x="139.50" y="465.90" width="9.80" height="6.30" fill="#f6f9f9" stroke="#a99d96" stroke-width="0.9"/>
<rect x="149.30" y="465.90" width="9.80" height="6.30" fill="#e5eff1" stroke="#a99d96" stroke-width="0.9"/>
<rect x="159.10" y="465.90" width="9.80" height="6.30" fill="#f5beba" stroke="#a99d96" stroke-width="0.9"/>
<rect x="168.90" y="465.90" width="9.80" height="6.30" fill="#f3aaa6" stroke="#a99d96" stroke-width="0.9"/>
<rect x="178.70" y="465.90" width="9.80" height="6.30" fill="#f6efef" stroke="#a99d96" stroke-width="0.9"/>
<rect x="188.50" y="465.90" width="9.80" height="6.30" fill="#f6f9f9" stroke="#a99d96" stroke-width="0.9"/>
<rect x="201.50" y="465.90" width="9.79" height="6.30" fill="#f6dbda" stroke="#a99d96" stroke-width="0.9"/>
<rect x="211.29" y="465.90" width="9.79" height="6.30" fill="#f6f9f9" stroke="#a99d96" stroke-width="0.9"/>
<rect x="221.08" y="465.90" width="9.79" height="6.30" fill="#76899f" stroke="#a99d96" stroke-width="0.9"/>
<rect x="230.87" y="465.90" width="9.79" height="6.30" fill="#b3c3cc" stroke="#a99d96" stroke-width="0.9"/>
<rect x="240.66" y="465.90" width="9.79" height="6.30" fill="#f6efef" stroke="#a99d96" stroke-width="0.9"/>
<rect x="250.45" y="465.90" width="9.79" height="6.30" fill="#c9d7dd" stroke="#a99d96" stroke-width="0.9"/>
<rect x="260.24" y="465.90" width="9.79" height="6.30" fill="#dce7ea" stroke="#a99d96" stroke-width="0.9"/>
<rect x="270.03" y="465.90" width="9.79" height="6.30" fill="#f5c8c5" stroke="#a99d96" stroke-width="0.9"/>
<rect x="279.82" y="465.90" width="9.79" height="6.30" fill="#f5beba" stroke="#a99d96" stroke-width="0.9"/>
<rect x="289.61" y="465.90" width="9.79" height="6.30" fill="#f5c8c5" stroke="#a99d96" stroke-width="0.9"/>
<rect x="299.40" y="465.90" width="9.79" height="6.30" fill="#a8b8c4" stroke="#a99d96" stroke-width="0.9"/>
<rect x="309.19" y="465.90" width="9.79" height="6.30" fill="#dce7ea" stroke="#a99d96" stroke-width="0.9"/>
<rect x="318.98" y="465.90" width="9.79" height="6.30" fill="#f3aaa6" stroke="#a99d96" stroke-width="0.9"/>
<rect x="328.77" y="465.90" width="9.79" height="6.30" fill="#becdd5" stroke="#a99d96" stroke-width="0.9"/>
<rect x="338.56" y="465.90" width="9.79" height="6.30" fill="#f6f9f9" stroke="#a99d96" stroke-width="0.9"/>
<rect x="348.35" y="465.90" width="9.79" height="6.30" fill="#f6f9f9" stroke="#a99d96" stroke-width="0.9"/>
<rect x="358.14" y="465.90" width="9.79" height="6.30" fill="#f6f9f9" stroke="#a99d96" stroke-width="0.9"/>
<rect x="367.93" y="465.90" width="9.79" height="6.30" fill="#d2dfe4" stroke="#a99d96" stroke-width="0.9"/>
<rect x="50.90" y="465.90" width="7.70" height="6.30" fill="#7a2321" stroke="#a99d96" stroke-width="0.9"/>
<rect x="60.50" y="465.90" width="7.80" height="6.30" fill="#cb3833" stroke="#a99d96" stroke-width="0.9"/>
<rect x="70.40" y="465.90" width="7.80" height="6.30" fill="#ffffff" stroke="#a99d96" stroke-width="0.9"/>
<rect x="80.70" y="472.20" width="9.80" height="6.30" fill="#f4b4b0" stroke="#a99d96" stroke-width="0.9"/>
<rect x="90.50" y="472.20" width="9.80" height="6.30" fill="#f6f9f9" stroke="#a99d96" stroke-width="0.9"/>
<rect x="100.30" y="472.20" width="9.80" height="6.30" fill="#f6f9f9" stroke="#a99d96" stroke-width="0.9"/>
<rect x="110.10" y="472.20" width="9.80" height="6.30" fill="#eef4f5" stroke="#a99d96" stroke-width="0.9"/>
<rect x="119.90" y="472.20" width="9.80" height="6.30" fill="#f6f9f9" stroke="#a99d96" stroke-width="0.9"/>
<rect x="129.70" y="472.20" width="9.80" height="6.30" fill="#f6efef" stroke="#a99d96" stroke-width="0.9"/>
<rect x="139.50" y="472.20" width="9.80" height="6.30" fill="#9daebb" stroke="#a99d96" stroke-width="0.9"/>
<rect x="149.30" y="472.20" width="9.80" height="6.30" fill="#f6f9f9" stroke="#a99d96" stroke-width="0.9"/>
<rect x="159.10" y="472.20" width="9.80" height="6.30" fill="#f6e5e4" stroke="#a99d96" stroke-width="0.9"/>
<rect x="168.90" y="472.20" width="9.80" height="6.30" fill="#f5c8c5" stroke="#a99d96" stroke-width="0.9"/>
<rect x="178.70" y="472.20" width="9.80" height="6.30" fill="#f6f9f9" stroke="#a99d96" stroke-width="0.9"/>
<rect x="188.50" y="472.20" width="9.80" height="6.30" fill="#f6efef" stroke="#a99d96" stroke-width="0.9"/>
<rect x="201.50" y="472.20" width="9.79" height="6.30" fill="#76899f" stroke="#a99d96" stroke-width="0.9"/>
<rect x="211.29" y="472.20" width="9.79" height="6.30" fill="#f6f9f9" stroke="#a99d96" stroke-width="0.9"/>
<rect x="221.08" y="472.20" width="9.79" height="6.30" fill="#e5eff1" stroke="#a99d96" stroke-width="0.9"/>
<rect x="230.87" y="472.20" width="9.79" height="6.30" fill="#f6dbda" stroke="#a99d96" stroke-width="0.9"/>
<rect x="240.66" y="472.20" width="9.79" height="6.30" fill="#dce7ea" stroke="#a99d96" stroke-width="0.9"/>
<rect x="250.45" y="472.20" width="9.79" height="6.30" fill="#e5eff1" stroke="#a99d96" stroke-width="0.9"/>
<rect x="260.24" y="472.20" width="9.79" height="6.30" fill="#f6f9f9" stroke="#a99d96" stroke-width="0.9"/>
<rect x="270.03" y="472.20" width="9.79" height="6.30" fill="#e5eff1" stroke="#a99d96" stroke-width="0.9"/>
<rect x="279.82" y="472.20" width="9.79" height="6.30" fill="#7f92a6" stroke="#a99d96" stroke-width="0.9"/>
<rect x="289.61" y="472.20" width="9.79" height="6.30" fill="#b3c3cc" stroke="#a99d96" stroke-width="0.9"/>
<rect x="299.40" y="472.20" width="9.79" height="6.30" fill="#f6efef" stroke="#a99d96" stroke-width="0.9"/>
<rect x="309.19" y="472.20" width="9.79" height="6.30" fill="#e5eff1" stroke="#a99d96" stroke-width="0.9"/>
<rect x="318.98" y="472.20" width="9.79" height="6.30" fill="#d2dfe4" stroke="#a99d96" stroke-width="0.9"/>
<rect x="328.77" y="472.20" width="9.79" height="6.30" fill="#f6f9f9" stroke="#a99d96" stroke-width="0.9"/>
<rect x="338.56" y="472.20" width="9.79" height="6.30" fill="#b3c3cc" stroke="#a99d96" stroke-width="0.9"/>
<rect x="348.35" y="472.20" width="9.79" height="6.30" fill="#e5eff1" stroke="#a99d96" stroke-width="0.9"/>
<rect x="358.14" y="472.20" width="9.79" height="6.30" fill="#f6f9f9" stroke="#a99d96" stroke-width="0.9"/>
<rect x="367.93" y="472.20" width="9.79" height="6.30" fill="#f6f9f9" stroke="#a99d96" stroke-width="0.9"/>
<rect x="50.90" y="472.20" width="7.70" height="6.30" fill="#7a2321" stroke="#a99d96" stroke-width="0.9"/>
<rect x="60.50" y="472.20" width="7.80" height="6.30" fill="#cb3833" stroke="#a99d96" stroke-width="0.9"/>
<rect x="70.40" y="472.20" width="7.80" height="6.30" fill="#ffffff" stroke="#a99d96" stroke-width="0.9"/>
<rect x="80.70" y="478.50" width="9.80" height="6.30" fill="#ed6e69" stroke="#a99d96" stroke-width="0.9"/>
<rect x="90.50" y="478.50" width="9.80" height="6.30" fill="#f6e5e4" stroke="#a99d96" stroke-width="0.9"/>
<rect x="100.30" y="478.50" width="9.80" height="6.30" fill="#f6f9f9" stroke="#a99d96" stroke-width="0.9"/>
<rect x="110.10" y="478.50" width="9.80" height="6.30" fill="#eef4f5" stroke="#a99d96" stroke-width="0.9"/>
<rect x="119.90" y="478.50" width="9.80" height="6.30" fill="#f6efef" stroke="#a99d96" stroke-width="0.9"/>
<rect x="129.70" y="478.50" width="9.80" height="6.30" fill="#f6f9f9" stroke="#a99d96" stroke-width="0.9"/>
<rect x="139.50" y="478.50" width="9.80" height="6.30" fill="#f5c8c5" stroke="#a99d96" stroke-width="0.9"/>
<rect x="149.30" y="478.50" width="9.80" height="6.30" fill="#f6f9f9" stroke="#a99d96" stroke-width="0.9"/>
<rect x="159.10" y="478.50" width="9.80" height="6.30" fill="#f6d2cf" stroke="#a99d96" stroke-width="0.9"/>
<rect x="168.90" y="478.50" width="9.80" height="6.30" fill="#f6e5e4" stroke="#a99d96" stroke-width="0.9"/>
<rect x="178.70" y="478.50" width="9.80" height="6.30" fill="#b3c3cc" stroke="#a99d96" stroke-width="0.9"/>
<rect x="188.50" y="478.50" width="9.80" height="6.30" fill="#e5eff1" stroke="#a99d96" stroke-width="0.9"/>
<rect x="201.50" y="478.50" width="9.79" height="6.30" fill="#e5eff1" stroke="#a99d96" stroke-width="0.9"/>
<rect x="211.29" y="478.50" width="9.79" height="6.30" fill="#a8b8c4" stroke="#a99d96" stroke-width="0.9"/>
<rect x="221.08" y="478.50" width="9.79" height="6.30" fill="#5b708e" stroke="#a99d96" stroke-width="0.9"/>
<rect x="230.87" y="478.50" width="9.79" height="6.30" fill="#b3c3cc" stroke="#a99d96" stroke-width="0.9"/>
<rect x="240.66" y="478.50" width="9.79" height="6.30" fill="#becdd5" stroke="#a99d96" stroke-width="0.9"/>
<rect x="250.45" y="478.50" width="9.79" height="6.30" fill="#becdd5" stroke="#a99d96" stroke-width="0.9"/>
<rect x="260.24" y="478.50" width="9.79" height="6.30" fill="#becdd5" stroke="#a99d96" stroke-width="0.9"/>
<rect x="270.03" y="478.50" width="9.79" height="6.30" fill="#becdd5" stroke="#a99d96" stroke-width="0.9"/>
<rect x="279.82" y="478.50" width="9.79" height="6.30" fill="#5b708e" stroke="#a99d96" stroke-width="0.9"/>
<rect x="289.61" y="478.50" width="9.79" height="6.30" fill="#f6f9f9" stroke="#a99d96" stroke-width="0.9"/>
<rect x="299.40" y="478.50" width="9.79" height="6.30" fill="#a8b8c4" stroke="#a99d96" stroke-width="0.9"/>
<rect x="309.19" y="478.50" width="9.79" height="6.30" fill="#e5eff1" stroke="#a99d96" stroke-width="0.9"/>
<rect x="318.98" y="478.50" width="9.79" height="6.30" fill="#a8b8c4" stroke="#a99d96" stroke-width="0.9"/>
<rect x="328.77" y="478.50" width="9.79" height="6.30" fill="#becdd5" stroke="#a99d96" stroke-width="0.9"/>
<rect x="338.56" y="478.50" width="9.79" height="6.30" fill="#9daebb" stroke="#a99d96" stroke-width="0.9"/>
<rect x="348.35" y="478.50" width="9.79" height="6.30" fill="#e5eff1" stroke="#a99d96" stroke-width="0.9"/>
<rect x="358.14" y="478.50" width="9.79" height="6.30" fill="#b3c3cc" stroke="#a99d96" stroke-width="0.9"/>
<rect x="367.93" y="478.50" width="9.79" height="6.30" fill="#becdd5" stroke="#a99d96" stroke-width="0.9"/>
<rect x="50.90" y="478.50" width="7.70" height="6.30" fill="#7a2321" stroke="#a99d96" stroke-width="0.9"/>
<rect x="60.50" y="478.50" width="7.80" height="6.30" fill="#cb3833" stroke="#a99d96" stroke-width="0.9"/>
<rect x="70.40" y="478.50" width="7.80" height="6.30" fill="#d9d2d0" stroke="#a99d96" stroke-width="0.9"/>
<text x="396.60" y="259.60" font-size="8.2" text-anchor="middle" fill="#1a1a1a" stroke="#1a1a1a" stroke-width="0.16" textLength="27.5" lengthAdjust="spacingAndGlyphs" >Pathway</text>
<text x="390.30" y="266.92" font-size="7.3" text-anchor="middle" fill="#1a1a1a" stroke="#1a1a1a" stroke-width="0.16" textLength="9.5" lengthAdjust="spacingAndGlyphs" >11</text>
<text x="390.30" y="273.26" font-size="7.3" text-anchor="middle" fill="#1a1a1a" stroke="#1a1a1a" stroke-width="0.16" textLength="9.5" lengthAdjust="spacingAndGlyphs" >58</text>
<text x="390.30" y="279.60" font-size="7.3" text-anchor="middle" fill="#1a1a1a" stroke="#1a1a1a" stroke-width="0.16" textLength="9.5" lengthAdjust="spacingAndGlyphs" >73</text>
<text x="390.30" y="285.94" font-size="7.3" text-anchor="middle" fill="#1a1a1a" stroke="#1a1a1a" stroke-width="0.16" textLength="9.5" lengthAdjust="spacingAndGlyphs" >21</text>
<text x="390.30" y="292.28" font-size="7.3" text-anchor="middle" fill="#1a1a1a" stroke="#1a1a1a" stroke-width="0.16" textLength="9.5" lengthAdjust="spacingAndGlyphs" >54</text>
<text x="390.30" y="298.62" font-size="7.3" text-anchor="middle" fill="#1a1a1a" stroke="#1a1a1a" stroke-width="0.16" textLength="9.5" lengthAdjust="spacingAndGlyphs" >24</text>
<text x="390.30" y="304.96" font-size="7.3" text-anchor="middle" fill="#1a1a1a" stroke="#1a1a1a" stroke-width="0.16" textLength="9.5" lengthAdjust="spacingAndGlyphs" >14</text>
<text x="390.30" y="311.30" font-size="7.3" text-anchor="middle" fill="#1a1a1a" stroke="#1a1a1a" stroke-width="0.16" textLength="9.5" lengthAdjust="spacingAndGlyphs" >15</text>
<text x="390.30" y="317.64" font-size="7.3" text-anchor="middle" fill="#1a1a1a" stroke="#1a1a1a" stroke-width="0.16" textLength="9.5" lengthAdjust="spacingAndGlyphs" >18</text>
<text x="390.30" y="323.98" font-size="7.3" text-anchor="middle" fill="#1a1a1a" stroke="#1a1a1a" stroke-width="0.16" textLength="9.5" lengthAdjust="spacingAndGlyphs" >12</text>
<text x="390.30" y="330.32" font-size="7.3" text-anchor="middle" fill="#1a1a1a" stroke="#1a1a1a" stroke-width="0.16" textLength="9.5" lengthAdjust="spacingAndGlyphs" >22</text>
<text x="390.30" y="336.66" font-size="7.3" text-anchor="middle" fill="#1a1a1a" stroke="#1a1a1a" stroke-width="0.16" textLength="9.5" lengthAdjust="spacingAndGlyphs" >55</text>
<text x="390.30" y="343.00" font-size="7.3" text-anchor="middle" fill="#1a1a1a" stroke="#1a1a1a" stroke-width="0.16" textLength="4.75" lengthAdjust="spacingAndGlyphs" >8</text>
<text x="390.30" y="349.34" font-size="7.3" text-anchor="middle" fill="#1a1a1a" stroke="#1a1a1a" stroke-width="0.16" textLength="9.5" lengthAdjust="spacingAndGlyphs" >17</text>
<text x="390.30" y="355.68" font-size="7.3" text-anchor="middle" fill="#1a1a1a" stroke="#1a1a1a" stroke-width="0.16" textLength="9.5" lengthAdjust="spacingAndGlyphs" >59</text>
<text x="390.30" y="362.02" font-size="7.3" text-anchor="middle" fill="#1a1a1a" stroke="#1a1a1a" stroke-width="0.16" textLength="9.5" lengthAdjust="spacingAndGlyphs" >10</text>
<text x="390.30" y="368.36" font-size="7.3" text-anchor="middle" fill="#1a1a1a" stroke="#1a1a1a" stroke-width="0.16" textLength="9.5" lengthAdjust="spacingAndGlyphs" >19</text>
<text x="390.30" y="374.70" font-size="7.3" text-anchor="middle" fill="#1a1a1a" stroke="#1a1a1a" stroke-width="0.16" textLength="4.75" lengthAdjust="spacingAndGlyphs" >9</text>
<text x="390.30" y="381.04" font-size="7.3" text-anchor="middle" fill="#1a1a1a" stroke="#1a1a1a" stroke-width="0.16" textLength="9.5" lengthAdjust="spacingAndGlyphs" >72</text>
<text x="390.30" y="389.90" font-size="7.3" text-anchor="middle" fill="#1a1a1a" stroke="#1a1a1a" stroke-width="0.16" textLength="9.5" lengthAdjust="spacingAndGlyphs" >84</text>
<text x="390.30" y="396.20" font-size="7.3" text-anchor="middle" fill="#1a1a1a" stroke="#1a1a1a" stroke-width="0.16" textLength="14.25" lengthAdjust="spacingAndGlyphs" >100</text>
<text x="390.30" y="402.50" font-size="7.3" text-anchor="middle" fill="#1a1a1a" stroke="#1a1a1a" stroke-width="0.16" textLength="14.25" lengthAdjust="spacingAndGlyphs" >101</text>
<text x="390.30" y="408.80" font-size="7.3" text-anchor="middle" fill="#1a1a1a" stroke="#1a1a1a" stroke-width="0.16" textLength="9.5" lengthAdjust="spacingAndGlyphs" >82</text>
<text x="390.30" y="415.10" font-size="7.3" text-anchor="middle" fill="#1a1a1a" stroke="#1a1a1a" stroke-width="0.16" textLength="9.5" lengthAdjust="spacingAndGlyphs" >83</text>
<text x="390.30" y="421.40" font-size="7.3" text-anchor="middle" fill="#1a1a1a" stroke="#1a1a1a" stroke-width="0.16" textLength="9.5" lengthAdjust="spacingAndGlyphs" >86</text>
<text x="390.30" y="427.70" font-size="7.3" text-anchor="middle" fill="#1a1a1a" stroke="#1a1a1a" stroke-width="0.16" textLength="9.5" lengthAdjust="spacingAndGlyphs" >91</text>
<text x="390.30" y="434.00" font-size="7.3" text-anchor="middle" fill="#1a1a1a" stroke="#1a1a1a" stroke-width="0.16" textLength="9.5" lengthAdjust="spacingAndGlyphs" >85</text>
<text x="390.30" y="440.30" font-size="7.3" text-anchor="middle" fill="#1a1a1a" stroke="#1a1a1a" stroke-width="0.16" textLength="9.5" lengthAdjust="spacingAndGlyphs" >98</text>
<text x="390.30" y="446.60" font-size="7.3" text-anchor="middle" fill="#1a1a1a" stroke="#1a1a1a" stroke-width="0.16" textLength="9.5" lengthAdjust="spacingAndGlyphs" >93</text>
<text x="390.30" y="452.90" font-size="7.3" text-anchor="middle" fill="#1a1a1a" stroke="#1a1a1a" stroke-width="0.16" textLength="9.5" lengthAdjust="spacingAndGlyphs" >97</text>
<text x="390.30" y="459.20" font-size="7.3" text-anchor="middle" fill="#1a1a1a" stroke="#1a1a1a" stroke-width="0.16" textLength="9.5" lengthAdjust="spacingAndGlyphs" >99</text>
<text x="390.30" y="465.50" font-size="7.3" text-anchor="middle" fill="#1a1a1a" stroke="#1a1a1a" stroke-width="0.16" textLength="14.25" lengthAdjust="spacingAndGlyphs" >102</text>
<text x="390.30" y="471.80" font-size="7.3" text-anchor="middle" fill="#1a1a1a" stroke="#1a1a1a" stroke-width="0.16" textLength="9.5" lengthAdjust="spacingAndGlyphs" >52</text>
<text x="390.30" y="478.10" font-size="7.3" text-anchor="middle" fill="#1a1a1a" stroke="#1a1a1a" stroke-width="0.16" textLength="4.75" lengthAdjust="spacingAndGlyphs" >7</text>
<text x="390.30" y="484.40" font-size="7.3" text-anchor="middle" fill="#1a1a1a" stroke="#1a1a1a" stroke-width="0.16" textLength="9.5" lengthAdjust="spacingAndGlyphs" >71</text>
<text x="51.80" y="489.00" font-size="8.5" text-anchor="start" fill="#1a1a1a" stroke="#1a1a1a" stroke-width="0.1" textLength="20.98" lengthAdjust="spacingAndGlyphs" transform="rotate(90 51.80 489.00)" >Group</text>
<text x="62.80" y="489.00" font-size="8.5" text-anchor="start" fill="#1a1a1a" stroke="#1a1a1a" stroke-width="0.1" textLength="27.7" lengthAdjust="spacingAndGlyphs" transform="rotate(90 62.80 489.00)" >Subtype</text>
<text x="73.60" y="489.00" font-size="8.5" text-anchor="start" fill="#1a1a1a" stroke="#1a1a1a" stroke-width="0.1" textLength="30.21" lengthAdjust="spacingAndGlyphs" transform="rotate(90 73.60 489.00)" >Newborn</text>
<text x="84.00" y="489.00" font-size="8.5" text-anchor="start" fill="#1a1a1a" stroke="#1a1a1a" stroke-width="0.1" textLength="25.18" lengthAdjust="spacingAndGlyphs" transform="rotate(90 84.00 489.00)" >RANKL</text>
<text x="93.80" y="489.00" font-size="8.5" text-anchor="start" fill="#1a1a1a" stroke="#1a1a1a" stroke-width="0.1" textLength="15.1" lengthAdjust="spacingAndGlyphs" transform="rotate(90 93.80 489.00)" >SCF</text>
<text x="103.60" y="489.00" font-size="8.5" text-anchor="start" fill="#1a1a1a" stroke="#1a1a1a" stroke-width="0.1" textLength="20.14" lengthAdjust="spacingAndGlyphs" transform="rotate(90 103.60 489.00)" >CD8A</text>
<text x="113.40" y="489.00" font-size="8.5" text-anchor="start" fill="#1a1a1a" stroke="#1a1a1a" stroke-width="0.1" textLength="19.73" lengthAdjust="spacingAndGlyphs" transform="rotate(90 113.40 489.00)" >IL12B</text>
<text x="123.20" y="489.00" font-size="8.5" text-anchor="start" fill="#1a1a1a" stroke="#1a1a1a" stroke-width="0.1" textLength="15.1" lengthAdjust="spacingAndGlyphs" transform="rotate(90 123.20 489.00)" >CD5</text>
<text x="133.00" y="489.00" font-size="8.5" text-anchor="start" fill="#1a1a1a" stroke="#1a1a1a" stroke-width="0.1" textLength="15.1" lengthAdjust="spacingAndGlyphs" transform="rotate(90 133.00 489.00)" >CD6</text>
<text x="142.80" y="489.00" font-size="8.5" text-anchor="start" fill="#1a1a1a" stroke="#1a1a1a" stroke-width="0.1" textLength="22.1" lengthAdjust="spacingAndGlyphs" transform="rotate(90 142.80 489.00)" >MCP.4</text>
<text x="152.60" y="489.00" font-size="8.5" text-anchor="start" fill="#1a1a1a" stroke="#1a1a1a" stroke-width="0.1" textLength="27.14" lengthAdjust="spacingAndGlyphs" transform="rotate(90 152.60 489.00)" >MMP.10</text>
<text x="162.40" y="489.00" font-size="8.5" text-anchor="start" fill="#1a1a1a" stroke="#1a1a1a" stroke-width="0.1" textLength="25.18" lengthAdjust="spacingAndGlyphs" transform="rotate(90 162.40 489.00)" >IL10RB</text>
<text x="172.20" y="489.00" font-size="8.5" text-anchor="start" fill="#1a1a1a" stroke="#1a1a1a" stroke-width="0.1" textLength="20.56" lengthAdjust="spacingAndGlyphs" transform="rotate(90 172.20 489.00)" >CSF.1</text>
<text x="182.00" y="489.00" font-size="8.5" text-anchor="start" fill="#1a1a1a" stroke="#1a1a1a" stroke-width="0.1" textLength="16.78" lengthAdjust="spacingAndGlyphs" transform="rotate(90 182.00 489.00)" >OPG</text>
<text x="191.80" y="489.00" font-size="8.5" text-anchor="start" fill="#1a1a1a" stroke="#1a1a1a" stroke-width="0.1" textLength="21.39" lengthAdjust="spacingAndGlyphs" transform="rotate(90 191.80 489.00)" >DNER</text>
<text x="204.09" y="489.00" font-size="8.5" text-anchor="start" fill="#1a1a1a" stroke="#1a1a1a" stroke-width="0.1" textLength="23.5" lengthAdjust="spacingAndGlyphs" transform="rotate(90 204.09 489.00)" >CCL23</text>
<text x="213.88" y="489.00" font-size="8.5" text-anchor="start" fill="#1a1a1a" stroke="#1a1a1a" stroke-width="0.1" textLength="24.34" lengthAdjust="spacingAndGlyphs" transform="rotate(90 213.88 489.00)" >CXCL9</text>
<text x="223.67" y="489.00" font-size="8.5" text-anchor="start" fill="#1a1a1a" stroke="#1a1a1a" stroke-width="0.1" textLength="15.94" lengthAdjust="spacingAndGlyphs" transform="rotate(90 223.67 489.00)" >HGF</text>
<text x="233.47" y="489.00" font-size="8.5" text-anchor="start" fill="#1a1a1a" stroke="#1a1a1a" stroke-width="0.1" textLength="13.71" lengthAdjust="spacingAndGlyphs" transform="rotate(90 233.47 489.00)" >uPA</text>
<text x="243.25" y="489.00" font-size="8.5" text-anchor="start" fill="#1a1a1a" stroke="#1a1a1a" stroke-width="0.1" textLength="25.18" lengthAdjust="spacingAndGlyphs" transform="rotate(90 243.25 489.00)" >VEGFA</text>
<text x="253.04" y="489.00" font-size="8.5" text-anchor="start" fill="#1a1a1a" stroke="#1a1a1a" stroke-width="0.1" textLength="24.34" lengthAdjust="spacingAndGlyphs" transform="rotate(90 253.04 489.00)" >IL18R1</text>
<text x="262.83" y="489.00" font-size="8.5" text-anchor="start" fill="#1a1a1a" stroke="#1a1a1a" stroke-width="0.1" textLength="21.4" lengthAdjust="spacingAndGlyphs" transform="rotate(90 262.83 489.00)" >TRAIL</text>
<text x="272.62" y="489.00" font-size="8.5" text-anchor="start" fill="#1a1a1a" stroke="#1a1a1a" stroke-width="0.1" textLength="19.3" lengthAdjust="spacingAndGlyphs" transform="rotate(90 272.62 489.00)" >CCL4</text>
<text x="282.41" y="489.00" font-size="8.5" text-anchor="start" fill="#1a1a1a" stroke="#1a1a1a" stroke-width="0.1" textLength="10.49" lengthAdjust="spacingAndGlyphs" transform="rotate(90 282.41 489.00)" >IL7</text>
<text x="292.20" y="489.00" font-size="8.5" text-anchor="start" fill="#1a1a1a" stroke="#1a1a1a" stroke-width="0.1" textLength="22.94" lengthAdjust="spacingAndGlyphs" transform="rotate(90 292.20 489.00)" >MMP.1</text>
<text x="301.99" y="489.00" font-size="8.5" text-anchor="start" fill="#1a1a1a" stroke="#1a1a1a" stroke-width="0.1" textLength="24.34" lengthAdjust="spacingAndGlyphs" transform="rotate(90 301.99 489.00)" >CXCL5</text>
<text x="311.78" y="489.00" font-size="8.5" text-anchor="start" fill="#1a1a1a" stroke="#1a1a1a" stroke-width="0.1" textLength="24.34" lengthAdjust="spacingAndGlyphs" transform="rotate(90 311.78 489.00)" >CXCL6</text>
<text x="321.57" y="489.00" font-size="8.5" text-anchor="start" fill="#1a1a1a" stroke="#1a1a1a" stroke-width="0.1" textLength="20.98" lengthAdjust="spacingAndGlyphs" transform="rotate(90 321.57 489.00)" >PD.L1</text>
<text x="331.36" y="489.00" font-size="8.5" text-anchor="start" fill="#1a1a1a" stroke="#1a1a1a" stroke-width="0.1" textLength="26.85" lengthAdjust="spacingAndGlyphs" transform="rotate(90 331.36 489.00)" >TWEAK</text>
<text x="341.15" y="489.00" font-size="8.5" text-anchor="start" fill="#1a1a1a" stroke="#1a1a1a" stroke-width="0.1" textLength="21.82" lengthAdjust="spacingAndGlyphs" transform="rotate(90 341.15 489.00)" >AXIN1</text>
<text x="350.94" y="489.00" font-size="8.5" text-anchor="start" fill="#1a1a1a" stroke="#1a1a1a" stroke-width="0.1" textLength="45.0" lengthAdjust="spacingAndGlyphs" transform="rotate(90 350.94 489.00)" >LAP.TGF.beta.1</text>
<text x="360.73" y="489.00" font-size="8.5" text-anchor="start" fill="#1a1a1a" stroke="#1a1a1a" stroke-width="0.1" textLength="19.3" lengthAdjust="spacingAndGlyphs" transform="rotate(90 360.73 489.00)" >CD40</text>
<text x="370.52" y="489.00" font-size="8.5" text-anchor="start" fill="#1a1a1a" stroke="#1a1a1a" stroke-width="0.1" textLength="23.5" lengthAdjust="spacingAndGlyphs" transform="rotate(90 370.52 489.00)" >CD244</text>
<path d="M105.20,253.10V249.40H115.00V253.10" stroke="#262626" stroke-width="0.95" fill="none"/>
<path d="M95.40,253.10V246.50H110.10V249.40" stroke="#262626" stroke-width="0.95" fill="none"/>
<path d="M124.80,253.10V250.00H134.60V253.10" stroke="#262626" stroke-width="0.95" fill="none"/>
<path d="M102.75,246.50V243.50H129.70V250.00" stroke="#262626" stroke-width="0.95" fill="none"/>
<path d="M85.60,253.10V242.50H116.22V243.50" stroke="#262626" stroke-width="0.95" fill="none"/>
<path d="M164.00,253.10V249.40H173.80V253.10" stroke="#262626" stroke-width="0.95" fill="none"/>
<path d="M183.60,253.10V250.30H193.40V253.10" stroke="#262626" stroke-width="0.95" fill="none"/>
<path d="M168.90,249.40V246.50H188.50V250.30" stroke="#262626" stroke-width="0.95" fill="none"/>
<path d="M154.20,253.10V243.00H178.70V246.50" stroke="#262626" stroke-width="0.95" fill="none"/>
<path d="M144.40,253.10V242.00H166.45V243.00" stroke="#262626" stroke-width="0.95" fill="none"/>
<path d="M100.91,242.50V233.30H155.43V242.00" stroke="#262626" stroke-width="0.95" fill="none"/>
<path d="M206.40,253.10V241.30H216.19V253.10" stroke="#262626" stroke-width="0.95" fill="none"/>
<path d="M255.34,253.10V249.50H265.13V253.10" stroke="#262626" stroke-width="0.95" fill="none"/>
<path d="M245.56,253.10V247.50H260.24V249.50" stroke="#262626" stroke-width="0.95" fill="none"/>
<path d="M235.77,253.10V246.00H252.90V247.50" stroke="#262626" stroke-width="0.95" fill="none"/>
<path d="M225.97,253.10V245.40H244.33V246.00" stroke="#262626" stroke-width="0.95" fill="none"/>
<path d="M211.29,241.30V232.60H235.15V245.40" stroke="#262626" stroke-width="0.95" fill="none"/>
<path d="M284.71,253.10V244.00H294.50V253.10" stroke="#262626" stroke-width="0.95" fill="none"/>
<path d="M274.92,253.10V243.90H289.61V244.00" stroke="#262626" stroke-width="0.95" fill="none"/>
<path d="M363.03,253.10V251.50H372.82V253.10" stroke="#262626" stroke-width="0.95" fill="none"/>
<path d="M353.25,253.10V250.90H367.93V251.50" stroke="#262626" stroke-width="0.95" fill="none"/>
<path d="M343.45,253.10V250.30H360.59V250.90" stroke="#262626" stroke-width="0.95" fill="none"/>
<path d="M333.66,253.10V249.70H352.02V250.30" stroke="#262626" stroke-width="0.95" fill="none"/>
<path d="M323.88,253.10V248.90H342.84V249.70" stroke="#262626" stroke-width="0.95" fill="none"/>
<path d="M314.08,253.10V247.60H333.36V248.90" stroke="#262626" stroke-width="0.95" fill="none"/>
<path d="M304.29,253.10V243.60H323.72V247.60" stroke="#262626" stroke-width="0.95" fill="none"/>
<path d="M282.27,243.90V239.40H314.01V243.60" stroke="#262626" stroke-width="0.95" fill="none"/>
<path d="M223.22,232.60V228.40H298.14V239.40" stroke="#262626" stroke-width="0.95" fill="none"/>
<path d="M128.17,233.30V216.50H260.68V228.40" stroke="#262626" stroke-width="0.95" fill="none"/>
<path d="M50.90,283.19H44.20V289.53H50.90" stroke="#262626" stroke-width="0.95" fill="none"/>
<path d="M50.90,276.85H42.60V286.36H44.20" stroke="#262626" stroke-width="0.95" fill="none"/>
<path d="M50.90,270.51H41.90V281.61H42.60" stroke="#262626" stroke-width="0.95" fill="none"/>
<path d="M50.90,264.17H38.50V276.06H41.90" stroke="#262626" stroke-width="0.95" fill="none"/>
<path d="M50.90,308.55H45.40V314.89H50.90" stroke="#262626" stroke-width="0.95" fill="none"/>
<path d="M50.90,302.21H43.40V311.72H45.40" stroke="#262626" stroke-width="0.95" fill="none"/>
<path d="M50.90,295.87H41.30V306.97H43.40" stroke="#262626" stroke-width="0.95" fill="none"/>
<path d="M50.90,327.57H44.10V333.91H50.90" stroke="#262626" stroke-width="0.95" fill="none"/>
<path d="M50.90,321.23H42.40V330.74H44.10" stroke="#262626" stroke-width="0.95" fill="none"/>
<path d="M50.90,340.25H44.40V346.59H50.90" stroke="#262626" stroke-width="0.95" fill="none"/>
<path d="M50.90,371.95H44.80V378.29H50.90" stroke="#262626" stroke-width="0.95" fill="none"/>
<path d="M50.90,365.61H44.40V375.12H44.80" stroke="#262626" stroke-width="0.95" fill="none"/>
<path d="M50.90,359.27H44.00V370.37H44.40" stroke="#262626" stroke-width="0.95" fill="none"/>
<path d="M50.90,352.93H43.60V364.82H44.00" stroke="#262626" stroke-width="0.95" fill="none"/>
<path d="M44.40,343.42H41.50V358.87H43.60" stroke="#262626" stroke-width="0.95" fill="none"/>
<path d="M42.40,325.99H40.30V351.15H41.50" stroke="#262626" stroke-width="0.95" fill="none"/>
<path d="M41.30,301.42H38.40V338.57H40.30" stroke="#262626" stroke-width="0.95" fill="none"/>
<path d="M38.50,270.11H31.60V319.99H38.40" stroke="#262626" stroke-width="0.95" fill="none"/>
<path d="M50.90,393.45H45.80V399.75H50.90" stroke="#262626" stroke-width="0.95" fill="none"/>
<path d="M50.90,387.15H43.30V396.60H45.80" stroke="#262626" stroke-width="0.95" fill="none"/>
<path d="M50.90,412.35H45.80V418.65H50.90" stroke="#262626" stroke-width="0.95" fill="none"/>
<path d="M50.90,406.05H41.30V415.50H45.80" stroke="#262626" stroke-width="0.95" fill="none"/>
<path d="M43.30,391.88H37.40V410.77H41.30" stroke="#262626" stroke-width="0.95" fill="none"/>
<path d="M50.90,431.25H44.60V437.55H50.90" stroke="#262626" stroke-width="0.95" fill="none"/>
<path d="M50.90,424.95H43.30V434.40H44.60" stroke="#262626" stroke-width="0.95" fill="none"/>
<path d="M50.90,456.45H45.30V462.75H50.90" stroke="#262626" stroke-width="0.95" fill="none"/>
<path d="M50.90,450.15H43.20V459.60H45.30" stroke="#262626" stroke-width="0.95" fill="none"/>
<path d="M50.90,443.85H42.30V454.88H43.20" stroke="#262626" stroke-width="0.95" fill="none"/>
<path d="M43.30,429.67H38.50V449.36H42.30" stroke="#262626" stroke-width="0.95" fill="none"/>
<path d="M50.90,475.35H40.50V481.65H50.90" stroke="#262626" stroke-width="0.95" fill="none"/>
<path d="M50.90,469.05H35.70V478.50H40.50" stroke="#262626" stroke-width="0.95" fill="none"/>
<path d="M38.50,439.52H34.70V473.77H35.70" stroke="#262626" stroke-width="0.95" fill="none"/>
<path d="M37.40,401.32H24.30V456.65H34.70" stroke="#262626" stroke-width="0.95" fill="none"/>
<path d="M31.60,295.05H7.90V428.99H24.30" stroke="#262626" stroke-width="0.95" fill="none"/>
<defs><linearGradient id="cb" x1="0" y1="0" x2="0" y2="1">
<stop offset="0.000" stop-color="#e52d2d"/>
<stop offset="0.050" stop-color="#e84441"/>
<stop offset="0.100" stop-color="#eb5955"/>
<stop offset="0.150" stop-color="#ed6e69"/>
<stop offset="0.200" stop-color="#f0827d"/>
<stop offset="0.250" stop-color="#f29692"/>
<stop offset="0.300" stop-color="#f3aaa6"/>
<stop offset="0.350" stop-color="#f5beba"/>
<stop offset="0.400" stop-color="#f6d2cf"/>
<stop offset="0.450" stop-color="#f6e5e4"/>
<stop offset="0.500" stop-color="#f6f9f9"/>
<stop offset="0.550" stop-color="#e5eff1"/>
<stop offset="0.600" stop-color="#d2dfe4"/>
<stop offset="0.650" stop-color="#becdd5"/>
<stop offset="0.700" stop-color="#a8b8c4"/>
<stop offset="0.750" stop-color="#92a4b3"/>
<stop offset="0.800" stop-color="#7f92a6"/>
<stop offset="0.850" stop-color="#6c8099"/>
<stop offset="0.900" stop-color="#5b708e"/>
<stop offset="0.950" stop-color="#4c6385"/>
<stop offset="1.000" stop-color="#3c557d"/>
</linearGradient></defs>
<rect x="416.2" y="252.7" width="8.6" height="102.1" fill="url(#cb)"/>
<text x="431.00" y="255.80" font-size="8.6" text-anchor="start" fill="#1a1a1a" stroke="#1a1a1a" stroke-width="0.06" >1</text>
<text x="428.00" y="281.40" font-size="8.6" text-anchor="start" fill="#1a1a1a" stroke="#1a1a1a" stroke-width="0.06" >0.5</text>
<text x="431.00" y="306.90" font-size="8.6" text-anchor="start" fill="#1a1a1a" stroke="#1a1a1a" stroke-width="0.06" >0</text>
<text x="428.00" y="332.40" font-size="8.6" text-anchor="start" fill="#1a1a1a" stroke="#1a1a1a" stroke-width="0.06" >0.5</text>
<text x="431.00" y="357.90" font-size="8.6" text-anchor="start" fill="#1a1a1a" stroke="#1a1a1a" stroke-width="0.06" >1</text>
<rect x="426.00" y="329.10" width="1.8" height="0.9" fill="#1a1a1a"/>
<rect x="429.00" y="354.60" width="1.8" height="0.9" fill="#1a1a1a"/>
<text x="445.80" y="257.00" font-size="8.2" text-anchor="start" fill="#1a1a1a" stroke="#1a1a1a" stroke-width="0.1" textLength="27.2" lengthAdjust="spacingAndGlyphs" >Pathway</text>
<rect x="453.60" y="260.10" width="12.00" height="9.83" fill="#b17f2e" stroke="#a09590" stroke-width="0.8"/>
<text x="468.00" y="267.40" font-size="7.0" text-anchor="start" fill="#1a1a1a" stroke="#1a1a1a" stroke-width="0.04" textLength="45.447300000000006" lengthAdjust="spacingAndGlyphs" >Pro- inflammatory</text>
<rect x="453.60" y="269.93" width="12.00" height="9.83" fill="#d49d33" stroke="#a09590" stroke-width="0.8"/>
<text x="468.00" y="277.23" font-size="7.0" text-anchor="start" fill="#1a1a1a" stroke="#1a1a1a" stroke-width="0.04" textLength="46.409400000000005" lengthAdjust="spacingAndGlyphs" >Anti- inflammatory</text>
<rect x="453.60" y="279.76" width="12.00" height="9.83" fill="#f6b52f" stroke="#a09590" stroke-width="0.8"/>
<text x="468.00" y="287.06" font-size="7.0" text-anchor="start" fill="#1a1a1a" stroke="#1a1a1a" stroke-width="0.04" textLength="47.385000000000005" lengthAdjust="spacingAndGlyphs" >Bone homeostasis</text>
<rect x="453.60" y="289.59" width="12.00" height="9.83" fill="#ea7330" stroke="#a09590" stroke-width="0.8"/>
<text x="468.00" y="296.89" font-size="7.0" text-anchor="start" fill="#1a1a1a" stroke="#1a1a1a" stroke-width="0.04" textLength="44.8227" lengthAdjust="spacingAndGlyphs" >ECM degradation</text>
<rect x="453.60" y="299.42" width="12.00" height="9.83" fill="#f5957c" stroke="#a09590" stroke-width="0.8"/>
<text x="468.00" y="306.72" font-size="7.0" text-anchor="start" fill="#1a1a1a" stroke="#1a1a1a" stroke-width="0.04" textLength="25.294500000000003" lengthAdjust="spacingAndGlyphs" >Apoptosis</text>
<rect x="453.60" y="309.25" width="12.00" height="9.83" fill="#ffffff" stroke="#a09590" stroke-width="0.8"/>
<text x="468.00" y="316.55" font-size="7.0" text-anchor="start" fill="#1a1a1a" stroke="#1a1a1a" stroke-width="0.04" textLength="34.569" lengthAdjust="spacingAndGlyphs" >Growth factor</text>
<text x="445.90" y="330.70" font-size="8.2" text-anchor="start" fill="#1a1a1a" stroke="#1a1a1a" stroke-width="0.1" textLength="20.8" lengthAdjust="spacingAndGlyphs" >Group</text>
<rect x="454.00" y="333.80" width="11.90" height="10.20" fill="#3f5a7e" stroke="#a09590" stroke-width="0.8"/>
<text x="468.60" y="341.70" font-size="8.8" text-anchor="start" fill="#1a1a1a" stroke="#1a1a1a" stroke-width="0.06" textLength="26.43640625" lengthAdjust="spacingAndGlyphs" >Controls</text>
<rect x="454.00" y="344.00" width="11.90" height="10.20" fill="#7a2321" stroke="#a09590" stroke-width="0.8"/>
<text x="468.60" y="351.90" font-size="8.8" text-anchor="start" fill="#1a1a1a" stroke="#1a1a1a" stroke-width="0.06" textLength="15.385921875" lengthAdjust="spacingAndGlyphs" >MPS</text>
<text x="444.80" y="365.00" font-size="8.2" text-anchor="start" fill="#1a1a1a" stroke="#1a1a1a" stroke-width="0.1" textLength="27.6" lengthAdjust="spacingAndGlyphs" >Subtype</text>
<rect x="454.00" y="368.00" width="11.90" height="10.00" fill="#3f5a7e" stroke="#a09590" stroke-width="0.8"/>
<text x="468.60" y="375.80" font-size="8.8" text-anchor="start" fill="#1a1a1a" stroke="#1a1a1a" stroke-width="0.06" textLength="26.43640625" lengthAdjust="spacingAndGlyphs" >Controls</text>
<rect x="454.00" y="378.00" width="11.90" height="10.00" fill="#cb3833" stroke="#a09590" stroke-width="0.8"/>
<text x="468.60" y="385.80" font-size="8.8" text-anchor="start" fill="#1a1a1a" stroke="#1a1a1a" stroke-width="0.06" textLength="26.825796874999998" lengthAdjust="spacingAndGlyphs" >MPS-1H</text>
<rect x="454.00" y="388.00" width="11.90" height="10.00" fill="#ea4545" stroke="#a09590" stroke-width="0.8"/>
<text x="468.60" y="395.80" font-size="8.8" text-anchor="start" fill="#1a1a1a" stroke="#1a1a1a" stroke-width="0.06" textLength="33.534187499999994" lengthAdjust="spacingAndGlyphs" >MPS-1H/S</text>
<rect x="454.00" y="398.00" width="11.90" height="10.00" fill="#f07c6c" stroke="#a09590" stroke-width="0.8"/>
<text x="468.60" y="405.80" font-size="8.8" text-anchor="start" fill="#1a1a1a" stroke="#1a1a1a" stroke-width="0.06" textLength="21.698265624999998" lengthAdjust="spacingAndGlyphs" >MPS-2</text>
<rect x="454.00" y="408.00" width="11.90" height="10.00" fill="#e9a22a" stroke="#a09590" stroke-width="0.8"/>
<text x="468.60" y="415.80" font-size="8.8" text-anchor="start" fill="#1a1a1a" stroke="#1a1a1a" stroke-width="0.06" textLength="21.698265624999998" lengthAdjust="spacingAndGlyphs" >MPS-4</text>
<rect x="454.00" y="418.00" width="11.90" height="10.00" fill="#f8c0c2" stroke="#a09590" stroke-width="0.8"/>
<text x="468.60" y="425.80" font-size="8.8" text-anchor="start" fill="#1a1a1a" stroke="#1a1a1a" stroke-width="0.06" textLength="21.698265624999998" lengthAdjust="spacingAndGlyphs" >MPS-6</text>
<text x="444.20" y="438.00" font-size="8.2" text-anchor="start" fill="#1a1a1a" stroke="#1a1a1a" stroke-width="0.1" textLength="29.612718750000003" lengthAdjust="spacingAndGlyphs" >Newborn</text>
<rect x="454.00" y="441.70" width="11.90" height="10.20" fill="#d9d2d0" stroke="#a09590" stroke-width="0.8"/>
<text x="468.60" y="449.60" font-size="8.8" text-anchor="start" fill="#1a1a1a" stroke="#1a1a1a" stroke-width="0.06" textLength="11.582984374999999" lengthAdjust="spacingAndGlyphs" >Yes</text>
<rect x="454.00" y="451.90" width="11.90" height="10.20" fill="#ffffff" stroke="#a09590" stroke-width="0.8"/>
<text x="468.60" y="459.80" font-size="8.8" text-anchor="start" fill="#1a1a1a" stroke="#1a1a1a" stroke-width="0.06" textLength="9.075796875" lengthAdjust="spacingAndGlyphs" >No</text>
<rect x="0.5" y="0.5" width="519" height="537" fill="none" stroke="#000" stroke-width="1.2"/>
</g></svg></body></html>
